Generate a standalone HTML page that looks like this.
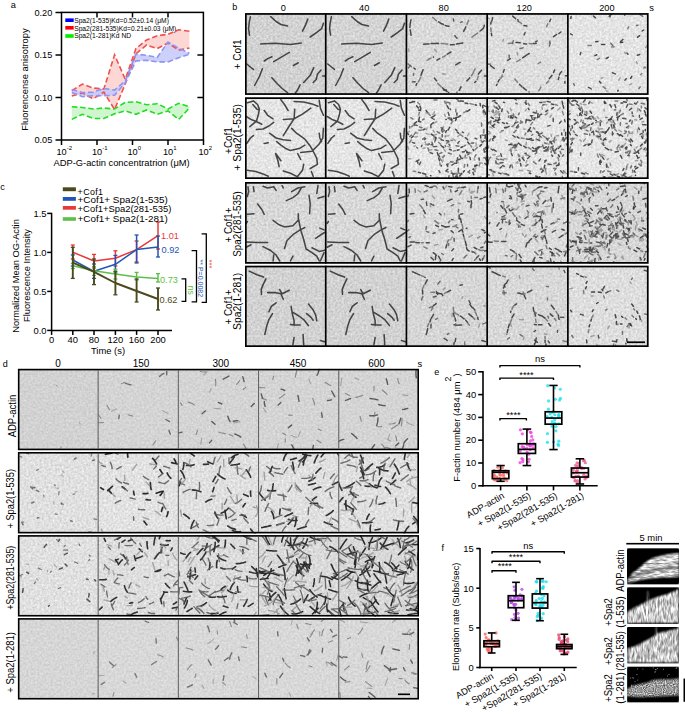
<!DOCTYPE html>
<html><head><meta charset="utf-8"><style>
html,body{margin:0;padding:0;background:#fff;width:685px;height:714px;overflow:hidden}
svg{display:block;font-family:"Liberation Sans", sans-serif}
</style></head><body>
<svg width="685" height="714" viewBox="0 0 685 714">
<defs>
<filter id="nz" x="0" y="0" width="100%" height="100%" color-interpolation-filters="sRGB"><feTurbulence type="fractalNoise" baseFrequency="0.45" numOctaves="2" seed="4" result="t"/><feColorMatrix in="t" type="matrix" values="1 0 0 0 0  1 0 0 0 0  1 0 0 0 0  0 0 0 0 1" result="g0"/><feGaussianBlur in="g0" stdDeviation="0.5" result="g"/><feComposite in="SourceGraphic" in2="g" operator="arithmetic" k1="0" k2="1" k3="0.24" k4="-0.12"/></filter>
<filter id="kn0" x="0" y="0" width="100%" height="100%" color-interpolation-filters="sRGB"><feGaussianBlur in="SourceGraphic" stdDeviation="1.2" result="b"/><feTurbulence type="fractalNoise" baseFrequency="0.15 0.6" numOctaves="2" seed="7" result="t"/><feColorMatrix in="t" type="matrix" values="1 0 0 0 0  1 0 0 0 0  1 0 0 0 0  0 0 0 0 1" result="g"/><feComposite in="b" in2="g" operator="arithmetic" k1="1.2" k2="0.38" k3="0" k4="-0.04"/></filter>
<filter id="kn1" x="0" y="0" width="100%" height="100%" color-interpolation-filters="sRGB"><feGaussianBlur in="SourceGraphic" stdDeviation="1.2" result="b"/><feTurbulence type="fractalNoise" baseFrequency="0.6 0.15" numOctaves="2" seed="9" result="t"/><feColorMatrix in="t" type="matrix" values="1 0 0 0 0  1 0 0 0 0  1 0 0 0 0  0 0 0 0 1" result="g"/><feComposite in="b" in2="g" operator="arithmetic" k1="1.2" k2="0.38" k3="0" k4="-0.04"/></filter>
<filter id="kn2" x="0" y="0" width="100%" height="100%" color-interpolation-filters="sRGB"><feGaussianBlur in="SourceGraphic" stdDeviation="1.2" result="b"/><feTurbulence type="fractalNoise" baseFrequency="0.6 0.15" numOctaves="2" seed="11" result="t"/><feColorMatrix in="t" type="matrix" values="1 0 0 0 0  1 0 0 0 0  1 0 0 0 0  0 0 0 0 1" result="g"/><feComposite in="b" in2="g" operator="arithmetic" k1="1.2" k2="0.38" k3="0" k4="-0.04"/></filter>
<filter id="kn3" x="0" y="0" width="100%" height="100%" color-interpolation-filters="sRGB"><feGaussianBlur in="SourceGraphic" stdDeviation="1.2" result="b"/><feTurbulence type="fractalNoise" baseFrequency="0.9" numOctaves="1" seed="13" result="t"/><feColorMatrix in="t" type="matrix" values="1 0 0 0 0  1 0 0 0 0  1 0 0 0 0  0 0 0 0 1" result="g"/><feComposite in="b" in2="g" operator="arithmetic" k1="1.3" k2="0.05" k3="0" k4="-0.02"/></filter>
<filter id="nzl" x="0" y="0" width="100%" height="100%" color-interpolation-filters="sRGB"><feTurbulence type="fractalNoise" baseFrequency="0.45" numOctaves="2" seed="5" result="t"/><feColorMatrix in="t" type="matrix" values="1 0 0 0 0  1 0 0 0 0  1 0 0 0 0  0 0 0 0 1" result="g0"/><feGaussianBlur in="g0" stdDeviation="0.6" result="g"/><feComposite in="SourceGraphic" in2="g" operator="arithmetic" k1="0" k2="1" k3="0.16" k4="-0.08"/></filter>
<filter id="bl" x="-5%" y="-5%" width="110%" height="110%"><feGaussianBlur stdDeviation="0.55"/></filter>
</defs>
<polygon points="71.82,106.70 82.51,107.50 93.19,109.00 103.88,108.00 114.57,109.00 125.25,102.30 135.94,101.80 146.63,104.80 157.31,103.70 168.00,109.00 178.69,103.30 189.37,106.70 189.37,108.00 178.69,119.40 168.00,110.90 157.31,114.30 146.63,109.90 135.94,114.30 125.25,110.90 114.57,113.70 103.88,118.50 93.19,118.50 82.51,114.30 71.82,119.40" fill="#c8f5c8" stroke="none" fill-opacity="0.85"/>
<polygon points="71.82,90.60 82.51,84.10 93.19,88.00 103.88,89.00 114.57,54.80 125.25,79.30 135.94,48.60 146.63,39.90 157.31,35.80 168.00,34.30 178.69,29.70 189.37,31.20 189.37,48.10 178.69,50.10 168.00,43.00 157.31,48.60 146.63,45.00 135.94,53.70 125.25,84.00 114.57,109.50 103.88,92.10 93.19,98.80 82.51,93.10 71.82,96.00" fill="#fcd0cc" stroke="none" fill-opacity="0.85"/>
<polygon points="71.82,89.60 82.51,92.60 93.19,92.10 103.88,88.50 114.57,90.10 125.25,80.90 135.94,54.20 146.63,55.30 157.31,57.30 168.00,42.00 178.69,48.10 189.37,53.20 189.37,54.20 178.69,57.80 168.00,61.90 157.31,61.90 146.63,60.40 135.94,60.90 125.25,82.90 114.57,95.20 103.88,95.70 93.19,95.70 82.51,96.70 71.82,92.60" fill="#c4c8f8" stroke="none" fill-opacity="0.85"/>
<polyline points="71.82,106.70 82.51,107.50 93.19,109.00 103.88,108.00 114.57,109.00 125.25,102.30 135.94,101.80 146.63,104.80 157.31,103.70 168.00,109.00 178.69,103.30 189.37,106.70" fill="none" stroke="#22dd22" stroke-width="1.6" stroke-dasharray="5.5 2.8"/>
<polyline points="71.82,119.40 82.51,114.30 93.19,118.50 103.88,118.50 114.57,113.70 125.25,110.90 135.94,114.30 146.63,109.90 157.31,114.30 168.00,110.90 178.69,119.40 189.37,108.00" fill="none" stroke="#22dd22" stroke-width="1.6" stroke-dasharray="5.5 2.8"/>
<polyline points="71.82,90.60 82.51,84.10 93.19,88.00 103.88,89.00 114.57,54.80 125.25,79.30 135.94,48.60 146.63,39.90 157.31,35.80 168.00,34.30 178.69,29.70 189.37,31.20" fill="none" stroke="#f05050" stroke-width="1.6" stroke-dasharray="5.5 2.8"/>
<polyline points="71.82,96.00 82.51,93.10 93.19,98.80 103.88,92.10 114.57,109.50 125.25,84.00 135.94,53.70 146.63,45.00 157.31,48.60 168.00,43.00 178.69,50.10 189.37,48.10" fill="none" stroke="#f05050" stroke-width="1.6" stroke-dasharray="5.5 2.8"/>
<polyline points="71.82,89.60 82.51,92.60 93.19,92.10 103.88,88.50 114.57,90.10 125.25,80.90 135.94,54.20 146.63,55.30 157.31,57.30 168.00,42.00 178.69,48.10 189.37,53.20" fill="none" stroke="#8c94f4" stroke-width="1.6" stroke-dasharray="5.5 2.8"/>
<polyline points="71.82,92.60 82.51,96.70 93.19,95.70 103.88,95.70 114.57,95.20 125.25,82.90 135.94,60.90 146.63,60.40 157.31,61.90 168.00,61.90 178.69,57.80 189.37,54.20" fill="none" stroke="#8c94f4" stroke-width="1.6" stroke-dasharray="5.5 2.8"/>
<rect x="61.5" y="12.4" width="141.9" height="127.6" fill="none" stroke="#000" stroke-width="1.5"/>
<line x1="55.50" y1="12.50" x2="61.50" y2="12.50" stroke="#000" stroke-width="1.5"/>
<text x="52.3" y="15.9" font-size="9.2" text-anchor="end" fill="#000">0.20</text>
<line x1="55.50" y1="55.00" x2="61.50" y2="55.00" stroke="#000" stroke-width="1.5"/>
<line x1="197.40" y1="55.00" x2="203.40" y2="55.00" stroke="#000" stroke-width="1.5"/>
<text x="52.3" y="58.4" font-size="9.2" text-anchor="end" fill="#000">0.15</text>
<line x1="55.50" y1="97.50" x2="61.50" y2="97.50" stroke="#000" stroke-width="1.5"/>
<line x1="197.40" y1="97.50" x2="203.40" y2="97.50" stroke="#000" stroke-width="1.5"/>
<text x="52.3" y="100.9" font-size="9.2" text-anchor="end" fill="#000">0.10</text>
<line x1="55.50" y1="140.00" x2="61.50" y2="140.00" stroke="#000" stroke-width="1.5"/>
<text x="52.3" y="143.4" font-size="9.2" text-anchor="end" fill="#000">0.05</text>
<line x1="61.50" y1="140.00" x2="61.50" y2="145.00" stroke="#000" stroke-width="1.5"/>
<text x="61.6" y="154.6" font-size="9.2" text-anchor="middle">10</text>
<text x="66.8" y="149.6" font-size="6" text-anchor="start">-2</text>
<line x1="97.00" y1="140.00" x2="97.00" y2="145.00" stroke="#000" stroke-width="1.5"/>
<line x1="97.00" y1="12.40" x2="97.00" y2="17.40" stroke="#000" stroke-width="1.5"/>
<text x="97.1" y="154.6" font-size="9.2" text-anchor="middle">10</text>
<text x="102.3" y="149.6" font-size="6" text-anchor="start">-1</text>
<line x1="132.50" y1="140.00" x2="132.50" y2="145.00" stroke="#000" stroke-width="1.5"/>
<line x1="132.50" y1="12.40" x2="132.50" y2="17.40" stroke="#000" stroke-width="1.5"/>
<text x="132.6" y="154.6" font-size="9.2" text-anchor="middle">10</text>
<text x="137.8" y="149.6" font-size="6" text-anchor="start">0</text>
<line x1="168.00" y1="140.00" x2="168.00" y2="145.00" stroke="#000" stroke-width="1.5"/>
<line x1="168.00" y1="12.40" x2="168.00" y2="17.40" stroke="#000" stroke-width="1.5"/>
<text x="168.1" y="154.6" font-size="9.2" text-anchor="middle">10</text>
<text x="173.3" y="149.6" font-size="6" text-anchor="start">1</text>
<line x1="203.50" y1="140.00" x2="203.50" y2="145.00" stroke="#000" stroke-width="1.5"/>
<text x="203.6" y="154.6" font-size="9.2" text-anchor="middle">10</text>
<text x="208.8" y="149.6" font-size="6" text-anchor="start">2</text>
<text x="121.6" y="165.6" font-size="9.35" text-anchor="middle" fill="#000">ADP-G-actin concentratrion (μM)</text>
<text x="28.3" y="79.5" font-size="9.35" text-anchor="middle" fill="#000" transform="rotate(-90 28.3 79.5)">Fluorencense anisotropy</text>
<text x="10.8" y="7.9" font-size="9.2" text-anchor="start" fill="#000">a</text>
<rect x="65.3" y="18.4" width="8.4" height="3.6" fill="#0000ff"/>
<rect x="65.3" y="26.0" width="8.4" height="3.6" fill="#ff0000"/>
<rect x="65.3" y="34.2" width="8.4" height="3.6" fill="#00ee00"/>
<text x="74.2" y="23.0" font-size="6.7" text-anchor="start" fill="#000">Spa2(1-535)Kd=0.52±0.14 (μM)</text>
<text x="74.2" y="30.6" font-size="6.7" text-anchor="start" fill="#000">Spa2(281-535)Kd=0.21±0.03 (μM)</text>
<text x="74.2" y="38.4" font-size="6.7" text-anchor="start" fill="#000">Spa2(1-281)Kd ND</text>
<line x1="72.80" y1="245.00" x2="72.80" y2="259.00" stroke="#e83838" stroke-width="1.5"/>
<line x1="70.80" y1="245.00" x2="74.80" y2="245.00" stroke="#e83838" stroke-width="1.3"/>
<line x1="70.80" y1="259.00" x2="74.80" y2="259.00" stroke="#e83838" stroke-width="1.3"/>
<line x1="94.00" y1="254.40" x2="94.00" y2="268.00" stroke="#e83838" stroke-width="1.5"/>
<line x1="92.00" y1="254.40" x2="96.00" y2="254.40" stroke="#e83838" stroke-width="1.3"/>
<line x1="92.00" y1="268.00" x2="96.00" y2="268.00" stroke="#e83838" stroke-width="1.3"/>
<line x1="115.40" y1="250.80" x2="115.40" y2="266.00" stroke="#e83838" stroke-width="1.5"/>
<line x1="113.40" y1="250.80" x2="117.40" y2="250.80" stroke="#e83838" stroke-width="1.3"/>
<line x1="113.40" y1="266.00" x2="117.40" y2="266.00" stroke="#e83838" stroke-width="1.3"/>
<line x1="136.60" y1="241.00" x2="136.60" y2="262.00" stroke="#e83838" stroke-width="1.5"/>
<line x1="134.60" y1="241.00" x2="138.60" y2="241.00" stroke="#e83838" stroke-width="1.3"/>
<line x1="134.60" y1="262.00" x2="138.60" y2="262.00" stroke="#e83838" stroke-width="1.3"/>
<line x1="158.00" y1="222.00" x2="158.00" y2="249.00" stroke="#e83838" stroke-width="1.5"/>
<line x1="156.00" y1="222.00" x2="160.00" y2="222.00" stroke="#e83838" stroke-width="1.3"/>
<line x1="156.00" y1="249.00" x2="160.00" y2="249.00" stroke="#e83838" stroke-width="1.3"/>
<polyline points="72.80,252.20 94.00,261.00 115.40,258.20 136.60,249.60 158.00,235.60" fill="none" stroke="#e83838" stroke-width="1.5" stroke-linejoin="round"/>
<line x1="72.80" y1="255.00" x2="72.80" y2="266.00" stroke="#2255b5" stroke-width="1.5"/>
<line x1="70.80" y1="255.00" x2="74.80" y2="255.00" stroke="#2255b5" stroke-width="1.3"/>
<line x1="70.80" y1="266.00" x2="74.80" y2="266.00" stroke="#2255b5" stroke-width="1.3"/>
<line x1="94.00" y1="264.00" x2="94.00" y2="278.40" stroke="#2255b5" stroke-width="1.5"/>
<line x1="92.00" y1="264.00" x2="96.00" y2="264.00" stroke="#2255b5" stroke-width="1.3"/>
<line x1="92.00" y1="278.40" x2="96.00" y2="278.40" stroke="#2255b5" stroke-width="1.3"/>
<line x1="115.40" y1="255.40" x2="115.40" y2="273.00" stroke="#2255b5" stroke-width="1.5"/>
<line x1="113.40" y1="255.40" x2="117.40" y2="255.40" stroke="#2255b5" stroke-width="1.3"/>
<line x1="113.40" y1="273.00" x2="117.40" y2="273.00" stroke="#2255b5" stroke-width="1.3"/>
<line x1="136.60" y1="235.00" x2="136.60" y2="263.00" stroke="#2255b5" stroke-width="1.5"/>
<line x1="134.60" y1="235.00" x2="138.60" y2="235.00" stroke="#2255b5" stroke-width="1.3"/>
<line x1="134.60" y1="263.00" x2="138.60" y2="263.00" stroke="#2255b5" stroke-width="1.3"/>
<line x1="158.00" y1="236.00" x2="158.00" y2="257.00" stroke="#2255b5" stroke-width="1.5"/>
<line x1="156.00" y1="236.00" x2="160.00" y2="236.00" stroke="#2255b5" stroke-width="1.3"/>
<line x1="156.00" y1="257.00" x2="160.00" y2="257.00" stroke="#2255b5" stroke-width="1.3"/>
<polyline points="72.80,260.00 94.00,271.30 115.40,264.30 136.60,249.60 158.00,247.00" fill="none" stroke="#2255b5" stroke-width="1.5" stroke-linejoin="round"/>
<line x1="72.80" y1="263.40" x2="72.80" y2="268.50" stroke="#5cbf48" stroke-width="1.5"/>
<line x1="70.80" y1="263.40" x2="74.80" y2="263.40" stroke="#5cbf48" stroke-width="1.3"/>
<line x1="70.80" y1="268.50" x2="74.80" y2="268.50" stroke="#5cbf48" stroke-width="1.3"/>
<line x1="94.00" y1="266.50" x2="94.00" y2="275.40" stroke="#5cbf48" stroke-width="1.5"/>
<line x1="92.00" y1="266.50" x2="96.00" y2="266.50" stroke="#5cbf48" stroke-width="1.3"/>
<line x1="92.00" y1="275.40" x2="96.00" y2="275.40" stroke="#5cbf48" stroke-width="1.3"/>
<line x1="115.40" y1="269.20" x2="115.40" y2="279.00" stroke="#5cbf48" stroke-width="1.5"/>
<line x1="113.40" y1="269.20" x2="117.40" y2="269.20" stroke="#5cbf48" stroke-width="1.3"/>
<line x1="113.40" y1="279.00" x2="117.40" y2="279.00" stroke="#5cbf48" stroke-width="1.3"/>
<line x1="136.60" y1="272.40" x2="136.60" y2="280.00" stroke="#5cbf48" stroke-width="1.5"/>
<line x1="134.60" y1="272.40" x2="138.60" y2="272.40" stroke="#5cbf48" stroke-width="1.3"/>
<line x1="134.60" y1="280.00" x2="138.60" y2="280.00" stroke="#5cbf48" stroke-width="1.3"/>
<line x1="158.00" y1="273.60" x2="158.00" y2="282.00" stroke="#5cbf48" stroke-width="1.5"/>
<line x1="156.00" y1="273.60" x2="160.00" y2="273.60" stroke="#5cbf48" stroke-width="1.3"/>
<line x1="156.00" y1="282.00" x2="160.00" y2="282.00" stroke="#5cbf48" stroke-width="1.3"/>
<polyline points="72.80,265.70 94.00,270.80 115.40,274.00 136.60,277.00 158.00,278.40" fill="none" stroke="#5cbf48" stroke-width="1.5" stroke-linejoin="round"/>
<line x1="72.80" y1="247.30" x2="72.80" y2="278.40" stroke="#4a4a1e" stroke-width="1.9"/>
<line x1="70.80" y1="247.30" x2="74.80" y2="247.30" stroke="#4a4a1e" stroke-width="1.3"/>
<line x1="70.80" y1="278.40" x2="74.80" y2="278.40" stroke="#4a4a1e" stroke-width="1.3"/>
<line x1="94.00" y1="259.00" x2="94.00" y2="284.60" stroke="#4a4a1e" stroke-width="1.9"/>
<line x1="92.00" y1="259.00" x2="96.00" y2="259.00" stroke="#4a4a1e" stroke-width="1.3"/>
<line x1="92.00" y1="284.60" x2="96.00" y2="284.60" stroke="#4a4a1e" stroke-width="1.3"/>
<line x1="115.40" y1="271.30" x2="115.40" y2="294.80" stroke="#4a4a1e" stroke-width="1.9"/>
<line x1="113.40" y1="271.30" x2="117.40" y2="271.30" stroke="#4a4a1e" stroke-width="1.3"/>
<line x1="113.40" y1="294.80" x2="117.40" y2="294.80" stroke="#4a4a1e" stroke-width="1.3"/>
<line x1="136.60" y1="279.00" x2="136.60" y2="302.00" stroke="#4a4a1e" stroke-width="1.9"/>
<line x1="134.60" y1="279.00" x2="138.60" y2="279.00" stroke="#4a4a1e" stroke-width="1.3"/>
<line x1="134.60" y1="302.00" x2="138.60" y2="302.00" stroke="#4a4a1e" stroke-width="1.3"/>
<line x1="158.00" y1="288.00" x2="158.00" y2="310.00" stroke="#4a4a1e" stroke-width="1.9"/>
<line x1="156.00" y1="288.00" x2="160.00" y2="288.00" stroke="#4a4a1e" stroke-width="1.3"/>
<line x1="156.00" y1="310.00" x2="160.00" y2="310.00" stroke="#4a4a1e" stroke-width="1.3"/>
<polyline points="72.80,262.60 94.00,271.80 115.40,283.00 136.60,291.00 158.00,299.00" fill="none" stroke="#4a4a1e" stroke-width="1.9" stroke-linejoin="round"/>
<line x1="51.60" y1="212.80" x2="51.60" y2="331.10" stroke="#000" stroke-width="1.5"/>
<line x1="50.90" y1="330.40" x2="172.00" y2="330.40" stroke="#000" stroke-width="1.5"/>
<line x1="47.20" y1="213.40" x2="51.60" y2="213.40" stroke="#000" stroke-width="1.5"/>
<text x="46.5" y="216.8" font-size="9.4" text-anchor="end" fill="#000">1.5</text>
<line x1="47.20" y1="252.40" x2="51.60" y2="252.40" stroke="#000" stroke-width="1.5"/>
<text x="46.5" y="255.8" font-size="9.4" text-anchor="end" fill="#000">1.0</text>
<line x1="47.20" y1="291.40" x2="51.60" y2="291.40" stroke="#000" stroke-width="1.5"/>
<text x="46.5" y="294.8" font-size="9.4" text-anchor="end" fill="#000">0.5</text>
<line x1="47.20" y1="330.40" x2="51.60" y2="330.40" stroke="#000" stroke-width="1.5"/>
<text x="46.5" y="333.8" font-size="9.4" text-anchor="end" fill="#000">0.0</text>
<line x1="51.60" y1="330.40" x2="51.60" y2="334.90" stroke="#000" stroke-width="1.5"/>
<text x="51.6" y="343.3" font-size="9.4" text-anchor="middle" fill="#000">0</text>
<line x1="72.80" y1="330.40" x2="72.80" y2="334.90" stroke="#000" stroke-width="1.5"/>
<text x="72.8" y="343.3" font-size="9.4" text-anchor="middle" fill="#000">40</text>
<line x1="94.00" y1="330.40" x2="94.00" y2="334.90" stroke="#000" stroke-width="1.5"/>
<text x="94.0" y="343.3" font-size="9.4" text-anchor="middle" fill="#000">80</text>
<line x1="115.40" y1="330.40" x2="115.40" y2="334.90" stroke="#000" stroke-width="1.5"/>
<text x="115.4" y="343.3" font-size="9.4" text-anchor="middle" fill="#000">120</text>
<line x1="136.60" y1="330.40" x2="136.60" y2="334.90" stroke="#000" stroke-width="1.5"/>
<text x="136.6" y="343.3" font-size="9.4" text-anchor="middle" fill="#000">160</text>
<line x1="158.00" y1="330.40" x2="158.00" y2="334.90" stroke="#000" stroke-width="1.5"/>
<text x="158.0" y="343.3" font-size="9.4" text-anchor="middle" fill="#000">200</text>
<text x="108.0" y="354.0" font-size="9.4" text-anchor="middle" fill="#000">Time (s)</text>
<text x="19.0" y="276.0" font-size="9.3" text-anchor="middle" fill="#000" transform="rotate(-90 19.0 276)">Normalized Mean OG-Actin</text>
<text x="29.5" y="275.5" font-size="9.3" text-anchor="middle" fill="#000" transform="rotate(-90 29.5 275.5)">Fluorescence Intensity</text>
<text x="0.3" y="190.3" font-size="9.2" text-anchor="start" fill="#000">c</text>
<rect x="62.8" y="187.3" width="13.1" height="3.9" fill="#4a4a1e"/>
<rect x="62.8" y="197" width="13.1" height="3.8" fill="#2255b5"/>
<rect x="62.8" y="206" width="13.1" height="3.7" fill="#e83838"/>
<rect x="62.8" y="217.2" width="13.1" height="3.6" fill="#5cbf48"/>
<text x="77.6" y="194.7" font-size="8.9" text-anchor="start" fill="#000" textLength="25.4" lengthAdjust="spacing">+Cof1</text>
<text x="77.6" y="202.7" font-size="8.9" text-anchor="start" fill="#000" textLength="90.2" lengthAdjust="spacingAndGlyphs">+Cof1+ Spa2(1-535)</text>
<text x="77.6" y="211.9" font-size="8.9" text-anchor="start" fill="#000" textLength="93.7" lengthAdjust="spacingAndGlyphs">+Cof1+Spa2(281-535)</text>
<text x="77.6" y="222.0" font-size="8.9" text-anchor="start" fill="#000" textLength="90.2" lengthAdjust="spacingAndGlyphs">+Cof1+ Spa2(1-281)</text>
<text x="161.0" y="239.0" font-size="9.2" text-anchor="start" fill="#e83838">1.01</text>
<text x="161.6" y="252.8" font-size="9.2" text-anchor="start" fill="#2255b5">0.92</text>
<text x="160.0" y="283.0" font-size="9.2" text-anchor="start" fill="#5cbf48">0.73</text>
<text x="159.6" y="302.8" font-size="9.2" text-anchor="start" fill="#4a4a1e">0.62</text>
<polyline points="181.50,278.90 185.70,278.90 185.70,301.40 181.50,301.40" fill="none" stroke="#000" stroke-width="1.3"/>
<polyline points="191.60,250.60 196.50,250.60 196.50,301.90 191.60,301.90" fill="none" stroke="#000" stroke-width="1.3"/>
<polyline points="201.60,233.90 206.30,233.90 206.30,302.30 201.60,302.30" fill="none" stroke="#000" stroke-width="1.3"/>
<text x="188.3" y="290.2" font-size="8.6" text-anchor="middle" fill="#5cbf48" transform="rotate(90 188.3 290.2)">ns</text>
<text x="197.9" y="278.3" font-size="7.0" text-anchor="middle" fill="#2255b5" transform="rotate(90 197.9 278.3)">** P=0.0082</text>
<text x="206.6" y="264.0" font-size="7.5" text-anchor="middle" fill="#e83838" transform="rotate(90 206.6 264.0)">***</text>
<circle cx="504.26" cy="471.93" r="1.6" fill="#ff6a6a" fill-opacity="0.8"/>
<circle cx="499.90" cy="474.70" r="1.6" fill="#ff6a6a" fill-opacity="0.8"/>
<circle cx="494.97" cy="479.17" r="1.6" fill="#ff6a6a" fill-opacity="0.8"/>
<circle cx="499.67" cy="472.02" r="1.6" fill="#ff6a6a" fill-opacity="0.8"/>
<circle cx="499.84" cy="470.71" r="1.6" fill="#ff6a6a" fill-opacity="0.8"/>
<circle cx="506.77" cy="480.68" r="1.6" fill="#ff6a6a" fill-opacity="0.8"/>
<circle cx="494.02" cy="470.57" r="1.6" fill="#ff6a6a" fill-opacity="0.8"/>
<circle cx="498.95" cy="478.76" r="1.6" fill="#ff6a6a" fill-opacity="0.8"/>
<circle cx="494.07" cy="475.28" r="1.6" fill="#ff6a6a" fill-opacity="0.8"/>
<circle cx="500.54" cy="475.15" r="1.6" fill="#ff6a6a" fill-opacity="0.8"/>
<circle cx="496.70" cy="476.78" r="1.6" fill="#ff6a6a" fill-opacity="0.8"/>
<circle cx="493.97" cy="476.32" r="1.6" fill="#ff6a6a" fill-opacity="0.8"/>
<circle cx="502.57" cy="467.85" r="1.6" fill="#ff6a6a" fill-opacity="0.8"/>
<circle cx="505.59" cy="470.78" r="1.6" fill="#ff6a6a" fill-opacity="0.8"/>
<circle cx="503.67" cy="475.98" r="1.6" fill="#ff6a6a" fill-opacity="0.8"/>
<circle cx="499.52" cy="478.77" r="1.6" fill="#ff6a6a" fill-opacity="0.8"/>
<circle cx="497.87" cy="467.26" r="1.6" fill="#ff6a6a" fill-opacity="0.8"/>
<circle cx="505.40" cy="478.92" r="1.6" fill="#ff6a6a" fill-opacity="0.8"/>
<circle cx="494.15" cy="479.71" r="1.6" fill="#ff6a6a" fill-opacity="0.8"/>
<circle cx="499.41" cy="472.32" r="1.6" fill="#ff6a6a" fill-opacity="0.8"/>
<circle cx="503.41" cy="474.28" r="1.6" fill="#ff6a6a" fill-opacity="0.8"/>
<circle cx="499.75" cy="480.29" r="1.6" fill="#ff6a6a" fill-opacity="0.8"/>
<circle cx="500.89" cy="479.20" r="1.6" fill="#ff6a6a" fill-opacity="0.8"/>
<circle cx="494.08" cy="474.74" r="1.6" fill="#ff6a6a" fill-opacity="0.8"/>
<circle cx="507.30" cy="473.06" r="1.6" fill="#ff6a6a" fill-opacity="0.8"/>
<circle cx="496.03" cy="480.24" r="1.6" fill="#ff6a6a" fill-opacity="0.8"/>
<circle cx="504.35" cy="478.65" r="1.6" fill="#ff6a6a" fill-opacity="0.8"/>
<circle cx="496.89" cy="478.98" r="1.6" fill="#ff6a6a" fill-opacity="0.8"/>
<line x1="500.60" y1="465.55" x2="500.60" y2="470.73" stroke="#000" stroke-width="1.6"/>
<line x1="500.60" y1="478.60" x2="500.60" y2="481.30" stroke="#000" stroke-width="1.6"/>
<line x1="496.48" y1="465.55" x2="504.73" y2="465.55" stroke="#000" stroke-width="1.6"/>
<line x1="496.48" y1="481.30" x2="504.73" y2="481.30" stroke="#000" stroke-width="1.6"/>
<rect x="492.35" y="470.73" width="16.50" height="7.88" fill="none" stroke="#000" stroke-width="1.7"/>
<line x1="492.35" y1="472.30" x2="508.85" y2="472.30" stroke="#000" stroke-width="1.7"/>
<circle cx="520.49" cy="429.86" r="1.6" fill="#ee44dd" fill-opacity="0.8"/>
<circle cx="530.31" cy="445.32" r="1.6" fill="#ee44dd" fill-opacity="0.8"/>
<circle cx="528.43" cy="461.81" r="1.6" fill="#ee44dd" fill-opacity="0.8"/>
<circle cx="521.96" cy="458.49" r="1.6" fill="#ee44dd" fill-opacity="0.8"/>
<circle cx="530.12" cy="449.59" r="1.6" fill="#ee44dd" fill-opacity="0.8"/>
<circle cx="527.54" cy="429.84" r="1.6" fill="#ee44dd" fill-opacity="0.8"/>
<circle cx="520.20" cy="450.80" r="1.6" fill="#ee44dd" fill-opacity="0.8"/>
<circle cx="524.28" cy="448.90" r="1.6" fill="#ee44dd" fill-opacity="0.8"/>
<circle cx="527.27" cy="444.77" r="1.6" fill="#ee44dd" fill-opacity="0.8"/>
<circle cx="520.02" cy="462.68" r="1.6" fill="#ee44dd" fill-opacity="0.8"/>
<circle cx="527.05" cy="452.08" r="1.6" fill="#ee44dd" fill-opacity="0.8"/>
<circle cx="522.30" cy="433.86" r="1.6" fill="#ee44dd" fill-opacity="0.8"/>
<circle cx="530.29" cy="432.07" r="1.6" fill="#ee44dd" fill-opacity="0.8"/>
<circle cx="531.09" cy="432.57" r="1.6" fill="#ee44dd" fill-opacity="0.8"/>
<circle cx="533.57" cy="443.91" r="1.6" fill="#ee44dd" fill-opacity="0.8"/>
<circle cx="530.01" cy="446.11" r="1.6" fill="#ee44dd" fill-opacity="0.8"/>
<circle cx="526.76" cy="448.27" r="1.6" fill="#ee44dd" fill-opacity="0.8"/>
<circle cx="531.69" cy="436.40" r="1.6" fill="#ee44dd" fill-opacity="0.8"/>
<circle cx="532.67" cy="444.86" r="1.6" fill="#ee44dd" fill-opacity="0.8"/>
<circle cx="532.97" cy="447.91" r="1.6" fill="#ee44dd" fill-opacity="0.8"/>
<circle cx="522.88" cy="459.64" r="1.6" fill="#ee44dd" fill-opacity="0.8"/>
<circle cx="522.08" cy="446.63" r="1.6" fill="#ee44dd" fill-opacity="0.8"/>
<circle cx="532.84" cy="439.80" r="1.6" fill="#ee44dd" fill-opacity="0.8"/>
<circle cx="529.88" cy="444.14" r="1.6" fill="#ee44dd" fill-opacity="0.8"/>
<circle cx="529.09" cy="459.26" r="1.6" fill="#ee44dd" fill-opacity="0.8"/>
<circle cx="522.68" cy="461.76" r="1.6" fill="#ee44dd" fill-opacity="0.8"/>
<circle cx="528.68" cy="454.20" r="1.6" fill="#ee44dd" fill-opacity="0.8"/>
<circle cx="530.16" cy="445.46" r="1.6" fill="#ee44dd" fill-opacity="0.8"/>
<circle cx="530.44" cy="440.93" r="1.6" fill="#ee44dd" fill-opacity="0.8"/>
<circle cx="523.62" cy="447.08" r="1.6" fill="#ee44dd" fill-opacity="0.8"/>
<line x1="526.90" y1="429.10" x2="526.90" y2="443.73" stroke="#000" stroke-width="1.6"/>
<line x1="526.90" y1="453.40" x2="526.90" y2="465.55" stroke="#000" stroke-width="1.6"/>
<line x1="522.60" y1="429.10" x2="531.20" y2="429.10" stroke="#000" stroke-width="1.6"/>
<line x1="522.60" y1="465.55" x2="531.20" y2="465.55" stroke="#000" stroke-width="1.6"/>
<rect x="518.30" y="443.73" width="17.20" height="9.68" fill="none" stroke="#000" stroke-width="1.7"/>
<line x1="518.30" y1="449.35" x2="535.50" y2="449.35" stroke="#000" stroke-width="1.7"/>
<circle cx="551.69" cy="417.42" r="1.6" fill="#18e4ee" fill-opacity="0.8"/>
<circle cx="547.44" cy="433.67" r="1.6" fill="#18e4ee" fill-opacity="0.8"/>
<circle cx="550.14" cy="413.79" r="1.6" fill="#18e4ee" fill-opacity="0.8"/>
<circle cx="553.09" cy="411.83" r="1.6" fill="#18e4ee" fill-opacity="0.8"/>
<circle cx="555.44" cy="399.24" r="1.6" fill="#18e4ee" fill-opacity="0.8"/>
<circle cx="558.63" cy="416.29" r="1.6" fill="#18e4ee" fill-opacity="0.8"/>
<circle cx="555.89" cy="430.73" r="1.6" fill="#18e4ee" fill-opacity="0.8"/>
<circle cx="554.77" cy="414.77" r="1.6" fill="#18e4ee" fill-opacity="0.8"/>
<circle cx="558.60" cy="423.77" r="1.6" fill="#18e4ee" fill-opacity="0.8"/>
<circle cx="558.78" cy="415.25" r="1.6" fill="#18e4ee" fill-opacity="0.8"/>
<circle cx="552.04" cy="426.16" r="1.6" fill="#18e4ee" fill-opacity="0.8"/>
<circle cx="559.57" cy="400.07" r="1.6" fill="#18e4ee" fill-opacity="0.8"/>
<circle cx="548.42" cy="409.21" r="1.6" fill="#18e4ee" fill-opacity="0.8"/>
<circle cx="552.61" cy="412.20" r="1.6" fill="#18e4ee" fill-opacity="0.8"/>
<circle cx="553.60" cy="441.92" r="1.6" fill="#18e4ee" fill-opacity="0.8"/>
<circle cx="554.69" cy="419.81" r="1.6" fill="#18e4ee" fill-opacity="0.8"/>
<circle cx="556.04" cy="426.59" r="1.6" fill="#18e4ee" fill-opacity="0.8"/>
<circle cx="560.35" cy="389.23" r="1.6" fill="#18e4ee" fill-opacity="0.8"/>
<circle cx="558.53" cy="445.43" r="1.6" fill="#18e4ee" fill-opacity="0.8"/>
<circle cx="554.46" cy="387.96" r="1.6" fill="#18e4ee" fill-opacity="0.8"/>
<circle cx="558.12" cy="444.21" r="1.6" fill="#18e4ee" fill-opacity="0.8"/>
<circle cx="547.41" cy="442.33" r="1.6" fill="#18e4ee" fill-opacity="0.8"/>
<circle cx="547.76" cy="385.72" r="1.6" fill="#18e4ee" fill-opacity="0.8"/>
<circle cx="548.63" cy="400.97" r="1.6" fill="#18e4ee" fill-opacity="0.8"/>
<circle cx="558.70" cy="414.64" r="1.6" fill="#18e4ee" fill-opacity="0.8"/>
<circle cx="547.15" cy="416.55" r="1.6" fill="#18e4ee" fill-opacity="0.8"/>
<circle cx="558.81" cy="441.16" r="1.6" fill="#18e4ee" fill-opacity="0.8"/>
<circle cx="560.45" cy="398.47" r="1.6" fill="#18e4ee" fill-opacity="0.8"/>
<circle cx="554.89" cy="423.20" r="1.6" fill="#18e4ee" fill-opacity="0.8"/>
<circle cx="552.22" cy="421.71" r="1.6" fill="#18e4ee" fill-opacity="0.8"/>
<line x1="553.50" y1="385.45" x2="553.50" y2="411.78" stroke="#000" stroke-width="1.6"/>
<line x1="553.50" y1="424.15" x2="553.50" y2="449.57" stroke="#000" stroke-width="1.6"/>
<line x1="549.35" y1="385.45" x2="557.65" y2="385.45" stroke="#000" stroke-width="1.6"/>
<line x1="549.35" y1="449.57" x2="557.65" y2="449.57" stroke="#000" stroke-width="1.6"/>
<rect x="545.20" y="411.78" width="16.60" height="12.38" fill="none" stroke="#000" stroke-width="1.7"/>
<line x1="545.20" y1="418.07" x2="561.80" y2="418.07" stroke="#000" stroke-width="1.7"/>
<circle cx="578.42" cy="476.10" r="1.6" fill="#f0608e" fill-opacity="0.8"/>
<circle cx="578.49" cy="476.43" r="1.6" fill="#f0608e" fill-opacity="0.8"/>
<circle cx="583.69" cy="460.64" r="1.6" fill="#f0608e" fill-opacity="0.8"/>
<circle cx="576.71" cy="472.19" r="1.6" fill="#f0608e" fill-opacity="0.8"/>
<circle cx="575.82" cy="476.07" r="1.6" fill="#f0608e" fill-opacity="0.8"/>
<circle cx="584.28" cy="460.38" r="1.6" fill="#f0608e" fill-opacity="0.8"/>
<circle cx="577.18" cy="466.24" r="1.6" fill="#f0608e" fill-opacity="0.8"/>
<circle cx="584.96" cy="478.90" r="1.6" fill="#f0608e" fill-opacity="0.8"/>
<circle cx="581.41" cy="467.23" r="1.6" fill="#f0608e" fill-opacity="0.8"/>
<circle cx="575.30" cy="480.47" r="1.6" fill="#f0608e" fill-opacity="0.8"/>
<circle cx="586.11" cy="476.22" r="1.6" fill="#f0608e" fill-opacity="0.8"/>
<circle cx="577.05" cy="462.97" r="1.6" fill="#f0608e" fill-opacity="0.8"/>
<circle cx="585.36" cy="462.74" r="1.6" fill="#f0608e" fill-opacity="0.8"/>
<circle cx="578.67" cy="463.34" r="1.6" fill="#f0608e" fill-opacity="0.8"/>
<circle cx="575.06" cy="480.99" r="1.6" fill="#f0608e" fill-opacity="0.8"/>
<circle cx="573.38" cy="469.71" r="1.6" fill="#f0608e" fill-opacity="0.8"/>
<circle cx="576.76" cy="471.39" r="1.6" fill="#f0608e" fill-opacity="0.8"/>
<circle cx="577.66" cy="480.71" r="1.6" fill="#f0608e" fill-opacity="0.8"/>
<circle cx="578.65" cy="466.22" r="1.6" fill="#f0608e" fill-opacity="0.8"/>
<circle cx="576.71" cy="471.33" r="1.6" fill="#f0608e" fill-opacity="0.8"/>
<circle cx="577.34" cy="470.30" r="1.6" fill="#f0608e" fill-opacity="0.8"/>
<circle cx="574.20" cy="477.69" r="1.6" fill="#f0608e" fill-opacity="0.8"/>
<circle cx="583.69" cy="474.97" r="1.6" fill="#f0608e" fill-opacity="0.8"/>
<circle cx="577.49" cy="482.34" r="1.6" fill="#f0608e" fill-opacity="0.8"/>
<circle cx="573.37" cy="472.89" r="1.6" fill="#f0608e" fill-opacity="0.8"/>
<circle cx="586.39" cy="477.75" r="1.6" fill="#f0608e" fill-opacity="0.8"/>
<circle cx="573.02" cy="477.30" r="1.6" fill="#f0608e" fill-opacity="0.8"/>
<circle cx="583.83" cy="468.33" r="1.6" fill="#f0608e" fill-opacity="0.8"/>
<circle cx="581.62" cy="468.54" r="1.6" fill="#f0608e" fill-opacity="0.8"/>
<circle cx="575.49" cy="465.32" r="1.6" fill="#f0608e" fill-opacity="0.8"/>
<line x1="579.90" y1="458.80" x2="579.90" y2="468.03" stroke="#000" stroke-width="1.6"/>
<line x1="579.90" y1="477.03" x2="579.90" y2="484.00" stroke="#000" stroke-width="1.6"/>
<line x1="575.65" y1="458.80" x2="584.15" y2="458.80" stroke="#000" stroke-width="1.6"/>
<line x1="575.65" y1="484.00" x2="584.15" y2="484.00" stroke="#000" stroke-width="1.6"/>
<rect x="571.40" y="468.03" width="17.00" height="9.00" fill="none" stroke="#000" stroke-width="1.7"/>
<line x1="571.40" y1="472.75" x2="588.40" y2="472.75" stroke="#000" stroke-width="1.7"/>
<line x1="483.00" y1="371.00" x2="483.00" y2="486.60" stroke="#000" stroke-width="1.6"/>
<line x1="482.20" y1="485.80" x2="597.70" y2="485.80" stroke="#000" stroke-width="1.6"/>
<line x1="478.20" y1="485.80" x2="483.00" y2="485.80" stroke="#000" stroke-width="1.6"/>
<text x="476.3" y="488.8" font-size="9.4" text-anchor="end" fill="#000">0</text>
<line x1="478.20" y1="463.00" x2="483.00" y2="463.00" stroke="#000" stroke-width="1.6"/>
<text x="476.3" y="466.0" font-size="9.4" text-anchor="end" fill="#000">10</text>
<line x1="478.20" y1="440.20" x2="483.00" y2="440.20" stroke="#000" stroke-width="1.6"/>
<text x="476.3" y="443.2" font-size="9.4" text-anchor="end" fill="#000">20</text>
<line x1="478.20" y1="417.40" x2="483.00" y2="417.40" stroke="#000" stroke-width="1.6"/>
<text x="476.3" y="420.4" font-size="9.4" text-anchor="end" fill="#000">30</text>
<line x1="478.20" y1="394.60" x2="483.00" y2="394.60" stroke="#000" stroke-width="1.6"/>
<text x="476.3" y="397.6" font-size="9.4" text-anchor="end" fill="#000">40</text>
<line x1="478.20" y1="371.80" x2="483.00" y2="371.80" stroke="#000" stroke-width="1.6"/>
<text x="476.3" y="374.8" font-size="9.4" text-anchor="end" fill="#000">50</text>
<line x1="500.60" y1="485.80" x2="500.60" y2="490.40" stroke="#000" stroke-width="1.6"/>
<line x1="526.90" y1="485.80" x2="526.90" y2="490.40" stroke="#000" stroke-width="1.6"/>
<line x1="553.50" y1="485.80" x2="553.50" y2="490.40" stroke="#000" stroke-width="1.6"/>
<line x1="579.90" y1="485.80" x2="579.90" y2="490.40" stroke="#000" stroke-width="1.6"/>
<text x="505.1" y="497.5" font-size="9.3" text-anchor="end" fill="#000" transform="rotate(-30 505.1 497.5)">ADP-actin</text>
<text x="531.4" y="497.5" font-size="9.3" text-anchor="end" fill="#000" transform="rotate(-30 531.4 497.5)">+ Spa2(1-535)</text>
<text x="558.0" y="497.5" font-size="9.3" text-anchor="end" fill="#000" transform="rotate(-30 558.0 497.5)">+Spa2(281-535)</text>
<text x="584.4" y="497.5" font-size="9.3" text-anchor="end" fill="#000" transform="rotate(-30 584.4 497.5)">+ Spa2(1-281)</text>
<path d="M499.90,420.60 L499.90,418.60 L526.40,418.60 L526.40,420.60" fill="none" stroke="#000" stroke-width="1.4" stroke-linejoin="round"/>
<path d="M499.90,380.10 L499.90,378.10 L553.50,378.10 L553.50,380.10" fill="none" stroke="#000" stroke-width="1.4" stroke-linejoin="round"/>
<path d="M499.90,367.60 L499.90,365.60 L579.90,365.60 L579.90,367.60" fill="none" stroke="#000" stroke-width="1.4" stroke-linejoin="round"/>
<text x="513.4" y="418.0" font-size="9.2" text-anchor="middle" fill="#000">****</text>
<text x="526.5" y="377.6" font-size="9.2" text-anchor="middle" fill="#000">****</text>
<text x="540.0" y="362.2" font-size="9.4" text-anchor="middle" fill="#000">ns</text>
<text x="460.3" y="427.6" font-size="9.4" text-anchor="middle" transform="rotate(-90 460.3 427.6)">F-actin number (484 μm<tspan dy="-9.3" font-size="8.8">2</tspan><tspan dy="9.3">)</tspan></text>
<text x="434.2" y="374.8" font-size="9.0" text-anchor="start" fill="#000">e</text>
<circle cx="497.22" cy="643.39" r="1.6" fill="#ff6060" fill-opacity="0.8"/>
<circle cx="492.84" cy="643.70" r="1.6" fill="#ff6060" fill-opacity="0.8"/>
<circle cx="493.39" cy="643.68" r="1.6" fill="#ff6060" fill-opacity="0.8"/>
<circle cx="489.14" cy="640.04" r="1.6" fill="#ff6060" fill-opacity="0.8"/>
<circle cx="494.22" cy="641.91" r="1.6" fill="#ff6060" fill-opacity="0.8"/>
<circle cx="497.75" cy="640.88" r="1.6" fill="#ff6060" fill-opacity="0.8"/>
<circle cx="487.24" cy="649.13" r="1.6" fill="#ff6060" fill-opacity="0.8"/>
<circle cx="485.97" cy="643.58" r="1.6" fill="#ff6060" fill-opacity="0.8"/>
<circle cx="485.58" cy="645.28" r="1.6" fill="#ff6060" fill-opacity="0.8"/>
<circle cx="496.16" cy="644.10" r="1.6" fill="#ff6060" fill-opacity="0.8"/>
<circle cx="491.70" cy="648.98" r="1.6" fill="#ff6060" fill-opacity="0.8"/>
<circle cx="488.81" cy="650.12" r="1.6" fill="#ff6060" fill-opacity="0.8"/>
<circle cx="496.13" cy="632.96" r="1.6" fill="#ff6060" fill-opacity="0.8"/>
<circle cx="488.18" cy="651.01" r="1.6" fill="#ff6060" fill-opacity="0.8"/>
<circle cx="495.17" cy="646.31" r="1.6" fill="#ff6060" fill-opacity="0.8"/>
<circle cx="490.22" cy="641.69" r="1.6" fill="#ff6060" fill-opacity="0.8"/>
<circle cx="485.20" cy="634.12" r="1.6" fill="#ff6060" fill-opacity="0.8"/>
<circle cx="491.31" cy="641.31" r="1.6" fill="#ff6060" fill-opacity="0.8"/>
<circle cx="486.14" cy="637.66" r="1.6" fill="#ff6060" fill-opacity="0.8"/>
<circle cx="488.70" cy="648.11" r="1.6" fill="#ff6060" fill-opacity="0.8"/>
<circle cx="497.74" cy="644.75" r="1.6" fill="#ff6060" fill-opacity="0.8"/>
<circle cx="488.40" cy="639.85" r="1.6" fill="#ff6060" fill-opacity="0.8"/>
<circle cx="495.57" cy="646.37" r="1.6" fill="#ff6060" fill-opacity="0.8"/>
<circle cx="491.02" cy="643.40" r="1.6" fill="#ff6060" fill-opacity="0.8"/>
<circle cx="486.90" cy="642.37" r="1.6" fill="#ff6060" fill-opacity="0.8"/>
<circle cx="490.67" cy="652.26" r="1.6" fill="#ff6060" fill-opacity="0.8"/>
<line x1="491.70" y1="632.93" x2="491.70" y2="640.78" stroke="#000" stroke-width="1.6"/>
<line x1="491.70" y1="646.72" x2="491.70" y2="652.99" stroke="#000" stroke-width="1.6"/>
<line x1="487.82" y1="632.93" x2="495.57" y2="632.93" stroke="#000" stroke-width="1.6"/>
<line x1="487.82" y1="652.99" x2="495.57" y2="652.99" stroke="#000" stroke-width="1.6"/>
<rect x="483.95" y="640.78" width="15.50" height="5.95" fill="none" stroke="#000" stroke-width="1.7"/>
<line x1="483.95" y1="643.63" x2="499.45" y2="643.63" stroke="#000" stroke-width="1.7"/>
<circle cx="518.17" cy="599.84" r="1.6" fill="#b84ae8" fill-opacity="0.8"/>
<circle cx="514.37" cy="607.58" r="1.6" fill="#b84ae8" fill-opacity="0.8"/>
<circle cx="518.48" cy="598.00" r="1.6" fill="#b84ae8" fill-opacity="0.8"/>
<circle cx="518.10" cy="613.28" r="1.6" fill="#b84ae8" fill-opacity="0.8"/>
<circle cx="511.60" cy="602.44" r="1.6" fill="#b84ae8" fill-opacity="0.8"/>
<circle cx="520.15" cy="594.95" r="1.6" fill="#b84ae8" fill-opacity="0.8"/>
<circle cx="513.88" cy="599.48" r="1.6" fill="#b84ae8" fill-opacity="0.8"/>
<circle cx="509.73" cy="597.62" r="1.6" fill="#b84ae8" fill-opacity="0.8"/>
<circle cx="516.12" cy="596.75" r="1.6" fill="#b84ae8" fill-opacity="0.8"/>
<circle cx="521.82" cy="595.89" r="1.6" fill="#b84ae8" fill-opacity="0.8"/>
<circle cx="511.25" cy="602.64" r="1.6" fill="#b84ae8" fill-opacity="0.8"/>
<circle cx="511.62" cy="600.27" r="1.6" fill="#b84ae8" fill-opacity="0.8"/>
<circle cx="511.72" cy="619.67" r="1.6" fill="#b84ae8" fill-opacity="0.8"/>
<circle cx="514.94" cy="590.37" r="1.6" fill="#b84ae8" fill-opacity="0.8"/>
<circle cx="514.50" cy="614.31" r="1.6" fill="#b84ae8" fill-opacity="0.8"/>
<circle cx="522.09" cy="599.01" r="1.6" fill="#b84ae8" fill-opacity="0.8"/>
<circle cx="514.13" cy="586.84" r="1.6" fill="#b84ae8" fill-opacity="0.8"/>
<circle cx="518.26" cy="599.44" r="1.6" fill="#b84ae8" fill-opacity="0.8"/>
<circle cx="514.22" cy="604.89" r="1.6" fill="#b84ae8" fill-opacity="0.8"/>
<circle cx="516.00" cy="610.10" r="1.6" fill="#b84ae8" fill-opacity="0.8"/>
<circle cx="515.09" cy="597.86" r="1.6" fill="#b84ae8" fill-opacity="0.8"/>
<circle cx="515.05" cy="617.52" r="1.6" fill="#b84ae8" fill-opacity="0.8"/>
<circle cx="510.83" cy="598.46" r="1.6" fill="#b84ae8" fill-opacity="0.8"/>
<circle cx="518.55" cy="618.07" r="1.6" fill="#b84ae8" fill-opacity="0.8"/>
<circle cx="513.97" cy="604.40" r="1.6" fill="#b84ae8" fill-opacity="0.8"/>
<circle cx="515.47" cy="619.66" r="1.6" fill="#b84ae8" fill-opacity="0.8"/>
<circle cx="515.69" cy="604.33" r="1.6" fill="#b84ae8" fill-opacity="0.8"/>
<circle cx="521.94" cy="589.29" r="1.6" fill="#b84ae8" fill-opacity="0.8"/>
<circle cx="514.23" cy="596.64" r="1.6" fill="#b84ae8" fill-opacity="0.8"/>
<circle cx="521.36" cy="598.74" r="1.6" fill="#b84ae8" fill-opacity="0.8"/>
<line x1="516.00" y1="582.33" x2="516.00" y2="595.73" stroke="#000" stroke-width="1.6"/>
<line x1="516.00" y1="607.71" x2="516.00" y2="620.32" stroke="#000" stroke-width="1.6"/>
<line x1="512.12" y1="582.33" x2="519.88" y2="582.33" stroke="#000" stroke-width="1.6"/>
<line x1="512.12" y1="620.32" x2="519.88" y2="620.32" stroke="#000" stroke-width="1.6"/>
<rect x="508.25" y="595.73" width="15.50" height="11.97" fill="none" stroke="#000" stroke-width="1.7"/>
<line x1="508.25" y1="600.73" x2="523.75" y2="600.73" stroke="#000" stroke-width="1.7"/>
<circle cx="542.38" cy="598.38" r="1.6" fill="#14e0ee" fill-opacity="0.8"/>
<circle cx="536.51" cy="591.08" r="1.6" fill="#14e0ee" fill-opacity="0.8"/>
<circle cx="543.03" cy="604.91" r="1.6" fill="#14e0ee" fill-opacity="0.8"/>
<circle cx="536.30" cy="600.56" r="1.6" fill="#14e0ee" fill-opacity="0.8"/>
<circle cx="544.37" cy="601.98" r="1.6" fill="#14e0ee" fill-opacity="0.8"/>
<circle cx="537.10" cy="620.53" r="1.6" fill="#14e0ee" fill-opacity="0.8"/>
<circle cx="544.01" cy="595.74" r="1.6" fill="#14e0ee" fill-opacity="0.8"/>
<circle cx="543.17" cy="581.33" r="1.6" fill="#14e0ee" fill-opacity="0.8"/>
<circle cx="536.85" cy="581.82" r="1.6" fill="#14e0ee" fill-opacity="0.8"/>
<circle cx="543.30" cy="586.50" r="1.6" fill="#14e0ee" fill-opacity="0.8"/>
<circle cx="538.24" cy="615.30" r="1.6" fill="#14e0ee" fill-opacity="0.8"/>
<circle cx="535.05" cy="603.65" r="1.6" fill="#14e0ee" fill-opacity="0.8"/>
<circle cx="546.28" cy="581.76" r="1.6" fill="#14e0ee" fill-opacity="0.8"/>
<circle cx="543.21" cy="613.72" r="1.6" fill="#14e0ee" fill-opacity="0.8"/>
<circle cx="539.27" cy="598.50" r="1.6" fill="#14e0ee" fill-opacity="0.8"/>
<circle cx="540.29" cy="605.23" r="1.6" fill="#14e0ee" fill-opacity="0.8"/>
<circle cx="541.36" cy="601.58" r="1.6" fill="#14e0ee" fill-opacity="0.8"/>
<circle cx="539.88" cy="606.25" r="1.6" fill="#14e0ee" fill-opacity="0.8"/>
<circle cx="536.05" cy="604.76" r="1.6" fill="#14e0ee" fill-opacity="0.8"/>
<circle cx="541.96" cy="607.06" r="1.6" fill="#14e0ee" fill-opacity="0.8"/>
<circle cx="542.83" cy="587.98" r="1.6" fill="#14e0ee" fill-opacity="0.8"/>
<circle cx="535.37" cy="593.25" r="1.6" fill="#14e0ee" fill-opacity="0.8"/>
<circle cx="541.80" cy="581.15" r="1.6" fill="#14e0ee" fill-opacity="0.8"/>
<circle cx="544.76" cy="602.23" r="1.6" fill="#14e0ee" fill-opacity="0.8"/>
<circle cx="536.16" cy="581.68" r="1.6" fill="#14e0ee" fill-opacity="0.8"/>
<circle cx="542.80" cy="588.20" r="1.6" fill="#14e0ee" fill-opacity="0.8"/>
<circle cx="541.34" cy="594.32" r="1.6" fill="#14e0ee" fill-opacity="0.8"/>
<circle cx="541.52" cy="618.04" r="1.6" fill="#14e0ee" fill-opacity="0.8"/>
<circle cx="538.18" cy="613.26" r="1.6" fill="#14e0ee" fill-opacity="0.8"/>
<circle cx="537.35" cy="616.41" r="1.6" fill="#14e0ee" fill-opacity="0.8"/>
<line x1="540.00" y1="578.68" x2="540.00" y2="593.91" stroke="#000" stroke-width="1.6"/>
<line x1="540.00" y1="608.10" x2="540.00" y2="620.71" stroke="#000" stroke-width="1.6"/>
<line x1="536.15" y1="578.68" x2="543.85" y2="578.68" stroke="#000" stroke-width="1.6"/>
<line x1="536.15" y1="620.71" x2="543.85" y2="620.71" stroke="#000" stroke-width="1.6"/>
<rect x="532.30" y="593.91" width="15.40" height="14.19" fill="none" stroke="#000" stroke-width="1.7"/>
<line x1="532.30" y1="602.71" x2="547.70" y2="602.71" stroke="#000" stroke-width="1.7"/>
<circle cx="566.27" cy="645.75" r="1.6" fill="#e8446e" fill-opacity="0.8"/>
<circle cx="561.14" cy="641.73" r="1.6" fill="#e8446e" fill-opacity="0.8"/>
<circle cx="561.75" cy="650.66" r="1.6" fill="#e8446e" fill-opacity="0.8"/>
<circle cx="567.89" cy="652.15" r="1.6" fill="#e8446e" fill-opacity="0.8"/>
<circle cx="569.49" cy="647.77" r="1.6" fill="#e8446e" fill-opacity="0.8"/>
<circle cx="568.24" cy="647.61" r="1.6" fill="#e8446e" fill-opacity="0.8"/>
<circle cx="564.96" cy="653.56" r="1.6" fill="#e8446e" fill-opacity="0.8"/>
<circle cx="566.26" cy="653.47" r="1.6" fill="#e8446e" fill-opacity="0.8"/>
<circle cx="558.91" cy="647.29" r="1.6" fill="#e8446e" fill-opacity="0.8"/>
<circle cx="563.05" cy="644.60" r="1.6" fill="#e8446e" fill-opacity="0.8"/>
<circle cx="565.69" cy="640.02" r="1.6" fill="#e8446e" fill-opacity="0.8"/>
<circle cx="559.27" cy="637.48" r="1.6" fill="#e8446e" fill-opacity="0.8"/>
<circle cx="560.18" cy="650.80" r="1.6" fill="#e8446e" fill-opacity="0.8"/>
<circle cx="564.48" cy="645.03" r="1.6" fill="#e8446e" fill-opacity="0.8"/>
<circle cx="560.65" cy="646.80" r="1.6" fill="#e8446e" fill-opacity="0.8"/>
<circle cx="559.16" cy="639.38" r="1.6" fill="#e8446e" fill-opacity="0.8"/>
<circle cx="561.46" cy="643.59" r="1.6" fill="#e8446e" fill-opacity="0.8"/>
<circle cx="559.31" cy="645.59" r="1.6" fill="#e8446e" fill-opacity="0.8"/>
<circle cx="564.05" cy="653.88" r="1.6" fill="#e8446e" fill-opacity="0.8"/>
<circle cx="563.72" cy="651.36" r="1.6" fill="#e8446e" fill-opacity="0.8"/>
<circle cx="565.53" cy="646.87" r="1.6" fill="#e8446e" fill-opacity="0.8"/>
<circle cx="560.89" cy="646.71" r="1.6" fill="#e8446e" fill-opacity="0.8"/>
<circle cx="558.69" cy="634.90" r="1.6" fill="#e8446e" fill-opacity="0.8"/>
<circle cx="565.22" cy="645.75" r="1.6" fill="#e8446e" fill-opacity="0.8"/>
<circle cx="570.04" cy="645.74" r="1.6" fill="#e8446e" fill-opacity="0.8"/>
<circle cx="565.20" cy="647.25" r="1.6" fill="#e8446e" fill-opacity="0.8"/>
<circle cx="561.74" cy="641.81" r="1.6" fill="#e8446e" fill-opacity="0.8"/>
<circle cx="563.90" cy="646.06" r="1.6" fill="#e8446e" fill-opacity="0.8"/>
<circle cx="558.28" cy="647.08" r="1.6" fill="#e8446e" fill-opacity="0.8"/>
<circle cx="565.41" cy="644.57" r="1.6" fill="#e8446e" fill-opacity="0.8"/>
<circle cx="562.47" cy="644.77" r="1.6" fill="#e8446e" fill-opacity="0.8"/>
<circle cx="559.72" cy="648.56" r="1.6" fill="#e8446e" fill-opacity="0.8"/>
<circle cx="569.12" cy="647.74" r="1.6" fill="#e8446e" fill-opacity="0.8"/>
<circle cx="565.64" cy="647.66" r="1.6" fill="#e8446e" fill-opacity="0.8"/>
<circle cx="567.68" cy="641.52" r="1.6" fill="#e8446e" fill-opacity="0.8"/>
<circle cx="565.54" cy="646.35" r="1.6" fill="#e8446e" fill-opacity="0.8"/>
<circle cx="564.41" cy="636.76" r="1.6" fill="#e8446e" fill-opacity="0.8"/>
<circle cx="562.80" cy="640.75" r="1.6" fill="#e8446e" fill-opacity="0.8"/>
<circle cx="567.84" cy="638.92" r="1.6" fill="#e8446e" fill-opacity="0.8"/>
<circle cx="565.76" cy="644.86" r="1.6" fill="#e8446e" fill-opacity="0.8"/>
<line x1="564.30" y1="634.27" x2="564.30" y2="644.50" stroke="#000" stroke-width="1.6"/>
<line x1="564.30" y1="648.71" x2="564.30" y2="654.42" stroke="#000" stroke-width="1.6"/>
<line x1="560.45" y1="634.27" x2="568.15" y2="634.27" stroke="#000" stroke-width="1.6"/>
<line x1="560.45" y1="654.42" x2="568.15" y2="654.42" stroke="#000" stroke-width="1.6"/>
<rect x="556.60" y="644.50" width="15.40" height="4.20" fill="none" stroke="#000" stroke-width="1.7"/>
<line x1="556.60" y1="646.49" x2="572.00" y2="646.49" stroke="#000" stroke-width="1.7"/>
<line x1="480.00" y1="548.00" x2="480.00" y2="668.30" stroke="#000" stroke-width="1.6"/>
<line x1="479.20" y1="667.50" x2="576.70" y2="667.50" stroke="#000" stroke-width="1.6"/>
<line x1="476.30" y1="667.50" x2="480.00" y2="667.50" stroke="#000" stroke-width="1.6"/>
<text x="473.8" y="670.9" font-size="9.4" text-anchor="end" fill="#000">0</text>
<line x1="476.30" y1="627.85" x2="480.00" y2="627.85" stroke="#000" stroke-width="1.6"/>
<text x="473.8" y="631.2" font-size="9.4" text-anchor="end" fill="#000">5</text>
<line x1="476.30" y1="588.20" x2="480.00" y2="588.20" stroke="#000" stroke-width="1.6"/>
<text x="473.8" y="591.6" font-size="9.4" text-anchor="end" fill="#000">10</text>
<line x1="476.30" y1="548.55" x2="480.00" y2="548.55" stroke="#000" stroke-width="1.6"/>
<text x="473.8" y="551.9" font-size="9.4" text-anchor="end" fill="#000">15</text>
<line x1="491.70" y1="667.50" x2="491.70" y2="671.00" stroke="#000" stroke-width="1.6"/>
<line x1="516.00" y1="667.50" x2="516.00" y2="671.00" stroke="#000" stroke-width="1.6"/>
<line x1="540.00" y1="667.50" x2="540.00" y2="671.00" stroke="#000" stroke-width="1.6"/>
<line x1="564.30" y1="667.50" x2="564.30" y2="671.00" stroke="#000" stroke-width="1.6"/>
<text x="494.2" y="678.0" font-size="9.3" text-anchor="end" fill="#000" transform="rotate(-30 494.2 678.0)">ADP-actin</text>
<text x="518.5" y="678.0" font-size="9.3" text-anchor="end" fill="#000" transform="rotate(-30 518.5 678.0)">+ Spa2(1-535)</text>
<text x="542.5" y="678.0" font-size="9.3" text-anchor="end" fill="#000" transform="rotate(-30 542.5 678.0)">+Spa2(281-535)</text>
<text x="566.8" y="678.0" font-size="9.3" text-anchor="end" fill="#000" transform="rotate(-30 566.8 678.0)">+ Spa2(1-281)</text>
<path d="M492.00,572.80 L492.00,570.80 L516.00,570.80 L516.00,572.80" fill="none" stroke="#000" stroke-width="1.4" stroke-linejoin="round"/>
<path d="M492.00,563.30 L492.00,561.30 L540.00,561.30 L540.00,563.30" fill="none" stroke="#000" stroke-width="1.4" stroke-linejoin="round"/>
<path d="M492.00,553.70 L492.00,551.70 L564.30,551.70 L564.30,553.70" fill="none" stroke="#000" stroke-width="1.4" stroke-linejoin="round"/>
<text x="504.8" y="569.2" font-size="9.2" text-anchor="middle" fill="#000">****</text>
<text x="516.0" y="560.2" font-size="9.2" text-anchor="middle" fill="#000">****</text>
<text x="528.2" y="548.6" font-size="9.4" text-anchor="middle" fill="#000">ns</text>
<text x="459.0" y="616.8" font-size="9.2" text-anchor="middle" fill="#000" transform="rotate(-90 459.0 616.8)">Elongation rate (Subs/sec)</text>
<text x="441.6" y="551.3" font-size="9.0" text-anchor="start" fill="#000">f</text>
<clipPath id="c1"><rect x="245.00" y="13.10" width="80.72" height="81.80"/></clipPath>
<g clip-path="url(#c1)">
<rect x="245.00" y="13.10" width="80.72" height="81.80" fill="#d2d2d2" filter="url(#nz)"/>
<g transform="translate(245.00,13.10)" fill="none" stroke-linecap="round" stroke-linejoin="round" filter="url(#bl)">
<path d="M5.4,3.6 L4.2,9.6 L3.6,15.6 L4.5,22.1M25.7,3.6 L31.1,8.4 L35.9,11.4 L42.5,12.9M62.8,6.0 L60.5,12.0 L57.5,18.0M78.4,10.2 L76.6,15.6 L71.8,19.2 L65.2,23.9M15.6,30.9 L29.9,30.2 L45.5,31.4 L56.3,29.9M19.2,47.9 L22.7,45.5 L26.9,43.7M28.7,48.5 L35.9,44.3 L44.3,39.3M48.5,52.4 L53.3,49.7M1.8,50.9 L5.4,53.9 L8.4,56.3M17.4,55.7 L14.4,63.4 L9.6,72.4M26.9,64.6 L32.3,70.6 L37.1,75.4 L42.5,79.6M68.8,54.5 L65.2,62.2 L58.7,69.4M76.0,56.9 L72.4,61.1 L71.2,66.4 L68.2,69.4M55.1,71.8 L52.7,76.6 L50.3,80.2M77.6,62.8 L80.0,62.8" stroke="#383838" stroke-width="1.55" stroke-opacity="0.92"/>
</g></g>
<clipPath id="c2"><rect x="325.72" y="13.10" width="80.72" height="81.80"/></clipPath>
<g clip-path="url(#c2)">
<rect x="325.72" y="13.10" width="80.72" height="81.80" fill="#d4d4d4" filter="url(#nz)"/>
<g transform="translate(325.72,13.10)" fill="none" stroke-linecap="round" stroke-linejoin="round" filter="url(#bl)">
<path d="M5.7,3.6 L4.5,9.6 L3.9,15.6 L4.8,22.1M26.0,3.6 L31.4,8.4 L36.2,11.4 L42.8,12.9M63.1,6.0 L60.8,12.0 L57.8,18.0M78.7,10.2 L76.9,15.6 L72.1,19.2 L65.5,23.9M15.9,30.9 L30.2,30.2 L45.8,31.4 L56.6,29.9M19.5,47.9 L23.0,45.5 L27.2,43.7M29.0,48.5 L36.2,44.3 L44.6,39.3M48.8,52.4 L53.6,49.7M2.1,50.9 L5.7,53.9 L8.7,56.3M17.7,55.7 L14.7,63.4 L9.9,72.4M27.2,64.6 L32.6,70.6 L37.4,75.4 L42.8,79.6M69.1,54.5 L65.5,62.2 L59.0,69.4M76.3,56.9 L72.7,61.1 L71.5,66.4 L68.5,69.4M55.4,71.8 L53.0,76.6 L50.6,80.2M77.9,62.8 L80.3,62.8" stroke="#383838" stroke-width="1.55" stroke-opacity="0.92"/>
</g></g>
<clipPath id="c3"><rect x="406.44" y="13.10" width="80.72" height="81.80"/></clipPath>
<g clip-path="url(#c3)">
<rect x="406.44" y="13.10" width="80.72" height="81.80" fill="#dadada" filter="url(#nz)"/>
<g transform="translate(406.44,13.10)" fill="none" stroke-linecap="round" stroke-linejoin="round" filter="url(#bl)">
<path d="M4.5,6.7 L4.2,8.2 L3.9,9.7 L3.7,11.2 L3.6,12.8 L3.4,14.3M32.1,8.7 L33.7,9.7 L35.3,10.7 L37.1,11.3M59.4,13.8 L58.7,15.3 L57.9,16.8 L57.2,18.3M17.2,31.1 L19.0,31.0 L20.8,30.9 L22.6,30.8M44.0,31.6 L45.9,31.6 L47.8,31.4M27.0,44.1 L27.1,44.0M40.8,41.1 L42.6,40.0 L44.5,38.9M7.5,55.0 L8.8,56.0M10.4,70.6 L9.6,72.2M36.0,74.7 L37.1,75.8 L38.3,76.7 L39.5,77.6 L40.7,78.5M63.2,64.8 L61.8,66.3 L60.4,67.9M69.5,68.1 L68.3,69.4M78.0,62.9 L79.9,62.9M3.8,16.8 L4.1,18.6 L4.4,20.4 L4.6,22.2M38.8,12.4 L40.6,12.8 L42.4,13.2M77.9,12.1 L77.5,13.6 L77.0,15.0 L76.0,16.1 L74.8,17.0 L73.6,17.9M24.7,30.5 L26.5,30.4 L28.4,30.3 L30.2,30.2 L32.1,30.4M50.0,30.8 L51.5,30.6 L53.1,30.4 L54.7,30.2 L56.3,29.9M30.5,47.1 L31.9,46.3 L33.3,45.5M49.3,51.8 L50.7,51.0 L52.2,50.1 L53.6,49.3M16.7,56.5 L16.1,57.9 L15.6,59.3 L15.0,60.8 L14.5,62.2M27.9,65.0 L29.0,66.4 L30.2,67.7M42.2,79.3 L42.2,79.3M75.1,57.1 L74.0,58.4 L72.9,59.7 L71.9,61.0M54.6,73.7 L53.7,75.5 L52.7,77.3" stroke="#383838" stroke-width="1.5" stroke-opacity="0.9"/>
<path d="M26.3,4.3 L27.6,5.4 L28.8,6.6 L30.1,7.7M62.1,7.3 L61.3,9.2 L60.5,11.1M71.2,19.9 L69.7,21.0 L68.3,22.0 L66.9,23.1 L65.4,24.1M34.7,30.4 L36.4,30.5 L38.0,30.7 L39.7,30.8 L41.3,30.9M20.6,47.3 L21.9,46.4 L23.2,45.6 L24.6,45.0M36.2,44.1 L37.7,43.2 L39.3,42.3M1.6,50.7 L3.2,52.0 L4.9,53.4M14.4,64.1 L13.5,65.7 L12.7,67.2 L11.9,68.8M31.3,70.1 L32.4,71.3 L33.5,72.5 L34.7,73.7M68.6,55.6 L67.9,57.1 L67.3,58.5 L66.6,60.0 L65.9,61.4 L65.0,62.7M71.7,63.2 L71.3,64.9 L70.6,66.5M50.7,78.9 L49.9,80.1" stroke="#666" stroke-width="1.5" stroke-opacity="0.8"/>
<path d="M48.4,22.5 L49.4,23.9 L50.6,25.2M46.9,5.9 L47.4,8.0M8.7,68.7 L5.9,68.8M40.1,76.9 L38.6,77.0 L37.0,76.9" stroke="#383838" stroke-width="1.45" stroke-opacity="0.85"/>
<path d="M55.9,8.6 L54.0,9.4M7.2,60.3 L6.9,62.2M3.9,52.4 L2.9,53.6 L2.0,54.8" stroke="#555" stroke-width="1.5" stroke-opacity="0.8"/>
<path d="M2.2,35.9 L2.6,38.2M36.4,60.7 L38.6,61.2M28.1,36.3 L29.1,37.5 L30.1,38.7" stroke="#888" stroke-width="1.5" stroke-opacity="0.75"/>
</g></g>
<clipPath id="c4"><rect x="487.16" y="13.10" width="80.72" height="81.80"/></clipPath>
<g clip-path="url(#c4)">
<rect x="487.16" y="13.10" width="80.72" height="81.80" fill="#dedede" filter="url(#nz)"/>
<g transform="translate(487.16,13.10)" fill="none" stroke-linecap="round" stroke-linejoin="round" filter="url(#bl)">
<path d="M5.4,4.6 L5.1,6.3 L4.7,7.9M4.2,20.1 L4.6,22.5M36.8,12.3 L39.7,13.0M73.7,18.9 L71.8,20.4M28.8,29.5 L30.9,29.5 L33.0,29.7M46.1,30.5 L47.6,30.3 L49.1,30.1M35.4,44.7 L36.8,43.8 L38.3,42.9M3.5,52.5 L5.2,53.9 L7.0,55.3M12.1,66.5 L10.9,68.8M32.3,71.3 L33.5,72.4 L34.6,73.5M67.5,56.9 L66.4,59.3M74.3,58.5 L73.0,60.1 L72.2,61.9M78.2,62.7 L80.0,62.7M3.9,8.9 L3.6,10.9M25.6,3.0 L27.0,4.3 L28.5,5.6M63.5,6.2 L62.6,8.4M69.4,21.4 L67.9,22.5 L66.4,23.6M36.5,30.6 L39.3,30.8M20.5,47.3 L21.8,46.4 L23.1,45.6M39.0,42.2 L40.5,41.3 L42.1,40.4M17.1,56.5 L16.1,59.1M9.9,71.1 L9.3,72.2M36.0,74.4 L37.5,75.8 L39.1,77.0M64.8,62.2 L63.5,64.0 L62.1,65.5M71.8,64.0 L71.1,66.4" stroke="#383838" stroke-width="1.5" stroke-opacity="0.9"/>
<path d="M3.6,15.0 L3.7,16.6 L3.9,18.2M31.9,8.8 L33.2,9.6 L34.5,10.5M60.6,10.8 L59.5,13.3M21.0,30.3 L23.0,30.2 L25.0,30.1M42.2,30.3 L45.0,30.6M29.7,48.5 L31.4,47.5 L33.0,46.6M50.9,50.5 L53.4,49.0M15.2,61.9 L14.5,63.8 L13.6,65.5M27.7,66.0 L29.1,67.6 L30.5,69.1M41.8,78.7 L42.2,79.0M61.4,67.9 L59.4,70.1M53.7,73.9 L52.8,75.8 L51.6,77.6" stroke="#666" stroke-width="1.5" stroke-opacity="0.8"/>
<path d="M50.1,27.8 L48.3,28.7M-0.0,50.9 L1.6,51.0 L3.2,51.0M77.7,68.3 L77.8,70.0M30.6,6.5 L31.2,8.3M38.0,19.5 L36.9,21.8" stroke="#383838" stroke-width="1.45" stroke-opacity="0.85"/>
<path d="M62.7,28.1 L62.2,30.0M22.0,41.9 L22.0,44.3M26.1,27.7 L25.5,30.4M63.2,29.9 L62.6,31.4 L62.1,32.8M36.0,34.7 L34.5,35.1 L32.9,35.5" stroke="#555" stroke-width="1.5" stroke-opacity="0.8"/>
<path d="M15.9,63.2 L14.4,64.0 L12.8,64.6M0.3,5.0 L2.0,5.4M16.2,26.4 L15.7,28.1M30.0,39.2 L30.5,42.0" stroke="#888" stroke-width="1.5" stroke-opacity="0.75"/>
</g></g>
<clipPath id="c5"><rect x="567.88" y="13.10" width="80.72" height="81.80"/></clipPath>
<g clip-path="url(#c5)">
<rect x="567.88" y="13.10" width="80.72" height="81.80" fill="#e4e4e4" filter="url(#nz)"/>
<g transform="translate(567.88,13.10)" fill="none" stroke-linecap="round" stroke-linejoin="round" filter="url(#bl)">
<path d="M3.2,3.5 L2.9,5.2M75.7,16.9 L74.3,17.9M27.8,28.6 L30.1,28.5M52.6,29.4 L54.9,29.1M38.3,45.4 L40.4,44.2M63.9,63.3 L62.7,65.2M50.3,77.2 L49.8,77.9M25.6,2.9 L27.5,4.7M71.7,22.6 L69.7,24.1M33.7,31.3 L35.2,31.4 L36.8,31.5M27.0,42.5 L28.9,41.7M31.6,68.3 L33.0,69.8M58.4,65.6 L57.1,67.0" stroke="#333" stroke-width="1.5" stroke-opacity="0.9"/>
<path d="M60.7,13.8 L59.9,15.5M20.2,32.5 L21.8,32.4 L23.5,32.3M43.7,33.8 L46.2,33.6M29.2,46.6 L30.5,45.8 L31.8,45.1M35.1,73.5 L36.4,74.5 L37.8,75.6M73.9,60.4 L72.9,61.6" stroke="#666" stroke-width="1.5" stroke-opacity="0.8"/>
<path d="M2.7,20.7 L4.4,21.7M59.0,39.9 L60.1,41.1M20.5,74.2 L22.0,74.9 L23.4,75.9M44.5,59.5 L46.0,60.3 L47.6,60.8M55.1,26.3 L53.9,27.4 L52.7,28.5M43.5,1.0 L42.3,2.1 L41.3,3.3M71.8,41.4 L69.5,42.2M12.9,39.4 L12.3,41.4" stroke="#333" stroke-width="1.45" stroke-opacity="0.85"/>
<path d="M70.2,12.1 L68.7,12.4M72.3,73.8 L71.1,75.6M77.5,54.1 L76.0,54.8M72.1,1.5 L73.5,2.2 L74.9,3.2M42.7,2.4 L42.2,3.9M42.9,30.1 L43.9,31.3 L45.0,32.4M5.7,70.6 L6.6,72.2M57.1,0.4 L56.8,2.5" stroke="#555" stroke-width="1.5" stroke-opacity="0.8"/>
<path d="M79.7,31.7 L78.8,33.1 L77.7,34.3M52.2,64.9 L50.8,67.1M76.5,53.8 L77.9,54.7M63.8,70.6 L61.6,71.8M68.7,48.7 L69.3,50.4M38.5,77.8 L40.1,78.5M35.1,64.4 L33.5,65.3M56.7,39.1 L57.8,40.4" stroke="#888" stroke-width="1.5" stroke-opacity="0.75"/>
</g></g>
<rect x="245.85" y="13.95" width="401.90" height="80.10" fill="none" stroke="#000" stroke-width="1.7"/>
<line x1="325.72" y1="13.10" x2="325.72" y2="94.90" stroke="#000" stroke-width="1.7"/>
<line x1="406.44" y1="13.10" x2="406.44" y2="94.90" stroke="#000" stroke-width="1.7"/>
<line x1="487.16" y1="13.10" x2="487.16" y2="94.90" stroke="#000" stroke-width="1.7"/>
<line x1="567.88" y1="13.10" x2="567.88" y2="94.90" stroke="#000" stroke-width="1.7"/>
<clipPath id="c6"><rect x="245.00" y="97.30" width="80.72" height="81.70"/></clipPath>
<g clip-path="url(#c6)">
<rect x="245.00" y="97.30" width="80.72" height="81.70" fill="#e5e5e5" filter="url(#nz)"/>
<g transform="translate(245.00,97.30)" fill="none" stroke-linecap="round" stroke-linejoin="round" filter="url(#bl)">
<path d="M2.4,5.4 L8.4,3.6 L12.6,7.2 L14.4,12.0 L13.2,18.0 L11.4,23.9 L4.8,29.3M7.8,7.2 L12.0,12.0 L14.4,12.6M1.2,19.2 L6.0,22.1 L10.8,23.9 L16.8,26.9M19.2,13.2 L22.7,18.0 L28.1,21.5M11.4,32.3 L18.0,31.7 L23.9,28.7 L28.7,25.1M35.9,2.4 L39.5,7.2 L43.1,13.2M49.1,4.2 L58.7,4.8 L67.0,6.6 L73.0,9.0M65.8,10.8 L57.5,16.8 L49.1,21.5 L38.3,22.1M49.7,12.0 L49.1,21.5 L44.3,28.7 L38.3,38.3M24.5,35.9 L31.1,40.7 L38.3,42.5 L45.5,43.1M46.7,31.1 L51.5,35.9 L59.9,41.9 L64.6,47.9 L67.6,52.7 L71.8,61.1 L72.4,67.0 L65.2,71.2M31.7,44.3 L35.9,47.9 L41.3,51.5 L45.5,53.3 L55.1,50.9 L59.9,47.9M55.7,55.1 L67.0,53.9 L74.2,46.7 L77.8,40.7 L78.4,31.1M74.2,3.0 L75.4,10.8 L78.4,18.0M74.2,35.9 L74.8,40.7 L76.6,44.3M30.5,56.3 L32.9,63.4 L34.1,69.4M30.9,56.5 L35.9,63.4M52.7,56.3 L55.7,62.2M58.7,67.0 L57.5,73.0 L52.7,79.0M38.3,73.6 L45.5,76.0 L52.7,79.6M2.4,73.0 L10.8,74.2 L18.0,76.6 L23.3,79.0M19.2,46.1 L23.3,45.5M1.8,46.1 L5.4,40.7 L8.4,38.3M66.4,74.2 L68.2,79.0" stroke="#383838" stroke-width="1.55" stroke-opacity="0.92"/>
</g></g>
<clipPath id="c7"><rect x="325.72" y="97.30" width="80.72" height="81.70"/></clipPath>
<g clip-path="url(#c7)">
<rect x="325.72" y="97.30" width="80.72" height="81.70" fill="#e5e5e5" filter="url(#nz)"/>
<g transform="translate(325.72,97.30)" fill="none" stroke-linecap="round" stroke-linejoin="round" filter="url(#bl)">
<path d="M2.7,5.4 L8.7,3.6 L12.9,7.2 L14.7,12.0 L13.5,18.0 L11.7,23.9 L5.1,29.3M8.1,7.2 L12.3,12.0 L14.7,12.6M1.5,19.2 L6.3,22.1 L11.1,23.9 L17.1,26.9M19.5,13.2 L23.0,18.0 L28.4,21.5M11.7,32.3 L18.3,31.7 L24.2,28.7 L29.0,25.1M36.2,2.4 L39.8,7.2 L43.4,13.2M49.4,4.2 L59.0,4.8 L67.3,6.6 L73.3,9.0M66.1,10.8 L57.8,16.8 L49.4,21.5 L38.6,22.1M50.0,12.0 L49.4,21.5 L44.6,28.7 L38.6,38.3M24.8,35.9 L31.4,40.7 L38.6,42.5 L45.8,43.1M47.0,31.1 L51.8,35.9 L60.2,41.9 L64.9,47.9 L67.9,52.7 L72.1,61.1 L72.7,67.0 L65.5,71.2M32.0,44.3 L36.2,47.9 L41.6,51.5 L45.8,53.3 L55.4,50.9 L60.2,47.9M56.0,55.1 L67.3,53.9 L74.5,46.7 L78.1,40.7 L78.7,31.1M74.5,3.0 L75.7,10.8 L78.7,18.0M74.5,35.9 L75.1,40.7 L76.9,44.3M30.8,56.3 L33.2,63.4 L34.4,69.4M31.2,56.5 L36.2,63.4M53.0,56.3 L56.0,62.2M59.0,67.0 L57.8,73.0 L53.0,79.0M38.6,73.6 L45.8,76.0 L53.0,79.6M2.7,73.0 L11.1,74.2 L18.3,76.6 L23.6,79.0M19.5,46.1 L23.6,45.5M2.1,46.1 L5.7,40.7 L8.7,38.3M66.7,74.2 L68.5,79.0" stroke="#383838" stroke-width="1.55" stroke-opacity="0.92"/>
</g></g>
<clipPath id="c8"><rect x="406.44" y="97.30" width="80.72" height="81.70"/></clipPath>
<g clip-path="url(#c8)">
<rect x="406.44" y="97.30" width="80.72" height="81.70" fill="#e8e8e8" filter="url(#nz)"/>
<g transform="translate(406.44,97.30)" fill="none" stroke-linecap="round" stroke-linejoin="round" filter="url(#bl)">
<path d="M3.3,5.5 L5.9,4.8M13.5,8.8 L14.2,10.5M13.1,20.0 L12.3,22.8M10.2,8.6 L12.0,10.7M12.1,23.9 L13.6,24.6M24.7,20.1 L26.2,21.1M16.8,32.5 L18.6,31.7M40.6,8.4 L41.4,9.8 L42.2,11.2M53.6,3.6 L55.3,3.7 L57.0,3.9M68.6,7.4 L70.1,8.0M54.2,18.3 L52.8,19.2 L51.3,20.0M43.2,20.8 L41.6,20.9M50.5,15.6 L50.4,17.8M43.3,29.9 L42.5,31.3 L41.6,32.7M24.8,36.8 L26.2,37.7 L27.5,38.7M34.7,42.5 L36.9,43.1M49.1,32.0 L50.4,33.3M58.8,40.4 L60.1,41.3 L61.2,42.5M66.4,52.0 L67.3,53.4M70.7,67.9 L68.4,69.3M34.6,48.2 L35.9,49.2 L37.3,50.1M51.0,52.9 L52.6,52.5M55.9,54.6 L58.0,54.4M73.5,48.8 L75.0,47.3M73.7,6.1 L74.0,8.5M78.4,14.5 L79.3,16.8M30.9,55.5 L31.9,58.3M34.8,68.1 L34.9,68.8M53.4,58.0 L54.7,60.7M57.9,73.4 L56.9,74.6M45.0,75.7 L47.6,76.9M11.9,74.9 L14.2,75.6M24.1,78.3 L24.5,78.5M5.0,40.5 L6.8,38.8M5.8,4.1 L8.2,4.4M14.4,10.9 L14.0,13.3M10.2,24.5 L8.9,25.6 L7.7,26.6M12.1,12.7 L14.1,13.2M19.6,13.2 L21.3,15.5M27.4,22.0 L27.6,22.1M25.0,26.8 L27.0,25.4M43.8,11.7 L44.2,12.3M58.7,5.8 L61.3,6.3M63.4,12.3 L62.0,13.3 L60.6,14.2M50.4,20.1 L48.8,20.9 L47.1,20.9M39.9,22.2 L39.5,22.2M49.9,20.4 L49.8,21.9 L49.0,23.2M40.1,33.4 L39.1,35.1M28.0,39.4 L29.8,40.7M39.9,43.5 L42.3,43.7M50.9,34.8 L52.3,36.0M61.3,44.7 L62.9,46.7M72.6,60.7 L72.8,62.8M67.3,71.5 L66.4,72.0M43.0,52.0 L44.8,52.7M54.6,50.2 L56.1,49.5M60.3,55.4 L63.2,55.1M78.7,41.0 L78.8,39.3 L79.0,37.6M76.2,8.8 L76.4,10.5M74.0,38.1 L74.4,40.8M32.2,60.6 L33.1,63.4M31.1,56.6 L32.0,57.9 L33.0,59.2M55.9,60.9 L56.0,61.1M55.3,76.1 L54.2,77.4 L53.2,78.7M49.2,78.9 L51.5,80.0M16.2,75.9 L17.7,76.4 L19.2,76.9M20.8,47.1 L22.9,46.8M66.5,75.1 L67.4,77.4" stroke="#383838" stroke-width="1.5" stroke-opacity="0.9"/>
<path d="M11.3,5.3 L13.2,7.0M12.9,15.1 L12.3,17.8M6.7,28.0 L4.9,29.5M4.3,20.4 L6.6,21.9M22.3,16.9 L23.8,18.0M12.4,33.0 L14.0,32.9 L15.5,32.8M38.1,4.1 L39.1,5.5 L40.1,6.8M51.7,3.9 L54.1,4.1M63.5,6.3 L65.2,6.7 L66.8,7.0M60.0,13.6 L58.8,14.5 L57.5,15.4M46.0,22.2 L43.1,22.3M49.4,12.0 L49.3,14.4M46.4,23.8 L45.5,25.1 L44.6,26.4M39.3,38.6 L38.8,39.5M32.6,40.7 L34.6,41.2M44.4,43.0 L46.3,43.1M53.8,37.3 L55.1,38.2 L56.3,39.1M64.0,47.9 L65.1,49.6M73.5,66.5 L72.6,68.6M32.2,45.2 L34.3,47.0M47.0,53.8 L49.1,53.3M57.3,49.1 L59.1,47.9M68.7,52.3 L70.8,50.2M77.3,35.7 L77.4,34.0 L77.5,32.2M76.8,13.4 L77.5,14.9M74.6,42.8 L75.8,45.4M33.4,65.8 L33.8,67.7M33.2,60.6 L34.1,61.9 L35.1,63.3M58.3,67.1 L57.7,69.9M39.7,74.0 L41.8,74.7M6.6,73.9 L9.3,74.3M19.0,78.6 L20.8,79.4M3.2,45.2 L4.8,42.7" stroke="#666" stroke-width="1.5" stroke-opacity="0.8"/>
<path d="M12.6,62.6 L11.1,63.3 L9.6,64.1M68.3,68.1 L70.4,68.0M40.2,67.2 L41.3,69.1M35.1,32.5 L36.0,34.7M28.6,17.8 L27.4,18.8 L26.0,19.5M15.5,47.9 L15.0,49.3M79.6,49.8 L79.8,51.0M50.1,63.5 L50.4,64.7M68.0,80.5 L66.3,80.7 L64.6,80.9M64.7,45.8 L67.1,45.7M55.8,34.7 L57.1,35.3M61.1,67.1 L61.1,68.6M63.4,60.0 L64.1,62.3M19.2,41.2 L18.0,42.3M47.3,66.7 L45.4,67.9M54.3,61.6 L51.8,62.5M42.5,47.0 L43.4,47.9M7.8,27.7 L10.7,28.1M29.0,40.5 L29.2,42.8M41.5,71.9 L39.5,73.6M26.0,46.8 L24.5,47.5M24.4,27.4 L24.5,30.4M50.2,66.0 L48.2,65.9M68.6,41.0 L70.3,41.6M35.8,37.1 L35.7,39.6M14.3,64.7 L13.6,66.1 L12.9,67.5M76.5,7.9 L78.1,8.6 L79.6,9.4M58.9,52.9 L60.0,54.0 L61.2,55.1M78.3,65.9 L80.1,67.5M10.7,63.4 L11.5,66.0M35.8,30.5 L36.0,31.7M79.3,61.5 L80.1,63.8M52.8,44.1 L51.4,46.0M51.1,60.5 L50.8,63.0M44.6,20.6 L45.0,23.2M77.6,12.6 L77.3,14.9M62.7,56.4 L61.4,57.5M-0.2,35.3 L2.2,37.1M77.8,43.4 L76.3,44.6M41.7,15.3 L42.2,16.7 L42.7,18.2M5.9,45.1 L8.2,46.0M77.4,51.7 L77.8,53.2 L77.9,54.8M32.5,73.4 L33.6,75.4M30.2,49.1 L28.5,49.3 L26.8,49.3M51.9,71.0 L51.9,72.7 L51.9,74.5M23.7,55.3 L26.1,56.2M41.6,66.4 L41.4,67.7" stroke="#383838" stroke-width="1.45" stroke-opacity="0.85"/>
<path d="M42.5,44.5 L40.2,45.8M63.3,73.1 L62.3,74.7M59.1,57.8 L58.6,59.2M50.0,1.6 L52.0,3.2M29.0,42.2 L28.3,44.6M30.6,34.4 L32.0,35.2 L33.4,36.0M38.7,48.2 L39.3,49.4M9.5,34.9 L7.7,37.1M40.3,4.9 L41.9,5.3 L43.6,5.7M43.1,5.4 L43.6,6.8M17.7,21.7 L16.1,22.6M67.6,72.7 L68.6,74.3M50.8,77.6 L50.1,79.1M80.9,53.6 L78.5,54.7M34.5,30.4 L36.7,31.9M72.1,80.3 L69.4,81.1M12.0,22.8 L13.2,23.7 L14.5,24.6M42.6,78.4 L42.1,81.0M30.6,2.6 L27.6,2.6M80.9,50.0 L78.6,50.7M44.2,64.3 L46.5,64.7M52.1,75.5 L53.6,76.3 L55.2,76.8M25.5,45.0 L26.0,46.4 L26.4,47.9M49.3,80.1 L51.7,81.3M3.1,29.3 L3.3,30.8M78.7,60.6 L77.4,60.5M35.4,55.2 L33.2,56.4M13.0,29.8 L15.7,30.4M69.6,57.4 L68.3,59.7M5.1,37.8 L3.3,39.2M49.6,48.5 L52.4,49.0M75.5,37.7 L77.0,38.0 L78.5,38.0M21.5,50.7 L22.3,53.6M10.2,50.1 L11.2,50.8M80.1,79.3 L79.4,80.7M51.1,76.7 L49.6,76.5 L48.1,76.1M28.5,52.4 L31.3,53.2M41.7,55.6 L43.3,56.2 L44.8,56.7M46.3,77.1 L46.7,78.7 L47.2,80.2M79.1,60.0 L80.4,60.6M18.1,40.5 L16.3,41.9M38.1,58.6 L36.0,59.8M38.0,33.0 L37.0,33.8M75.0,25.7 L75.2,27.3 L75.1,28.9M80.4,49.5 L79.0,51.8M62.3,80.1 L63.8,81.3M61.6,74.6 L63.2,75.9" stroke="#555" stroke-width="1.5" stroke-opacity="0.8"/>
<path d="M1.3,49.2 L2.2,51.8M76.3,14.7 L77.1,16.0 L77.8,17.4M18.8,47.3 L20.3,47.5 L21.9,47.8M37.9,16.9 L39.0,19.0M37.6,58.0 L36.7,60.6M42.3,38.4 L40.4,38.6M19.4,15.6 L21.0,15.8 L22.6,15.9M30.0,37.2 L27.1,37.4M30.3,79.9 L32.6,81.0M41.5,48.9 L44.2,50.1M36.9,29.0 L37.0,30.5M67.6,61.3 L68.5,62.9M11.3,35.6 L9.1,35.9M64.8,55.6 L62.4,55.6M73.1,65.3 L75.8,65.9M19.6,36.1 L21.1,36.6 L22.6,37.1M74.4,79.3 L72.5,81.0M38.8,4.2 L38.5,5.8M50.8,64.2 L51.8,65.5M18.7,50.8 L16.5,51.2M3.1,34.0 L1.6,34.9 L0.0,35.5M69.7,45.8 L69.6,47.5 L69.7,49.2M47.9,80.3 L49.1,81.1M27.9,39.1 L27.5,40.6 L27.4,42.1M26.7,33.1 L27.8,34.9M8.8,48.5 L7.4,49.1M36.6,62.6 L36.1,64.9M46.7,41.6 L48.9,43.4M18.7,44.6 L19.4,46.3M44.8,73.4 L45.4,75.7M46.8,80.0 L48.2,80.6 L49.5,81.5M62.6,35.9 L61.1,38.4M28.2,14.4 L27.5,15.8 L26.5,17.1M53.9,37.0 L52.6,38.2 L51.2,39.2M69.5,70.6 L68.8,72.2 L68.2,73.8M8.4,39.6 L11.2,39.3M46.4,64.2 L44.8,65.0 L43.2,65.4M80.1,41.5 L79.4,44.2M20.7,30.8 L19.7,32.5M37.2,51.5 L38.1,52.9 L39.1,54.2M2.0,61.4 L4.2,61.5M51.3,75.6 L49.6,75.9M54.3,79.9 L54.2,81.5M30.3,24.2 L28.3,25.5M57.5,60.3 L60.3,60.8M25.5,52.5 L22.8,52.6" stroke="#888" stroke-width="1.5" stroke-opacity="0.75"/>
</g></g>
<clipPath id="c9"><rect x="487.16" y="97.30" width="80.72" height="81.70"/></clipPath>
<g clip-path="url(#c9)">
<rect x="487.16" y="97.30" width="80.72" height="81.70" fill="#e6e6e6" filter="url(#nz)"/>
<g transform="translate(487.16,97.30)" fill="none" stroke-linecap="round" stroke-linejoin="round" filter="url(#bl)">
<path d="M5.4,3.8 L7.8,3.1M12.2,9.1 L12.8,10.9M12.2,20.1 L11.7,21.7 L11.2,23.3M9.1,10.0 L10.1,11.2 L11.3,12.1M10.3,24.8 L11.7,25.5M23.4,19.1 L25.7,20.6M17.4,30.5 L19.4,29.9M27.6,26.0 L28.4,25.4M41.1,11.1 L41.9,12.4M60.0,4.1 L61.5,4.5 L63.0,4.8M66.2,10.3 L64.5,11.5M54.4,16.8 L52.5,17.9M43.9,23.2 L42.2,23.3M50.8,16.3 L50.7,17.8 L50.6,19.4M43.3,30.3 L42.2,32.1M25.8,38.2 L28.0,39.7M39.2,41.7 L40.9,41.9 L42.6,42.0M49.8,34.6 L51.3,36.1M59.2,41.0 L60.6,42.7M66.5,53.4 L67.8,56.0M71.8,65.7 L71.5,68.0M31.3,45.8 L32.6,46.9 L34.0,48.1M45.3,53.5 L46.7,53.9 L48.2,53.5M56.8,51.0 L59.1,49.5M67.9,53.1 L69.5,51.5M78.8,41.6 L78.9,40.0M75.0,4.0 L75.3,5.5 L75.5,7.0M74.5,35.7 L74.7,37.7M32.3,61.8 L32.8,63.5M35.1,60.4 L36.0,61.8 L37.0,63.1M56.1,73.1 L54.6,75.0M42.1,75.7 L43.5,76.2M6.2,74.5 L7.8,74.8M18.6,76.4 L20.1,77.1 L21.5,77.8M6.5,40.9 L8.1,39.4M7.8,4.8 L9.9,6.3M15.0,11.8 L14.6,14.1M7.5,27.0 L5.4,28.7M3.9,19.8 L6.1,21.2M15.5,25.3 L17.1,26.1M27.9,19.6 L29.4,20.6M19.0,30.5 L20.4,29.8 L21.9,29.0M37.9,5.2 L39.3,7.0M52.7,5.2 L54.7,5.3M64.3,6.6 L66.6,7.1M60.6,12.9 L58.7,14.3M52.3,19.4 L50.5,20.4M42.1,22.6 L39.3,22.7M47.9,20.6 L46.7,22.6M42.3,31.9 L41.4,33.2 L40.6,34.5M30.0,39.6 L31.7,40.7M43.8,42.8 L46.2,43.0M51.4,37.9 L53.9,39.7M62.9,44.1 L63.9,45.4 L64.9,46.7M71.3,57.5 L72.2,59.3M72.0,67.0 L70.6,67.8 L69.3,68.6M36.7,48.8 L39.1,50.5M48.7,51.1 L51.3,50.5M56.8,53.7 L59.1,53.5M71.2,51.1 L72.4,49.8 L73.7,48.6M78.4,38.2 L78.5,36.7 L78.5,35.1M76.0,8.3 L76.5,10.8M76.0,40.3 L77.3,42.8M33.3,66.1 L33.8,68.6M57.6,68.0 L57.0,70.8M52.6,79.4 L51.8,80.4M48.6,78.8 L50.5,79.7M11.4,75.6 L13.8,76.4M21.7,47.4 L24.5,47.0M6.4,39.4 L7.1,38.8" stroke="#383838" stroke-width="1.5" stroke-opacity="0.9"/>
<path d="M11.1,7.7 L12.1,9.1M12.7,16.1 L12.1,18.7M6.8,8.7 L8.4,10.5M8.1,22.4 L10.7,23.4M20.0,13.8 L21.6,16.1M14.5,33.5 L16.1,33.3M24.8,29.3 L26.1,28.3 L27.4,27.4M41.0,6.0 L42.3,8.2M56.4,4.7 L58.1,4.8M68.0,7.2 L70.3,8.1M60.5,15.9 L59.3,16.8 L58.0,17.6M48.8,20.4 L46.6,20.5M49.4,13.5 L49.3,15.3M45.2,25.1 L43.6,27.5M38.7,35.8 L37.7,37.5M34.1,40.6 L36.8,41.3M46.3,30.5 L47.4,31.6M55.5,38.2 L56.8,39.1 L58.2,40.0M65.3,50.3 L66.5,52.2M70.7,60.1 L71.3,61.7 L71.5,63.4M67.2,70.8 L66.5,71.2M41.0,50.2 L42.3,51.1 L43.8,51.8M52.2,49.9 L54.4,49.3M58.9,53.6 L61.1,53.3M74.9,43.1 L75.8,41.5M76.9,33.7 L77.0,32.2M75.2,14.3 L75.8,15.9 L76.5,17.4M31.0,57.1 L31.8,59.4M31.1,56.9 L32.6,58.9M58.7,70.9 L58.2,73.0M40.6,73.1 L43.1,74.0M4.2,73.7 L6.4,74.0M17.2,76.3 L19.7,77.2M1.9,44.0 L3.4,41.9M68.1,75.6 L68.9,77.6" stroke="#666" stroke-width="1.5" stroke-opacity="0.8"/>
<path d="M59.2,62.9 L57.6,63.6M59.0,63.1 L57.7,64.9M61.0,66.6 L62.8,67.2M16.2,5.0 L17.6,5.3M66.1,43.4 L67.3,44.8M15.7,65.3 L12.8,65.7M52.1,49.5 L50.6,49.9M53.4,61.6 L51.9,63.6M63.9,67.1 L62.3,67.0 L60.9,66.7M30.1,46.8 L29.4,48.3 L28.6,49.8M2.6,24.8 L1.0,25.1 L-0.6,25.2M28.0,47.2 L28.8,49.7M49.4,42.1 L51.0,42.5 L52.5,43.2M15.4,68.2 L17.2,69.0M12.9,22.3 L10.5,23.1M13.6,56.4 L14.3,59.0M48.6,51.4 L49.1,52.8 L49.5,54.2M57.0,7.3 L55.6,7.9M39.1,56.0 L37.7,56.1M62.8,28.2 L60.6,28.8M31.2,27.6 L30.1,28.9 L29.2,30.4M19.2,25.7 L20.5,26.2M4.8,28.0 L6.9,29.9M14.4,69.5 L12.9,70.8M23.3,68.0 L22.6,70.3M39.2,22.1 L38.9,23.7 L38.6,25.4M74.0,23.9 L72.4,26.0M42.8,59.0 L41.5,60.1 L40.5,61.3M45.9,14.9 L47.4,15.4 L48.8,15.9M27.3,1.4 L29.2,2.7M61.4,49.6 L60.5,50.9 L59.8,52.3M6.3,52.1 L7.7,53.0 L9.0,53.9M28.2,47.4 L26.6,48.4M43.2,18.3 L45.7,18.3M77.4,22.3 L77.8,24.3M9.0,23.3 L6.7,24.4M5.9,12.7 L6.0,15.1M1.1,63.2 L1.0,64.9 L0.9,66.6M1.4,63.0 L0.6,64.3M55.0,35.6 L53.7,36.3 L52.3,36.9M3.9,51.7 L5.7,52.9M2.7,72.4 L4.3,72.7M44.4,41.2 L42.8,41.3M22.9,20.4 L25.3,20.7M23.3,46.9 L24.9,47.6M66.0,21.0 L66.0,22.6 L66.1,24.2M64.6,57.7 L65.5,58.9M5.4,41.4 L5.8,43.3M45.4,50.2 L46.9,51.5M24.2,56.1 L25.1,58.3M8.7,63.6 L8.9,65.3M41.2,32.7 L42.7,33.5 L44.2,34.4M73.5,73.5 L74.7,74.7 L75.9,75.8M44.0,18.7 L44.7,20.3 L45.1,22.0" stroke="#383838" stroke-width="1.45" stroke-opacity="0.85"/>
<path d="M75.2,79.3 L75.7,82.1M61.9,40.8 L60.5,41.7M64.0,53.8 L64.0,55.3M1.7,25.6 L0.3,27.2M32.1,15.8 L31.4,17.4M9.3,61.5 L11.6,62.3M3.5,60.0 L2.4,61.1 L1.5,62.3M21.8,18.6 L21.2,19.8M38.8,57.4 L41.2,58.1M8.9,66.0 L11.8,66.8M49.8,79.0 L49.7,80.7 L49.2,82.3M76.3,73.6 L77.5,74.5M64.8,44.0 L62.7,45.6M31.0,24.6 L28.9,25.4M31.7,62.4 L32.5,63.5M46.4,64.6 L47.7,65.5 L48.9,66.6M27.4,48.2 L27.7,50.9M73.0,54.2 L73.9,56.4M67.7,39.9 L67.0,42.5M54.4,71.1 L53.2,72.1M68.9,71.0 L67.6,72.8M28.6,5.9 L30.2,6.6M3.8,23.4 L3.6,25.0 L3.3,26.6M76.5,57.5 L75.4,58.8M79.2,46.6 L80.3,48.7M49.3,34.8 L51.1,35.2M23.7,51.7 L23.7,53.2 L24.0,54.7M26.3,16.8 L26.6,19.5M27.7,49.2 L25.1,50.4M33.5,23.6 L34.8,25.4M54.3,71.5 L56.0,73.5M61.2,52.0 L58.5,52.4M64.7,50.2 L65.4,51.3M51.1,50.5 L49.8,52.7M49.6,55.4 L48.0,56.6M35.2,24.8 L33.1,25.8M69.2,65.4 L66.8,66.5M74.4,51.9 L76.1,52.2M57.3,45.5 L59.2,46.4M55.4,47.8 L56.3,50.2M75.8,41.1 L76.3,42.5 L76.8,44.0M45.5,37.2 L44.6,38.0M65.1,52.5 L66.0,53.5M0.0,77.0 L2.0,77.7M29.0,33.0 L27.9,34.2 L26.7,35.3M24.7,67.6 L25.3,70.4M40.7,67.2 L38.7,68.8M0.7,49.4 L1.3,50.6M26.7,18.0 L23.8,18.1M13.3,61.9 L14.9,62.3 L16.5,62.6M38.9,3.1 L38.7,4.8 L38.9,6.5M66.3,48.7 L64.9,49.4 L63.6,50.3M31.5,29.3 L30.2,30.6" stroke="#555" stroke-width="1.5" stroke-opacity="0.8"/>
<path d="M17.1,61.5 L19.5,61.8M12.1,14.4 L10.7,14.8 L9.2,14.8M60.1,0.8 L61.7,1.4M2.7,29.7 L5.1,30.8M60.1,45.9 L61.5,47.3M49.2,41.3 L49.0,42.7M58.4,73.6 L58.9,75.2 L59.2,76.9M8.2,57.2 L5.9,57.6M8.3,20.0 L10.5,20.5M23.1,11.0 L24.2,13.3M51.2,80.7 L49.9,80.7M9.2,13.3 L7.8,15.5M1.6,48.7 L0.4,49.1M1.4,9.2 L0.9,10.8 L0.7,12.4M-0.4,13.4 L2.4,14.0M18.4,42.7 L20.1,43.3M54.8,9.6 L55.2,12.2M52.7,39.7 L51.8,41.8M63.4,50.3 L63.0,51.9M30.3,64.4 L30.6,65.9M29.1,22.7 L28.7,24.0M39.6,63.4 L38.9,65.5M57.7,7.4 L59.7,7.5M79.6,65.3 L79.9,66.9M71.7,49.7 L70.1,50.3M3.4,35.7 L1.2,36.7M24.4,45.8 L25.7,47.5M11.1,14.2 L11.2,15.8 L11.2,17.4M64.1,17.8 L63.0,19.8M9.5,16.5 L7.2,17.9M67.3,53.8 L68.8,56.1M35.9,58.7 L36.5,60.6M76.9,74.5 L79.2,76.2M72.9,10.6 L71.8,11.7 L70.6,12.7M71.3,38.2 L69.2,38.5M78.5,80.1 L80.9,79.9M15.0,33.9 L12.9,35.4M4.5,14.1 L6.7,15.7M39.2,12.1 L38.2,13.4M-0.4,33.7 L2.4,34.4M69.2,42.3 L67.4,43.7M37.9,31.8 L36.6,32.0M5.5,75.9 L6.3,78.4M12.4,58.6 L10.9,59.1 L9.4,59.7M39.2,44.9 L38.7,47.7M30.5,64.6 L28.9,65.7M0.7,59.3 L1.3,60.3M15.1,75.5 L16.5,76.4 L18.0,77.1M29.4,52.9 L27.9,53.0M33.5,1.1 L31.0,1.8M24.2,52.7 L22.1,53.0M63.8,37.3 L64.3,39.0M35.1,73.3 L32.2,73.2" stroke="#888" stroke-width="1.5" stroke-opacity="0.75"/>
</g></g>
<clipPath id="c10"><rect x="567.88" y="97.30" width="80.72" height="81.70"/></clipPath>
<g clip-path="url(#c10)">
<rect x="567.88" y="97.30" width="80.72" height="81.70" fill="#e6e6e6" filter="url(#nz)"/>
<g transform="translate(567.88,97.30)" fill="none" stroke-linecap="round" stroke-linejoin="round" filter="url(#bl)">
<path d="M4.1,3.9 L5.6,3.4 L7.2,2.9M14.7,13.5 L14.2,15.7M9.2,25.0 L7.9,26.1 L6.5,27.2M0.8,21.4 L2.2,22.3M14.8,25.3 L16.2,26.1 L17.7,26.8M27.9,23.1 L28.4,23.4M19.0,28.8 L20.3,28.1 L21.7,27.5M36.5,4.2 L38.0,6.2M53.2,5.7 L54.7,5.8M66.6,5.9 L68.1,6.6M51.8,18.7 L50.5,19.5 L49.1,20.1M49.2,15.4 L49.0,18.0M41.3,30.4 L40.5,31.8 L39.6,33.2M29.6,38.8 L32.2,39.5M49.5,36.2 L50.7,37.3 L52.0,38.3M62.7,41.7 L63.7,42.9 L64.7,44.2M70.1,54.3 L70.9,56.1M69.9,70.2 L67.6,71.6M37.3,50.3 L38.6,51.2M47.3,54.8 L48.9,54.4 L50.4,54.0M57.3,50.8 L59.0,49.7M66.1,55.9 L67.8,55.7M72.6,48.7 L74.5,46.8M79.3,38.0 L79.5,35.2M76.5,13.4 L77.4,15.5M73.8,39.1 L74.8,41.1M32.7,62.9 L33.4,65.1M34.3,59.6 L36.0,61.8M56.0,71.3 L55.0,73.1M46.0,76.9 L47.8,77.7M6.5,74.7 L8.6,75.0M20.2,47.0 L23.0,46.6M66.5,73.4 L67.1,74.9M8.8,6.7 L10.0,7.7 L11.2,8.7M12.4,15.7 L11.8,18.0M11.0,11.0 L12.7,12.9M6.3,22.3 L7.8,23.0M22.1,13.7 L23.7,15.9M12.7,30.7 L14.3,30.6M23.6,27.0 L25.2,25.8M42.1,7.3 L43.5,9.7M55.7,4.5 L58.5,4.9M63.8,11.1 L61.5,12.7M43.6,22.2 L40.7,22.4M49.9,20.3 L49.7,22.7M38.7,34.0 L37.2,36.4M36.4,41.9 L38.0,42.3M52.3,37.2 L53.5,38.1 L54.7,39.0M62.5,47.2 L63.5,48.4M68.9,58.1 L70.0,60.4M67.9,69.0 L66.8,69.6M39.4,51.6 L40.8,52.5M53.3,49.8 L55.0,49.4M57.7,55.2 L59.5,55.0M68.9,55.0 L70.9,53.1M77.4,44.7 L78.3,43.3M77.4,33.5 L77.5,32.3M77.5,16.8 L78.3,18.7M77.9,44.3 L78.0,44.6M31.7,64.0 L32.0,65.5 L32.3,67.0M52.5,58.0 L53.3,59.4 L54.0,60.9M56.9,75.7 L55.8,77.1 L54.8,78.4M49.3,78.8 L51.6,79.9M13.7,75.7 L15.1,76.2 L16.6,76.7M3.1,47.2 L4.4,45.2M67.6,78.0 L67.6,78.1" stroke="#383838" stroke-width="1.5" stroke-opacity="0.9"/>
<path d="M13.5,9.7 L14.5,12.3M13.4,22.7 L12.9,24.3M11.5,10.6 L13.9,11.1M8.2,24.6 L10.5,25.6M23.8,18.8 L25.8,20.1M15.9,30.7 L17.7,30.2M28.0,25.4 L29.0,24.7M47.2,3.6 L49.8,3.8M61.2,6.7 L62.7,7.0 L64.2,7.3M55.5,16.2 L54.1,17.0 L52.7,17.8M39.3,20.1 L37.7,20.2M47.2,26.8 L45.8,28.9M28.3,38.7 L29.6,39.6 L30.8,40.5M47.0,32.0 L48.6,33.7M57.5,41.5 L58.7,42.5M66.3,51.8 L67.8,54.3M73.2,66.1 L73.3,68.4M34.1,46.3 L36.4,48.2M42.1,52.2 L43.9,53.0M53.3,49.3 L55.1,48.2M60.3,53.9 L62.8,53.6M72.1,52.1 L73.5,50.8M77.9,43.4 L78.5,41.8M73.4,9.0 L73.6,10.6M75.0,37.2 L75.3,39.4M29.5,57.0 L30.0,58.5 L30.5,60.0M31.6,56.8 L33.2,58.9M58.9,69.2 L58.6,70.8 L58.3,72.3M39.8,73.7 L41.4,74.2 L43.0,74.8M2.8,73.9 L4.7,74.2M17.6,75.5 L20.2,76.6M3.8,43.4 L4.9,42.2 L6.2,41.1" stroke="#666" stroke-width="1.5" stroke-opacity="0.8"/>
<path d="M12.9,55.7 L12.8,58.0M32.4,25.3 L32.4,26.8 L32.3,28.3M28.0,33.7 L29.4,34.3 L30.8,34.8M4.2,28.5 L4.6,30.7M74.1,36.0 L72.1,37.1M77.3,50.6 L76.0,52.3M42.3,76.5 L43.8,77.3 L45.1,78.4M36.8,79.4 L37.5,81.2M21.9,4.5 L20.8,6.4M17.3,2.5 L15.4,4.8M43.3,27.2 L43.7,29.6M62.6,22.7 L61.7,24.1M75.2,33.5 L75.4,35.1M45.3,27.4 L46.4,29.6M20.5,20.9 L23.3,21.7M36.4,4.6 L36.6,6.0M32.5,41.4 L33.5,42.2M47.0,7.5 L47.9,10.3M7.5,37.2 L9.3,38.4M4.3,52.5 L3.9,54.5M59.9,58.2 L61.3,58.5M18.2,47.3 L16.0,48.5M71.3,60.3 L69.9,60.9M70.7,30.6 L71.5,32.3M3.4,52.6 L2.4,53.9 L1.7,55.4M77.1,10.5 L78.5,11.6M37.8,40.8 L36.6,42.1 L35.4,43.2M56.0,78.4 L58.2,79.3M12.1,16.4 L13.9,18.1M34.7,34.6 L36.4,34.8 L38.1,34.7M16.4,16.9 L18.6,18.1M44.5,34.7 L44.5,36.3 L44.5,37.8M1.1,34.6 L1.9,36.0 L2.5,37.5M7.5,3.4 L9.5,4.9M21.8,47.4 L20.4,48.1M37.0,79.8 L35.6,80.6 L34.4,81.7M71.5,18.0 L71.6,19.9M59.7,7.1 L59.2,8.5 L58.5,9.9M11.9,30.0 L13.5,31.6M22.2,19.3 L20.9,20.4 L19.7,21.4M24.3,42.7 L23.8,45.3M74.5,20.8 L72.2,22.0M64.2,14.7 L64.4,16.4M54.8,20.9 L56.4,21.2 L58.1,21.6M44.3,19.3 L43.4,20.8 L42.4,22.2M76.4,44.9 L77.2,45.9M60.9,28.7 L58.7,30.3M58.9,50.3 L58.1,52.2M38.8,66.9 L38.7,68.5 L38.7,70.0M51.2,79.5 L49.7,81.9M74.7,27.3 L76.4,27.5 L78.1,27.4M42.4,21.7 L41.1,23.2M10.6,70.4 L10.5,72.8M0.3,28.1 L1.7,29.4M51.7,80.0 L50.9,81.4M25.6,33.9 L23.8,35.1M25.5,35.0 L26.1,37.4" stroke="#383838" stroke-width="1.45" stroke-opacity="0.85"/>
<path d="M51.2,47.7 L50.2,49.0 L49.4,50.5M6.1,7.7 L4.0,8.0M45.1,23.1 L45.7,24.6 L46.6,26.0M71.1,11.9 L72.8,13.6M35.6,79.3 L36.5,80.7 L37.3,82.1M79.0,51.5 L78.1,52.8M63.6,68.6 L62.8,70.6M32.9,73.5 L32.5,75.3M5.5,33.8 L6.6,35.2M47.8,12.5 L46.4,12.7M2.4,49.6 L2.0,51.2 L1.7,52.8M58.9,2.3 L59.3,3.5M35.2,45.0 L35.6,47.9M32.9,34.6 L34.5,34.8 L36.1,35.1M32.1,37.3 L32.7,38.4M64.5,18.5 L65.7,18.9M24.5,19.7 L26.0,21.8M47.3,80.6 L44.4,80.8M47.1,30.4 L44.3,30.8M4.7,41.0 L2.6,41.8M61.0,42.6 L62.6,45.1M70.9,66.7 L72.9,68.4M16.9,27.6 L15.5,28.5 L14.1,29.3M60.9,34.1 L61.4,35.8M52.6,25.4 L52.4,28.0M79.6,56.5 L78.2,58.8M64.4,23.7 L64.2,25.2 L63.8,26.7M18.8,14.2 L19.1,16.8M0.6,2.7 L1.7,4.5M2.4,16.4 L1.0,17.4 L-0.5,18.1M58.0,35.6 L56.4,36.3M79.5,39.2 L79.9,40.6M36.4,73.6 L34.7,74.8M58.0,76.1 L57.0,77.1M37.1,79.7 L38.1,81.7M64.7,73.0 L65.0,74.9M3.1,31.1 L2.9,33.2M60.2,80.1 L58.1,81.3M69.6,4.6 L67.9,6.6M52.5,13.0 L51.5,15.1M38.4,67.2 L39.2,68.7 L40.3,70.1M23.1,30.5 L22.7,33.1M72.9,63.1 L73.9,65.0M18.3,32.9 L20.1,33.6M17.3,21.1 L18.8,21.2 L20.4,21.1M62.8,43.7 L61.3,43.8M62.0,79.5 L63.4,81.9M56.8,33.6 L58.5,34.2M58.1,26.1 L59.3,26.3M16.3,36.5 L17.8,36.8 L19.4,36.9M1.9,5.6 L3.7,7.1M62.1,54.8 L60.8,57.3M79.3,-0.5 L79.0,1.1 L78.9,2.7M73.3,5.9 L75.0,6.3 L76.7,6.6M45.4,36.1 L45.0,37.3M32.5,23.2 L33.8,24.5M21.8,36.6 L21.9,38.0" stroke="#555" stroke-width="1.5" stroke-opacity="0.8"/>
<path d="M15.6,26.2 L17.1,26.9M51.0,33.1 L53.6,34.4M57.9,55.4 L60.0,55.8M39.8,24.6 L38.5,26.1M2.1,13.7 L-0.1,15.0M64.7,34.7 L64.8,36.5M53.1,77.0 L53.8,78.4 L54.3,80.0M17.4,41.6 L15.7,44.0M-0.0,0.3 L2.0,1.7M30.5,34.4 L32.1,36.8M78.5,55.7 L81.0,55.8M57.7,46.0 L56.7,47.1 L55.7,48.3M9.1,17.4 L9.9,18.5M25.4,20.8 L27.7,21.5M41.8,23.2 L43.0,24.3 L44.3,25.2M75.8,24.2 L74.1,24.8M16.3,79.0 L14.9,80.2M12.2,42.4 L13.3,43.9M18.1,7.4 L15.4,7.3M52.2,13.7 L51.2,15.7M78.8,80.2 L80.6,81.2M33.1,40.8 L33.9,42.0M15.4,23.1 L15.5,24.9M69.9,11.2 L69.7,13.7M69.8,63.3 L67.4,63.4M29.5,24.4 L31.9,24.7M50.9,76.5 L48.1,77.4M42.2,65.7 L42.7,68.1M1.0,27.8 L1.0,29.0M0.9,1.3 L2.5,1.8M40.5,61.4 L39.3,62.5M21.7,4.3 L23.0,5.1 L24.4,5.8M60.9,29.4 L60.2,31.1M64.5,35.8 L61.9,36.1M29.5,19.5 L30.8,21.3M69.3,49.4 L68.4,50.3M36.3,12.0 L36.3,13.5M34.5,31.5 L31.6,31.6M69.5,31.9 L69.6,33.4 L69.6,35.0M12.2,5.9 L13.5,6.8M30.1,30.5 L31.4,32.7M41.1,79.8 L40.7,81.6M63.8,78.5 L62.6,80.4M43.3,43.4 L41.4,44.6M66.8,22.4 L68.6,22.8M49.2,50.3 L49.4,52.4M17.2,28.8 L15.1,30.7M60.1,36.9 L59.7,38.6M33.6,57.2 L34.9,57.9 L36.4,58.3M17.0,14.2 L17.4,15.5M60.1,66.9 L59.0,68.7M19.8,28.3 L18.7,30.1M81.1,35.8 L78.3,36.9M41.8,79.7 L43.8,79.6M51.5,50.1 L52.0,51.5 L52.4,52.9M5.1,-0.1 L5.3,2.1" stroke="#888" stroke-width="1.5" stroke-opacity="0.75"/>
</g></g>
<rect x="245.85" y="98.15" width="401.90" height="80.00" fill="none" stroke="#000" stroke-width="1.7"/>
<line x1="325.72" y1="97.30" x2="325.72" y2="179.00" stroke="#000" stroke-width="1.7"/>
<line x1="406.44" y1="97.30" x2="406.44" y2="179.00" stroke="#000" stroke-width="1.7"/>
<line x1="487.16" y1="97.30" x2="487.16" y2="179.00" stroke="#000" stroke-width="1.7"/>
<line x1="567.88" y1="97.30" x2="567.88" y2="179.00" stroke="#000" stroke-width="1.7"/>
<clipPath id="c11"><rect x="245.00" y="182.00" width="80.72" height="81.70"/></clipPath>
<g clip-path="url(#c11)">
<rect x="245.00" y="182.00" width="80.72" height="81.70" fill="#d8d8d8" filter="url(#nz)"/>
<g transform="translate(245.00,182.00)" fill="none" stroke-linecap="round" stroke-linejoin="round" filter="url(#bl)">
<path d="M3.0,4.8 L3.6,9.6 L2.4,14.4M8.4,4.8 L9.0,9.6M18.0,4.2 L22.7,6.0 L28.7,4.8 L31.1,8.4M37.1,3.6 L38.3,6.0M46.7,9.6 L52.7,6.0 L59.9,4.8M41.3,18.6 L47.9,15.6 L52.7,12.0 L56.3,6.0M73.0,3.6 L71.8,11.4M73.0,16.2 L79.0,14.4M64.0,13.2 L65.2,21.5 L64.6,31.7M12.6,22.1 L16.8,27.5 L19.2,32.3M2.4,32.3 L9.0,31.7M28.1,38.3 L33.5,42.5 L39.5,44.9 L47.9,43.7 L53.3,38.3 L53.3,31.7M53.3,35.9 L55.7,47.9 L58.7,57.5 L61.1,67.0 L67.0,70.6 L71.8,74.2 L74.2,79.0M39.5,66.4 L41.9,58.7 L47.9,52.7 L55.1,47.9 L59.9,45.5M1.2,41.3 L2.4,39.5M1.8,59.9 L12.0,60.5 L22.7,60.5M1.2,65.2 L6.0,62.8M18.0,64.6 L25.1,68.2 L31.1,73.0 L34.7,79.0M28.7,73.0 L28.1,79.0M47.9,74.2 L45.5,79.0M70.6,56.3 L77.8,51.5 L79.6,50.3M67.0,65.8 L74.2,69.4 L79.6,68.2M74.8,46.1 L79.0,47.9M79.0,70.6 L75.4,79.0" stroke="#383838" stroke-width="1.55" stroke-opacity="0.92"/>
</g></g>
<clipPath id="c12"><rect x="325.72" y="182.00" width="80.72" height="81.70"/></clipPath>
<g clip-path="url(#c12)">
<rect x="325.72" y="182.00" width="80.72" height="81.70" fill="#d8d8d8" filter="url(#nz)"/>
<g transform="translate(325.72,182.00)" fill="none" stroke-linecap="round" stroke-linejoin="round" filter="url(#bl)">
<path d="M3.3,4.8 L3.9,9.6 L2.7,14.4M8.7,4.8 L9.3,9.6M18.3,4.2 L23.0,6.0 L29.0,4.8 L31.4,8.4M37.4,3.6 L38.6,6.0M47.0,9.6 L53.0,6.0 L60.2,4.8M41.6,18.6 L48.2,15.6 L53.0,12.0 L56.6,6.0M73.3,3.6 L72.1,11.4M73.3,16.2 L79.3,14.4M64.3,13.2 L65.5,21.5 L64.9,31.7M12.9,22.1 L17.1,27.5 L19.5,32.3M2.7,32.3 L9.3,31.7M28.4,38.3 L33.8,42.5 L39.8,44.9 L48.2,43.7 L53.6,38.3 L53.6,31.7M53.6,35.9 L56.0,47.9 L59.0,57.5 L61.4,67.0 L67.3,70.6 L72.1,74.2 L74.5,79.0M39.8,66.4 L42.2,58.7 L48.2,52.7 L55.4,47.9 L60.2,45.5M1.5,41.3 L2.7,39.5M2.1,59.9 L12.3,60.5 L23.0,60.5M1.5,65.2 L6.3,62.8M18.3,64.6 L25.4,68.2 L31.4,73.0 L35.0,79.0M29.0,73.0 L28.4,79.0M48.2,74.2 L45.8,79.0M70.9,56.3 L78.1,51.5 L79.9,50.3M67.3,65.8 L74.5,69.4 L79.9,68.2M75.1,46.1 L79.3,47.9M79.3,70.6 L75.7,79.0" stroke="#383838" stroke-width="1.55" stroke-opacity="0.92"/>
</g></g>
<clipPath id="c13"><rect x="406.44" y="182.00" width="80.72" height="81.70"/></clipPath>
<g clip-path="url(#c13)">
<rect x="406.44" y="182.00" width="80.72" height="81.70" fill="#dcdcdc" filter="url(#nz)"/>
<g transform="translate(406.44,182.00)" fill="none" stroke-linecap="round" stroke-linejoin="round" filter="url(#bl)">
<path d="M2.6,7.0 L2.9,9.0 L2.7,10.9M18.7,3.4 L20.3,4.0 L21.9,4.6M36.6,4.8 L37.7,7.0M55.4,5.5 L57.2,5.2 L59.0,4.9M56.9,5.6 L57.1,5.2M73.7,17.0 L75.7,16.4M64.8,18.8 L65.1,21.5M17.1,28.1 L17.9,29.7 L18.8,31.4M35.2,43.5 L36.7,44.1 L38.2,44.7 L39.7,45.3M52.7,36.9 L52.7,34.9 L52.7,33.0M55.5,47.4 L56.4,50.1M58.9,59.6 L59.4,61.7 L59.9,63.7M73.1,76.8 L73.9,78.4M52.4,49.5 L54.5,48.1M3.7,59.9 L5.8,60.0 L7.9,60.1M19.9,60.7 L22.8,60.7M26.8,70.7 L28.4,71.9 L29.9,73.2M29.4,73.3 L29.2,75.4 L29.0,77.5M78.0,50.9 L78.9,50.3M78.1,69.1 L79.9,68.7M76.5,76.5 L75.8,78.1M1.8,13.0 L1.5,14.4M23.4,5.5 L26.2,5.0M48.8,9.7 L51.0,8.4M41.1,19.1 L42.6,18.4 L44.1,17.8 L45.6,17.1M71.8,4.7 L71.5,7.0M77.4,15.5 L79.3,15.0M64.7,22.5 L64.6,24.1 L64.5,25.8M3.8,32.0 L5.6,31.8 L7.4,31.6M39.5,44.9 L41.1,44.7 L42.7,44.5M54.1,36.6 L54.5,38.6 L54.9,40.6M56.7,52.3 L57.3,54.3M60.1,65.5 L60.4,67.0 L61.4,68.2 L62.7,69.0M39.4,65.9 L39.9,64.3 L40.4,62.7M59.9,46.4 L60.5,46.1M9.4,60.6 L11.1,60.7 L12.9,60.7M1.5,64.6 L3.1,63.9 L4.6,63.1M32.0,74.2 L32.8,75.5 L33.6,76.9 L34.4,78.2M46.7,76.5 L45.7,78.5M67.7,65.5 L70.4,66.9M75.5,47.6 L77.8,48.7" stroke="#383838" stroke-width="1.5" stroke-opacity="0.9"/>
<path d="M8.6,6.8 L8.8,8.5 L9.0,10.3M27.0,4.3 L28.6,4.0 L29.7,4.6 L30.6,5.9M50.8,6.5 L52.2,5.7 L53.7,5.5M52.9,12.7 L53.9,11.5 L54.7,10.2 L55.5,8.8M71.2,8.5 L70.9,10.6M64.7,14.3 L65.0,16.4M13.4,22.9 L14.3,24.1 L15.3,25.3 L16.2,26.5M28.2,38.7 L29.5,39.7 L30.8,40.7 L32.1,41.7M46.4,44.5 L48.5,44.2 L50.2,42.8M55.5,42.1 L55.9,43.7 L56.2,45.3 L56.5,46.9M57.6,55.5 L58.4,58.2M65.6,69.4 L67.0,70.2 L68.2,71.0 L69.5,71.9M40.7,61.0 L41.3,59.2 L42.6,57.9M1.2,39.6 L1.9,38.5M14.7,60.7 L16.8,60.7M17.5,64.9 L19.1,65.7 L20.6,66.5M33.5,79.2 L33.8,79.8M71.3,56.0 L73.5,54.5M72.2,67.5 L73.7,68.2 L75.3,68.6 L76.9,68.2M78.0,73.5 L77.4,74.9 L76.8,76.4" stroke="#666" stroke-width="1.5" stroke-opacity="0.8"/>
<path d="M24.5,75.4 L25.9,76.6 L27.2,77.9M43.0,80.4 L41.5,81.0M47.6,56.2 L47.8,59.1M56.3,31.7 L54.1,32.3M47.1,66.8 L45.4,68.8M17.2,17.1 L14.8,17.5M32.8,31.2 L34.6,32.7M72.3,73.8 L70.2,75.6M29.3,43.3 L30.7,44.0 L32.0,44.7M20.0,19.9 L20.0,21.7 L20.4,23.4M28.6,50.8 L26.6,51.5M61.3,19.3 L63.0,19.8M45.1,37.5 L46.6,37.7M24.1,21.7 L25.6,22.6 L27.2,23.2M76.6,65.0 L74.4,65.7M44.6,48.7 L45.8,49.6 L46.9,50.7M42.3,4.5 L43.8,4.8 L45.4,5.0" stroke="#383838" stroke-width="1.45" stroke-opacity="0.85"/>
<path d="M65.8,69.9 L68.3,70.2M52.2,27.5 L51.9,30.0M43.3,39.0 L42.2,40.7M4.1,54.7 L2.6,55.5M71.0,15.6 L68.4,15.5M42.1,61.6 L42.3,63.5M2.4,47.8 L1.0,48.9 L-0.5,49.8M20.0,49.4 L22.2,50.2M20.8,8.5 L19.4,9.3 L17.8,9.9M20.0,44.4 L19.7,45.8 L19.6,47.4M60.2,73.2 L58.8,74.5 L57.5,75.9M70.1,76.3 L68.1,78.3M79.2,59.3 L78.0,61.3M44.1,7.7 L44.5,9.9M35.3,71.5 L36.8,72.5M47.1,22.6 L44.8,23.8M49.7,44.8 L51.3,45.8" stroke="#555" stroke-width="1.5" stroke-opacity="0.8"/>
<path d="M63.1,7.0 L63.0,8.8M17.2,33.8 L18.3,35.4M66.0,53.2 L64.2,54.1 L62.4,55.0M38.1,31.2 L38.2,33.0M45.9,55.0 L45.0,56.4 L44.3,57.7M31.3,62.4 L29.7,62.8 L28.1,63.4M78.2,34.7 L79.9,37.2M68.0,9.2 L66.5,10.1 L65.1,11.2M11.7,8.3 L13.0,9.2 L14.3,10.0M31.2,-0.1 L31.4,2.1M65.9,9.5 L64.2,10.5M23.9,21.9 L24.3,24.8M40.2,3.9 L39.0,5.2 L37.7,6.4M51.4,20.9 L53.9,21.8M25.8,13.8 L26.9,15.1 L28.1,16.2M35.9,47.6 L32.9,47.9" stroke="#888" stroke-width="1.5" stroke-opacity="0.75"/>
</g></g>
<clipPath id="c14"><rect x="487.16" y="182.00" width="80.72" height="81.70"/></clipPath>
<g clip-path="url(#c14)">
<rect x="487.16" y="182.00" width="80.72" height="81.70" fill="#dcdcdc" filter="url(#nz)"/>
<g transform="translate(487.16,182.00)" fill="none" stroke-linecap="round" stroke-linejoin="round" filter="url(#bl)">
<path d="M2.3,5.7 L2.5,7.2 L2.7,8.7 L2.9,10.2M19.2,3.9 L20.6,4.5 L22.1,5.0M30.4,7.9 L30.6,8.2M50.7,5.7 L52.7,5.0 L54.9,4.7M71.8,4.4 L71.6,5.9 L71.4,7.4 L71.1,8.9M63.7,15.6 L64.0,17.4 L64.2,19.1M13.7,23.7 L14.7,25.0 L15.7,26.3M29.5,38.3 L31.0,39.5 L32.6,40.7M47.7,42.5 L49.8,40.4M54.7,37.4 L55.0,39.0 L55.3,40.5M57.4,53.5 L57.9,55.0 L58.4,56.5M62.2,66.1 L64.2,67.5M38.7,64.9 L39.1,63.4 L39.6,61.9 L40.1,60.4M54.0,50.0 L55.9,48.8M2.0,41.7 L2.7,40.6M14.6,59.4 L16.6,59.4 L18.7,59.4M31.8,72.4 L32.9,74.0 L34.0,75.7M47.8,75.5 L47.1,76.8 L46.4,78.2 L45.7,79.6M68.0,66.4 L69.8,67.3 L71.6,68.2M74.7,47.2 L77.0,48.2M3.7,12.0 L3.3,13.5 L2.9,15.0M21.8,4.8 L23.6,4.5 L25.5,4.1M38.0,3.2 L38.9,4.9M57.5,5.9 L59.8,5.5M71.2,9.6 L71.0,10.7M66.2,21.6 L66.1,23.7 L66.0,25.7M17.4,26.7 L18.1,28.1 L18.8,29.5 L19.5,30.9M34.1,42.2 L35.6,42.9 L37.1,43.5M51.9,39.0 L53.0,37.9 L53.4,36.4 L53.4,34.8M54.4,42.2 L54.8,44.1 L55.2,46.0M59.0,58.0 L59.4,59.6 L59.8,61.3M63.0,69.7 L64.9,70.8 L66.7,72.0M41.5,60.6 L42.0,59.0 L43.2,57.8 L44.4,56.7M56.9,48.5 L58.7,47.6M1.2,60.1 L3.1,60.2 L5.0,60.3M23.3,67.7 L25.1,68.6 L26.8,69.7M33.1,78.0 L34.1,79.8M72.0,55.6 L73.3,54.8 L74.6,53.9 L75.9,53.1M71.7,68.7 L74.4,69.9M78.8,70.4 L78.1,72.2 L77.4,73.9" stroke="#383838" stroke-width="1.5" stroke-opacity="0.9"/>
<path d="M8.5,6.2 L8.7,7.7 L8.9,9.2 L9.1,10.8M28.4,5.7 L29.4,6.8 L30.3,8.1M46.2,8.9 L48.0,7.8 L49.9,6.7M50.2,13.7 L51.8,12.5 L53.3,11.1M73.8,16.8 L75.5,16.3 L77.3,15.8M65.0,25.9 L64.9,28.0 L64.8,30.2M9.7,30.8 L10.1,30.8M45.1,43.6 L46.7,43.3 L48.3,43.1M54.3,33.2 L54.3,30.9M56.8,47.7 L57.4,49.7 L58.1,51.6M58.9,63.6 L59.3,65.1 L59.7,66.6M69.3,71.1 L70.9,72.3 L72.4,73.6M46.2,54.5 L47.2,53.4 L48.3,52.3M58.8,45.2 L59.7,44.7M7.0,59.0 L9.2,59.2 L11.3,59.3M26.9,70.2 L28.1,71.1 L29.2,72.0M29.4,73.1 L29.2,74.7 L29.1,76.3 L28.9,77.8M77.9,52.1 L79.7,50.9M76.5,69.7 L79.3,69.1" stroke="#666" stroke-width="1.5" stroke-opacity="0.8"/>
<path d="M32.1,5.1 L33.5,7.2M25.8,27.4 L23.4,28.8M52.5,75.4 L55.0,76.0M53.3,34.4 L51.2,34.6 L49.0,34.5M49.2,34.2 L51.0,34.2M30.2,1.6 L30.9,3.0 L31.5,4.5M15.4,38.6 L15.2,40.9M34.1,12.3 L35.1,13.9 L35.9,15.6M40.1,34.8 L37.8,36.5M26.9,0.2 L27.3,1.8M35.8,15.0 L35.5,16.5M29.4,35.7 L29.6,37.2M66.8,40.8 L65.2,41.4 L63.7,42.1M18.0,37.2 L16.1,37.3 L14.2,37.3M33.9,12.6 L34.0,14.2 L34.4,15.7M22.9,13.7 L24.1,15.4M58.6,18.6 L57.1,19.9 L55.7,21.5M12.0,40.8 L10.8,42.4 L9.8,44.2M-0.6,51.5 L1.0,52.6 L2.5,53.9M22.3,38.3 L22.1,40.4 L22.1,42.4M50.1,33.8 L48.4,34.3 L46.7,34.8M54.7,69.8 L54.6,71.4 L54.3,72.8M17.8,33.6 L16.3,34.3 L14.8,35.0M65.0,70.3 L65.1,72.0 L65.0,73.7M68.5,48.3 L66.8,49.2 L65.3,50.2M63.3,76.7 L63.6,78.2 L63.9,79.8M22.0,26.9 L22.6,28.6M14.3,46.6 L12.7,47.4M41.8,23.3 L39.0,24.1M22.4,16.3 L24.4,16.8M30.6,13.9 L33.4,14.8M34.1,9.0 L32.0,10.4M66.7,79.4 L67.5,82.0M47.7,54.5 L48.9,55.4M20.5,-0.8 L19.9,1.0 L19.6,2.9M23.2,41.1 L21.9,42.6M35.7,15.6 L34.8,17.9" stroke="#383838" stroke-width="1.45" stroke-opacity="0.85"/>
<path d="M64.6,72.9 L66.2,73.3 L67.7,73.9M31.2,0.5 L32.8,1.5M31.3,43.6 L31.5,45.2M32.1,4.0 L31.2,6.1 L30.1,8.1M40.1,28.9 L41.4,30.7M21.8,23.6 L19.6,25.6M51.1,19.1 L49.6,19.4M18.2,73.6 L19.9,73.8M16.4,19.7 L14.4,19.6M38.7,12.6 L36.7,13.5 L34.6,14.2M23.3,0.7 L20.7,1.3M56.6,9.5 L55.1,9.4 L53.6,9.1M54.9,29.9 L52.8,30.1 L50.6,30.4M47.6,69.9 L49.2,71.3 L50.8,72.9M2.0,20.5 L0.0,20.8M25.5,30.9 L26.6,32.6 L27.9,34.3M80.3,61.9 L79.7,63.4 L79.1,64.9M30.5,2.5 L32.6,2.9M54.9,67.6 L53.3,68.2 L51.7,68.7M49.6,20.5 L50.3,22.2 L51.0,24.0M31.5,43.5 L33.2,44.8M70.4,37.0 L72.5,37.2M30.3,10.3 L29.8,12.0M25.5,73.5 L23.9,74.6M47.1,78.7 L47.0,80.7 L46.6,82.6M59.7,79.0 L61.7,79.2M18.4,6.3 L18.1,9.3M50.5,13.7 L51.3,15.3 L52.0,17.0M56.7,54.2 L55.8,55.9 L55.1,57.6M18.3,39.9 L19.7,40.4M53.9,55.3 L55.1,56.3M50.6,53.8 L48.9,55.1M79.8,39.7 L78.1,40.5 L76.4,41.2M47.2,21.5 L48.6,23.7M55.4,29.0 L55.9,30.5 L56.4,31.9M15.5,7.3 L16.0,8.8 L16.2,10.4M-0.5,58.3 L1.0,59.3 L2.5,60.3" stroke="#555" stroke-width="1.5" stroke-opacity="0.8"/>
<path d="M40.8,31.8 L41.1,33.5 L41.2,35.2M45.7,9.5 L45.2,12.4M16.6,24.2 L16.5,26.0 L16.7,27.7M39.1,52.8 L37.7,54.9M9.9,-0.6 L10.9,1.0 L11.7,2.7M47.1,30.8 L46.4,32.2 L45.4,33.4M26.1,0.2 L24.5,1.0 L22.8,1.8M15.8,35.2 L17.4,35.6 L18.9,36.1M62.6,23.9 L60.4,24.4 L58.1,24.5M51.5,21.9 L49.4,22.6M62.5,17.5 L60.3,19.1M29.8,16.1 L29.9,18.6M42.3,46.2 L43.2,48.8M22.6,39.0 L21.3,39.9M56.7,29.1 L57.5,30.9 L58.1,32.8M24.8,25.9 L26.5,26.6 L28.2,27.4M37.0,19.1 L34.2,19.8M73.5,79.1 L74.2,80.7 L74.7,82.4M47.2,80.1 L48.1,81.3M16.3,21.3 L17.2,23.8M31.6,24.4 L30.6,26.0 L29.4,27.5M49.0,31.6 L47.8,33.9M31.8,34.2 L33.0,35.4M31.3,0.1 L32.6,1.9M36.3,21.7 L34.5,22.9M56.4,71.5 L54.7,72.2 L53.2,73.1M35.3,51.5 L36.2,53.3M37.1,12.6 L36.1,15.3M48.0,56.7 L49.2,58.2 L50.3,59.7M35.4,12.6 L33.0,13.2M70.2,39.2 L68.5,40.4 L66.7,41.6M19.7,51.5 L19.1,53.1 L18.7,54.8M29.7,41.9 L31.2,42.9 L32.6,43.9M48.3,37.6 L48.7,40.0M74.5,13.4 L75.7,15.2 L76.8,17.1M55.8,53.7 L54.3,53.9" stroke="#888" stroke-width="1.5" stroke-opacity="0.75"/>
</g></g>
<clipPath id="c15"><rect x="567.88" y="182.00" width="80.72" height="81.70"/></clipPath>
<g clip-path="url(#c15)">
<rect x="567.88" y="182.00" width="80.72" height="81.70" fill="#d8d8d8" filter="url(#nz)"/>
<g transform="translate(567.88,182.00)" fill="none" stroke-linecap="round" stroke-linejoin="round" filter="url(#bl)">
<path d="M2.0,5.9 L2.3,7.6M19.7,5.5 L22.0,6.4M30.2,8.4 L31.0,9.7M52.6,4.5 L54.4,4.2 L56.3,3.9M53.5,13.2 L55.0,11.3M71.0,9.3 L70.7,11.3M66.4,20.9 L66.6,23.3M16.4,28.3 L17.1,29.8 L17.9,31.3M31.9,42.0 L33.6,42.9M48.7,41.6 L50.5,39.8M55.1,42.9 L55.7,45.8M59.6,57.0 L60.3,59.3M66.2,68.1 L67.5,68.9 L68.8,69.7M38.8,65.1 L39.4,63.4 L39.9,61.6M46.0,54.0 L47.3,52.7 L48.9,51.7M4.7,59.0 L6.5,59.2 L8.4,59.3M22.6,61.0 L23.9,61.0M22.4,68.2 L24.1,69.2M32.1,75.6 L33.1,77.4M46.0,79.8 L45.8,80.1M80.2,50.9 L81.0,50.4M77.4,69.9 L78.9,69.6 L80.5,69.2M77.1,76.4 L76.4,78.1M5.0,8.0 L4.7,9.6 L4.3,11.2M20.9,7.1 L23.6,6.9M38.7,5.7 L38.8,6.0M44.1,18.6 L46.8,17.3M55.3,9.9 L56.8,7.5M75.1,17.2 L76.8,16.7 L78.5,16.2M65.8,24.8 L65.7,26.9M3.4,31.9 L6.2,31.6M34.7,42.2 L37.3,43.3M52.3,38.9 L52.3,37.1 L52.3,35.3M55.6,49.0 L56.1,50.6 L56.7,52.3M58.6,60.6 L59.0,62.4M72.2,75.5 L73.2,77.4M42.7,60.6 L43.6,58.2M60.1,47.2 L61.3,46.7M12.3,60.5 L13.9,60.5M2.4,65.2 L3.8,64.5 L5.1,63.9M28.3,68.9 L30.5,70.6M27.2,76.4 L27.0,78.0 L26.9,79.7M72.5,55.9 L74.1,54.8 L75.8,53.7M69.0,65.6 L70.4,66.3 L71.8,67.0M74.8,46.0 L76.2,46.6 L77.6,47.2" stroke="#383838" stroke-width="1.5" stroke-opacity="0.9"/>
<path d="M8.1,6.5 L8.3,8.3M28.3,5.2 L30.5,5.7M48.8,7.8 L50.9,6.5M48.2,15.9 L50.3,14.4M73.6,4.9 L73.3,6.6 L73.1,8.2M65.0,14.3 L65.3,16.2 L65.6,18.1M14.6,24.8 L15.9,26.5M28.5,37.9 L29.8,38.9 L31.1,39.9M40.5,43.9 L42.4,43.6 L44.2,43.4M52.9,39.2 L53.3,41.1 L53.6,43.1M57.1,52.9 L57.6,54.8M60.4,64.6 L60.9,66.1 L62.3,67.0M72.3,77.0 L72.9,78.3M42.8,57.8 L44.0,56.6 L45.2,55.4M1.9,40.7 L2.0,40.6M16.3,60.8 L17.8,60.8 L19.4,60.8M17.2,65.7 L18.8,66.5 L20.4,67.3M29.9,72.4 L31.1,73.6 L32.0,75.1M47.7,75.3 L47.0,76.7M77.0,53.5 L78.8,52.3M73.0,68.8 L74.9,69.5M77.2,71.9 L76.5,73.6 L75.8,75.3" stroke="#666" stroke-width="1.5" stroke-opacity="0.8"/>
<path d="M77.7,21.5 L77.9,23.2 L78.1,25.0M3.3,16.7 L5.1,17.2M22.7,26.3 L24.5,28.2M48.5,30.3 L50.0,30.1M33.5,61.6 L34.4,63.6M33.5,53.3 L35.0,55.7M58.3,31.6 L56.9,32.2M24.1,51.1 L23.3,52.9 L22.3,54.7M41.7,58.1 L42.1,60.6M36.7,35.7 L38.4,36.9 L40.1,38.1M48.0,52.2 L48.0,54.4M40.2,-0.9 L40.7,1.2 L41.0,3.5M31.9,28.9 L30.9,30.3 L29.7,31.7M27.9,49.5 L29.5,49.8 L31.1,50.1M16.5,67.7 L18.1,67.7 L19.8,67.7M71.1,47.2 L72.7,47.9 L74.3,48.9M48.4,53.4 L49.1,56.2M27.5,23.7 L30.2,23.8M51.7,41.1 L53.1,42.2M40.2,11.1 L39.4,12.8M16.2,11.2 L14.5,11.6 L12.7,11.9M41.8,46.5 L40.6,47.8M42.3,46.2 L41.3,47.3M25.6,39.1 L23.7,40.0 L21.8,40.8M37.6,26.7 L36.1,26.8 L34.5,26.8M54.3,25.1 L53.8,27.1 L53.1,29.0M41.2,66.9 L41.1,69.0M50.7,54.8 L48.6,54.5M9.9,54.7 L11.7,55.5 L13.5,56.2M25.5,65.2 L24.6,67.2 L23.5,69.0M21.0,69.8 L18.9,69.8 L16.8,69.5M21.7,42.5 L22.1,44.3M21.4,65.3 L21.5,67.0 L21.8,68.6M38.3,25.4 L38.7,27.2 L39.4,28.9M80.2,35.7 L79.3,37.0M49.8,43.2 L49.4,44.8 L48.7,46.4M57.4,7.1 L57.7,8.8 L58.1,10.5M41.7,33.3 L43.5,34.2 L45.4,34.9M35.6,51.5 L35.2,53.7 L34.7,55.8M19.2,39.3 L21.1,41.5M29.6,50.8 L28.2,52.2 L27.0,53.7M28.4,59.9 L30.5,60.4 L32.6,61.0M1.8,30.1 L4.6,30.5M13.6,17.2 L13.2,18.8M77.1,51.8 L78.0,53.5 L78.9,55.2M57.8,56.0 L59.9,55.9 L61.9,55.4M17.8,10.1 L16.2,10.5M22.3,15.6 L21.2,16.9M44.8,50.0 L42.8,52.2M41.5,53.3 L42.5,54.6 L43.8,55.8M20.8,32.4 L21.9,34.7M25.7,54.1 L27.4,54.6 L29.1,55.0M72.6,29.2 L70.0,30.5M39.9,31.7 L42.3,32.7M38.1,33.9 L36.4,36.1M65.2,51.0 L66.8,52.6M61.8,47.9 L60.5,49.0M49.7,24.5 L50.6,27.2M3.8,7.1 L5.3,8.0 L6.8,8.7M32.5,28.0 L33.0,29.5 L33.6,31.1M57.2,51.8 L58.8,52.3 L60.4,53.1M52.7,20.5 L53.4,22.1 L54.0,23.7M41.9,60.2 L41.5,61.7M59.4,13.7 L57.7,14.6M39.0,33.4 L40.3,35.3 L41.6,37.0M24.6,11.4 L25.7,13.8M73.6,38.6 L75.9,38.9M22.7,65.1 L22.9,67.3 L23.3,69.6M53.8,31.3 L55.1,33.1 L56.5,34.8M4.1,59.3 L6.2,59.7 L8.2,60.4M56.9,37.6 L58.1,38.6M60.9,38.5 L61.8,39.9 L62.9,41.1M18.8,9.5 L19.4,12.2M58.5,46.1 L60.1,46.4 L61.6,46.9M67.6,24.3 L66.5,25.5 L65.4,26.7M47.7,40.8 L48.0,42.3 L48.4,43.9M45.4,43.4 L45.0,45.3M12.4,58.2 L11.6,60.2M11.9,67.8 L11.7,69.7 L11.7,71.6M63.0,38.4 L63.4,40.1 L63.5,41.9" stroke="#383838" stroke-width="1.45" stroke-opacity="0.85"/>
<path d="M17.0,10.1 L15.7,11.5 L14.3,12.8M19.8,29.4 L21.5,30.5 L23.2,31.4M41.2,74.9 L39.5,75.3M23.0,49.4 L23.9,50.7 L25.0,51.8M15.3,12.0 L17.1,14.4M54.9,51.5 L56.0,53.3 L56.7,55.3M16.6,53.5 L17.3,55.3 L17.9,57.2M6.1,2.1 L4.8,3.8M33.1,43.2 L31.6,44.9 L29.9,46.3M12.8,67.3 L10.8,68.1 L8.9,68.9M6.6,14.8 L6.1,16.8 L5.8,18.7M51.4,41.4 L53.0,41.4 L54.5,41.3M28.4,51.1 L30.1,51.6 L31.7,52.1M29.2,39.3 L27.4,41.4M19.2,31.3 L17.8,32.8 L16.4,34.2M79.0,30.7 L79.8,32.1 L80.3,33.6M9.4,29.8 L8.0,31.2 L6.4,32.3M7.5,15.4 L5.2,17.0M73.2,-0.3 L75.0,0.9 L76.9,1.8M48.5,53.8 L47.6,56.5M24.0,79.6 L23.8,81.8M17.2,27.0 L16.1,28.0 L14.9,29.0M25.9,6.1 L28.0,7.5M46.1,53.6 L45.5,55.7M51.6,32.1 L49.8,33.0M7.9,27.8 L7.2,29.3 L6.4,30.7M11.1,56.7 L12.8,58.0 L14.5,59.1M36.2,59.9 L37.2,61.8M9.0,54.7 L10.9,55.4 L12.7,55.9M44.5,41.8 L42.9,42.7M9.5,65.2 L10.4,67.0 L11.0,68.9M38.4,53.3 L38.4,55.2 L38.1,57.0M33.4,25.8 L32.5,28.4M28.5,64.3 L30.5,64.2 L32.5,63.9M61.2,30.0 L62.7,30.8M32.4,63.7 L30.5,64.7M21.4,16.4 L21.3,18.2 L21.5,20.1M44.8,22.8 L44.0,24.1 L43.0,25.4M24.8,48.8 L23.8,51.1M4.9,75.8 L4.7,77.8 L4.8,79.9M40.9,46.0 L41.8,47.7 L42.6,49.4M47.4,34.1 L49.3,34.2M22.7,8.3 L24.9,9.3M78.7,64.4 L79.7,65.9 L80.8,67.3M25.2,66.4 L26.4,67.3M27.3,45.1 L28.8,46.7 L30.0,48.5M13.3,50.9 L12.1,52.1M64.4,53.2 L62.4,54.0 L60.4,55.1M79.2,58.8 L80.2,60.3M16.9,33.6 L19.2,33.8M18.3,41.4 L16.4,42.4 L14.5,43.5M1.8,67.5 L0.2,67.7M18.0,36.2 L19.2,37.2 L20.5,38.0M13.2,10.5 L14.8,11.1 L16.5,11.5M49.7,51.4 L50.0,53.5 L50.0,55.6M57.4,54.8 L55.8,55.6 L54.1,56.0M52.6,27.6 L52.2,30.0M53.2,41.5 L55.9,41.5M31.1,36.1 L32.7,37.2 L34.4,38.1M15.8,48.4 L17.4,48.5M11.1,29.7 L13.5,30.1M19.2,4.9 L18.8,6.6 L18.1,8.1M41.5,31.8 L44.0,32.8M2.0,58.0 L3.4,60.1M78.5,54.3 L80.9,54.8M8.1,60.4 L8.2,63.0M31.7,37.2 L33.4,38.5M27.5,70.1 L25.7,70.3 L23.8,70.3M22.0,66.6 L23.6,68.5M21.4,70.9 L23.1,72.0 L25.0,72.9M25.7,51.9 L25.0,53.6 L24.1,55.1M47.9,51.7 L49.3,52.6 L50.6,53.6M32.7,59.8 L34.1,60.5 L35.6,61.1M56.5,38.6 L58.0,39.4 L59.5,40.4M31.5,4.2 L32.7,5.9 L33.9,7.7M20.1,79.6 L21.2,80.7 L22.5,81.8M24.3,43.8 L21.5,44.0M42.8,17.0 L41.4,18.4 L40.0,19.8M56.8,3.1 L57.9,4.8M54.5,1.1 L51.8,1.4" stroke="#555" stroke-width="1.5" stroke-opacity="0.8"/>
<path d="M75.0,56.6 L75.7,58.0M33.2,47.4 L30.5,48.2M25.2,78.2 L23.4,78.8 L21.6,79.5M64.8,32.7 L66.0,34.5 L67.1,36.3M39.2,52.5 L39.3,55.1M18.4,8.9 L17.1,9.7 L15.9,10.6M46.1,45.1 L46.4,46.8 L46.6,48.6M44.0,46.3 L45.2,47.7M26.2,65.7 L28.0,66.9 L29.6,68.2M74.7,56.0 L73.2,57.3 L71.9,58.9M66.7,52.9 L68.3,53.7 L70.0,54.7M36.2,50.8 L38.6,50.7M29.3,44.8 L30.6,46.4M17.3,49.4 L18.3,50.6M44.8,58.1 L43.3,59.9M65.6,53.0 L65.3,55.5M53.6,48.2 L51.6,49.8M40.6,34.1 L38.9,35.6 L37.2,37.0M37.9,1.2 L36.5,2.0M21.2,57.4 L21.3,59.5 L21.5,61.6M12.4,4.7 L13.1,6.3M4.5,29.0 L5.9,30.1M32.7,62.7 L35.0,63.2M33.4,36.3 L31.4,36.7M60.4,39.8 L60.4,41.3 L60.5,42.9M33.8,28.9 L34.7,30.4 L35.6,32.0M9.0,19.6 L10.8,20.8 L12.5,22.2M48.4,49.0 L49.8,50.0M53.8,57.3 L51.9,57.3 L49.9,56.9M56.7,8.6 L56.1,10.3 L55.2,11.9M49.8,37.2 L50.7,38.9M24.6,9.8 L26.8,10.1 L29.0,10.0M49.6,44.0 L49.7,46.3M19.3,73.7 L17.8,75.0 L16.5,76.5M22.5,1.5 L24.0,2.2 L25.5,3.0M34.9,48.3 L32.8,48.5 L30.7,48.8M36.7,66.4 L37.3,67.8M22.9,10.2 L21.1,12.3M16.8,12.8 L15.8,15.5M40.2,70.9 L41.7,71.5 L43.1,72.3M32.9,39.9 L31.1,41.5M14.2,32.4 L12.2,32.6 L10.2,33.0M26.3,50.5 L26.1,52.7M21.1,75.5 L20.8,77.5M46.3,71.9 L47.3,73.8 L48.1,75.8M20.9,49.1 L21.2,51.1 L21.7,53.1M33.0,46.2 L33.2,48.0 L33.4,49.8M54.7,74.0 L55.1,75.6 L55.4,77.1M15.0,40.7 L15.1,42.4 L15.0,44.1M53.6,75.1 L55.2,76.5M51.4,35.5 L52.8,36.0 L54.2,36.6M33.4,27.5 L31.9,27.3 L30.4,26.9M71.2,56.7 L72.7,58.0 L74.3,59.0M66.5,5.3 L67.9,6.2 L69.1,7.4M75.9,51.7 L75.6,53.5M4.1,78.4 L5.6,79.6 L7.3,80.5M21.7,53.0 L24.0,54.5M50.6,61.7 L53.0,63.1M67.1,36.7 L66.0,38.4M62.2,49.7 L60.3,51.7M31.1,76.3 L30.8,78.3M60.8,40.1 L60.2,42.1M13.1,79.2 L11.6,80.7 L10.2,82.2M65.4,52.1 L66.1,54.0M38.6,64.3 L36.8,64.7 L35.2,65.5M26.7,64.0 L28.5,64.6M65.6,54.5 L63.6,54.7M7.7,50.2 L9.6,51.9M14.7,69.4 L16.7,69.8M43.5,39.8 L43.3,41.3 L43.4,42.9M33.4,59.9 L32.9,62.6M70.4,46.9 L71.5,49.3M3.6,4.2 L4.4,6.1 L5.6,7.8M73.8,35.3 L73.9,37.4 L73.8,39.5M55.7,28.2 L54.8,29.6 L53.7,30.8M18.4,38.3 L16.7,39.2M68.3,39.7 L68.8,41.4 L69.4,43.0M62.1,45.7 L63.4,46.4M26.5,6.1 L25.7,7.4 L24.8,8.6M67.9,43.9 L67.7,46.0 L67.5,48.0" stroke="#888" stroke-width="1.5" stroke-opacity="0.75"/>
</g></g>
<rect x="245.85" y="182.85" width="401.90" height="80.00" fill="none" stroke="#000" stroke-width="1.7"/>
<line x1="325.72" y1="182.00" x2="325.72" y2="263.70" stroke="#000" stroke-width="1.7"/>
<line x1="406.44" y1="182.00" x2="406.44" y2="263.70" stroke="#000" stroke-width="1.7"/>
<line x1="487.16" y1="182.00" x2="487.16" y2="263.70" stroke="#000" stroke-width="1.7"/>
<line x1="567.88" y1="182.00" x2="567.88" y2="263.70" stroke="#000" stroke-width="1.7"/>
<clipPath id="c16"><rect x="245.00" y="265.70" width="80.72" height="81.30"/></clipPath>
<g clip-path="url(#c16)">
<rect x="245.00" y="265.70" width="80.72" height="81.30" fill="#d2d2d2" filter="url(#nz)"/>
<g transform="translate(245.00,265.70)" fill="none" stroke-linecap="round" stroke-linejoin="round" filter="url(#bl)">
<path d="M4.2,5.4 L12.0,9.0 L18.6,11.4M20.9,13.2 L18.0,19.2 L16.2,23.9 L16.5,28.7M22.7,26.9 L29.9,26.9 L35.9,28.1 L38.3,33.5M34.7,23.9 L37.1,28.1 L44.3,24.5M31.1,37.1 L26.3,40.7 L23.9,46.1M27.5,47.9 L23.9,53.9 L21.5,61.1 L19.8,68.8M46.1,40.7 L47.3,47.9 L49.1,55.1 L49.1,59.9M45.5,58.7 L50.3,59.3 L55.1,59.3M47.9,46.7 L53.9,50.3 L58.7,53.9 L63.4,59.9M63.4,38.3 L68.2,44.3 L70.6,49.1 L71.8,55.1M61.6,47.9 L65.8,51.5 L68.2,54.5M49.1,71.8 L47.9,79.0M58.1,68.8 L58.7,79.0M75.4,74.8 L79.6,76.0" stroke="#383838" stroke-width="1.55" stroke-opacity="0.92"/>
</g></g>
<clipPath id="c17"><rect x="325.72" y="265.70" width="80.72" height="81.30"/></clipPath>
<g clip-path="url(#c17)">
<rect x="325.72" y="265.70" width="80.72" height="81.30" fill="#d2d2d2" filter="url(#nz)"/>
<g transform="translate(325.72,265.70)" fill="none" stroke-linecap="round" stroke-linejoin="round" filter="url(#bl)">
<path d="M4.5,5.4 L12.3,9.0 L18.9,11.4M21.2,13.2 L18.3,19.2 L16.5,23.9 L16.8,28.7M23.0,26.9 L30.2,26.9 L36.2,28.1 L38.6,33.5M35.0,23.9 L37.4,28.1 L44.6,24.5M31.4,37.1 L26.6,40.7 L24.2,46.1M27.8,47.9 L24.2,53.9 L21.8,61.1 L20.1,68.8M46.4,40.7 L47.6,47.9 L49.4,55.1 L49.4,59.9M45.8,58.7 L50.6,59.3 L55.4,59.3M48.2,46.7 L54.2,50.3 L59.0,53.9 L63.7,59.9M63.7,38.3 L68.5,44.3 L70.9,49.1 L72.1,55.1M61.9,47.9 L66.1,51.5 L68.5,54.5M49.4,71.8 L48.2,79.0M58.4,68.8 L59.0,79.0M75.7,74.8 L79.9,76.0" stroke="#383838" stroke-width="1.55" stroke-opacity="0.92"/>
</g></g>
<clipPath id="c18"><rect x="406.44" y="265.70" width="80.72" height="81.30"/></clipPath>
<g clip-path="url(#c18)">
<rect x="406.44" y="265.70" width="80.72" height="81.30" fill="#d6d6d6" filter="url(#nz)"/>
<g transform="translate(406.44,265.70)" fill="none" stroke-linecap="round" stroke-linejoin="round" filter="url(#bl)">
<path d="M6.1,6.0 L7.7,6.7 L9.4,7.5M18.3,11.6 L18.6,11.7M16.0,24.4 L16.2,27.2M29.9,27.2 L31.5,27.4 L33.1,27.8 L34.7,28.1M41.1,26.3 L42.6,25.5 L44.1,24.7M27.1,48.7 L26.3,50.1 L25.5,51.4 L24.7,52.7M21.2,63.1 L20.9,64.6 L20.5,66.2 L20.1,67.8M47.0,47.5 L47.4,49.2 L47.8,50.9M47.6,59.1 L49.7,59.4 L51.8,59.5M54.0,50.4 L55.3,51.3 L56.5,52.3 L57.7,53.2M63.4,38.9 L64.7,40.5 L66.0,42.0M71.3,51.5 L71.7,53.8M49.3,72.8 L48.8,75.8M75.4,74.8 L77.3,75.3 L79.2,75.9M10.5,8.0 L11.9,8.7 L13.4,9.2M20.8,14.2 L20.1,15.6 L19.4,17.0 L18.7,18.3M16.2,27.7 L16.3,28.2M35.1,28.0 L36.4,30.0M29.7,37.9 L28.4,39.0 L27.0,40.0M24.3,53.7 L23.4,56.4M19.9,68.2 L19.7,68.9M48.6,52.3 L49.0,53.8 L49.3,55.3M52.9,59.3 L55.0,59.3M59.2,54.4 L61.0,56.6M66.9,42.4 L68.4,44.4M62.4,48.2 L63.5,49.2 L64.7,50.2 L65.9,51.2M47.7,76.8 L47.4,78.7" stroke="#383838" stroke-width="1.5" stroke-opacity="0.9"/>
<path d="M14.7,9.9 L16.9,10.7M17.5,19.5 L16.8,21.3 L16.1,23.2M24.5,26.5 L26.3,26.5 L28.1,26.5M37.9,27.7 L40.1,26.6M26.3,41.3 L25.6,43.0 L24.8,44.7M22.1,57.9 L21.6,59.5 L21.1,61.0M46.7,41.8 L46.9,43.3 L47.2,44.8 L47.4,46.4M49.2,58.0 L49.2,60.1M48.2,47.1 L49.5,47.9 L50.9,48.7 L52.2,49.5M61.0,57.1 L62.0,58.3 L63.0,59.6M68.6,46.1 L69.6,47.9 L70.3,49.8M66.7,51.9 L68.3,53.8M58.2,76.4 L58.3,78.9" stroke="#666" stroke-width="1.5" stroke-opacity="0.8"/>
<path d="M62.6,35.0 L63.2,36.5 L64.0,37.9M24.7,58.5 L24.5,60.4 L24.5,62.3M37.6,72.6 L39.3,73.6 L40.8,74.9M30.0,25.8 L30.5,27.4 L31.4,28.8M55.9,19.1 L53.6,19.5M29.7,30.6 L28.3,31.1 L26.8,31.3" stroke="#383838" stroke-width="1.45" stroke-opacity="0.85"/>
<path d="M16.4,30.7 L15.7,32.5 L15.1,34.3M30.9,52.6 L29.2,53.6M42.5,67.7 L40.9,68.7M33.6,15.6 L32.5,17.0 L31.4,18.4M26.1,40.9 L24.4,41.4 L22.8,42.1M79.4,57.0 L78.0,57.7 L76.5,58.2" stroke="#555" stroke-width="1.5" stroke-opacity="0.8"/>
<path d="M45.8,47.5 L45.6,49.2 L45.5,50.8M73.1,58.5 L72.1,61.3M56.2,31.0 L55.5,32.7M38.6,22.2 L36.7,24.0M77.1,40.4 L79.1,40.4M26.7,42.5 L25.4,43.6" stroke="#888" stroke-width="1.5" stroke-opacity="0.75"/>
</g></g>
<clipPath id="c19"><rect x="487.16" y="265.70" width="80.72" height="81.30"/></clipPath>
<g clip-path="url(#c19)">
<rect x="487.16" y="265.70" width="80.72" height="81.30" fill="#d8d8d8" filter="url(#nz)"/>
<g transform="translate(487.16,265.70)" fill="none" stroke-linecap="round" stroke-linejoin="round" filter="url(#bl)">
<path d="M4.9,6.0 L6.3,6.6 L7.8,7.3 L9.3,8.0M20.9,14.3 L20.1,15.8 L19.3,17.4M30.7,27.3 L32.4,27.6 L34.0,28.0 L35.6,28.3M40.3,26.7 L41.7,26.0 L43.2,25.3 L44.7,24.5M23.8,45.4 L23.4,46.5M22.2,58.5 L21.6,60.2 L21.1,62.0M46.1,41.9 L46.3,43.6 L46.6,45.4M47.2,58.7 L49.3,59.0M51.4,48.9 L53.1,49.9M61.4,57.9 L62.4,59.1 L63.4,60.3M71.1,49.2 L71.5,51.4 L71.9,53.6M49.1,72.2 L48.8,73.7 L48.6,75.3 L48.3,76.9M57.9,74.6 L58.0,76.8M9.7,8.3 L11.3,9.1 L13.0,9.7M18.2,17.9 L17.5,19.3 L17.0,20.8 L16.4,22.4M36.9,29.3 L37.7,31.1 L38.6,33.0M29.4,38.2 L27.7,39.5M26.9,48.4 L25.8,50.2 L24.8,52.0M20.7,63.9 L20.4,65.4 L20.0,66.9M47.5,46.5 L47.9,48.4 L48.4,50.3M51.3,59.1 L53.1,59.1 L54.8,59.1M53.7,49.6 L55.1,50.5 L56.4,51.5 L57.8,52.5M64.1,39.5 L65.1,40.7 L66.1,42.0 L67.1,43.2M63.0,48.2 L64.3,49.4 L65.7,50.5M47.6,77.7 L47.4,78.9M58.8,78.4 L58.9,79.6" stroke="#383838" stroke-width="1.5" stroke-opacity="0.9"/>
<path d="M15.4,10.3 L18.0,11.2M16.6,24.7 L16.8,26.9 L16.9,29.0M35.9,26.3 L36.8,27.9 L38.0,28.2M26.6,40.0 L25.6,41.7 L24.8,43.6M24.5,53.5 L23.8,55.4 L23.2,57.3M19.5,68.6 L19.5,68.7M48.4,53.5 L48.7,55.0 L48.9,56.5M47.4,46.4 L49.2,47.5M58.7,53.4 L60.3,55.3M68.9,45.6 L70.3,48.3M67.2,52.8 L68.8,54.8M57.9,70.9 L58.0,73.0M75.8,75.0 L77.8,75.5 L79.8,76.1" stroke="#666" stroke-width="1.5" stroke-opacity="0.8"/>
<path d="M48.5,64.8 L47.0,65.9M76.7,51.6 L75.1,51.7 L73.5,51.5M70.4,64.7 L70.3,66.5M47.3,74.4 L48.8,75.5 L50.4,76.6M76.9,4.7 L77.8,6.8M1.6,1.6 L3.1,2.4M17.0,19.5 L17.9,21.3M61.1,75.2 L62.2,77.2" stroke="#383838" stroke-width="1.45" stroke-opacity="0.85"/>
<path d="M60.8,50.6 L61.3,52.4M45.5,3.0 L47.0,4.8M19.0,27.0 L17.3,27.1 L15.5,27.1M60.3,32.2 L60.3,34.2M22.3,72.1 L20.5,73.3M59.4,20.8 L61.1,20.9M32.9,68.8 L34.1,69.7 L35.4,70.5" stroke="#555" stroke-width="1.5" stroke-opacity="0.8"/>
<path d="M15.7,25.6 L15.7,27.8M32.0,9.7 L32.4,11.2 L32.8,12.7M32.5,53.8 L34.4,54.0 L36.2,53.9M23.4,57.7 L24.0,60.5M57.2,68.4 L59.8,68.6M36.7,71.4 L36.1,73.8M71.5,1.2 L72.1,3.6" stroke="#888" stroke-width="1.5" stroke-opacity="0.75"/>
</g></g>
<clipPath id="c20"><rect x="567.88" y="265.70" width="80.72" height="81.30"/></clipPath>
<g clip-path="url(#c20)">
<rect x="567.88" y="265.70" width="80.72" height="81.30" fill="#dedede" filter="url(#nz)"/>
<g transform="translate(567.88,265.70)" fill="none" stroke-linecap="round" stroke-linejoin="round" filter="url(#bl)">
<path d="M8.8,7.9 L10.6,8.7M19.2,15.8 L18.2,17.7M23.6,26.4 L25.2,26.4 L26.7,26.4M34.1,23.6 L34.9,24.9M30.2,36.8 L28.8,37.8M23.6,53.4 L23.0,55.3M47.3,49.0 L47.7,50.5 L48.1,52.1M52.5,58.4 L54.1,58.4M61.2,57.8 L62.6,59.5M68.9,45.4 L70.0,47.7M67.8,52.8 L68.5,53.7M58.9,73.1 L59.1,75.8M12.5,10.2 L13.9,10.7 L15.3,11.2M18.5,21.1 L17.7,23.1M30.3,26.3 L31.8,26.6 L33.3,26.9M38.0,27.2 L40.4,26.0M25.3,44.1 L24.5,45.8M21.9,59.1 L21.2,61.1M48.6,55.7 L48.6,57.3 L48.6,58.9M53.7,50.7 L54.9,51.6M63.8,38.3 L65.5,40.5M71.7,50.4 L72.1,52.1 L72.4,53.8M49.0,74.0 L48.6,76.2M58.0,77.6 L58.0,78.4" stroke="#333" stroke-width="1.5" stroke-opacity="0.9"/>
<path d="M17.1,11.1 L18.3,11.5M15.7,24.8 L15.9,27.5M35.7,30.2 L36.5,32.0M41.4,25.6 L42.9,24.9M25.3,49.6 L23.8,52.1M21.0,64.1 L20.4,66.8M48.5,58.3 L50.1,58.5M57.2,52.2 L58.8,53.6M65.8,43.1 L66.9,44.3M64.2,49.9 L65.9,51.4M47.7,79.2 L47.6,79.5" stroke="#666" stroke-width="1.5" stroke-opacity="0.8"/>
<path d="M30.4,69.9 L31.0,72.3M2.6,44.5 L3.8,46.1M62.5,57.9 L63.8,60.3M76.4,4.5 L78.5,5.2M36.6,20.7 L35.3,23.2M18.7,74.3 L19.0,77.2M12.4,48.5 L14.0,48.9 L15.5,49.5M44.5,75.4 L46.1,75.7 L47.7,75.7" stroke="#333" stroke-width="1.45" stroke-opacity="0.85"/>
<path d="M64.5,12.4 L63.5,13.8M48.9,24.4 L50.9,25.6M39.2,43.5 L37.8,44.4M76.8,48.4 L79.6,48.7M61.4,58.6 L60.2,59.7 L59.2,61.0M45.8,78.3 L45.6,80.0M54.6,65.7 L54.6,68.5M4.0,69.8 L5.3,71.9" stroke="#555" stroke-width="1.5" stroke-opacity="0.8"/>
<path d="M73.8,54.2 L73.7,55.9M41.4,60.1 L40.6,61.6 L40.0,63.1M26.2,70.0 L24.6,70.4 L23.0,70.7M28.6,78.8 L30.4,80.2M2.1,23.0 L4.6,22.5M62.2,16.4 L63.3,17.6M23.2,30.3 L25.3,30.3M60.9,59.1 L61.1,60.8 L61.2,62.5" stroke="#888" stroke-width="1.5" stroke-opacity="0.75"/>
</g></g>
<rect x="245.85" y="266.55" width="401.90" height="79.60" fill="none" stroke="#000" stroke-width="1.7"/>
<line x1="325.72" y1="265.70" x2="325.72" y2="347.00" stroke="#000" stroke-width="1.7"/>
<line x1="406.44" y1="265.70" x2="406.44" y2="347.00" stroke="#000" stroke-width="1.7"/>
<line x1="487.16" y1="265.70" x2="487.16" y2="347.00" stroke="#000" stroke-width="1.7"/>
<line x1="567.88" y1="265.70" x2="567.88" y2="347.00" stroke="#000" stroke-width="1.7"/>
<text x="283.4" y="10.7" font-size="9.2" text-anchor="middle" fill="#000">0</text>
<text x="364.2" y="10.7" font-size="9.2" text-anchor="middle" fill="#000">40</text>
<text x="443.7" y="10.7" font-size="9.2" text-anchor="middle" fill="#000">80</text>
<text x="524.2" y="10.7" font-size="9.2" text-anchor="middle" fill="#000">120</text>
<text x="606.9" y="10.7" font-size="9.2" text-anchor="middle" fill="#000">200</text>
<text x="649.2" y="11.0" font-size="9.4" text-anchor="start" fill="#000">s</text>
<text x="232.3" y="10.0" font-size="9.0" text-anchor="start" fill="#000">b</text>
<rect x="627" y="341.4" width="18" height="1.7" fill="#000"/>
<text x="241.3" y="54.4" font-size="10" text-anchor="middle" fill="#000" textLength="29.7" lengthAdjust="spacingAndGlyphs" transform="rotate(-90 241.3 54.4)">+ Cof1</text>
<text x="231.9" y="140.5" font-size="10" text-anchor="middle" fill="#000" textLength="26.8" lengthAdjust="spacingAndGlyphs" transform="rotate(-90 231.9 140.5)">+Cof1</text>
<text x="241.2" y="137.3" font-size="10" text-anchor="middle" fill="#000" textLength="66.7" lengthAdjust="spacingAndGlyphs" transform="rotate(-90 241.2 137.3)">+ Spa2(1-535)</text>
<text x="231.9" y="225.0" font-size="10" text-anchor="middle" fill="#000" textLength="35.1" lengthAdjust="spacingAndGlyphs" transform="rotate(-90 231.9 225.0)">+ Cof1+</text>
<text x="241.2" y="224.0" font-size="10" text-anchor="middle" fill="#000" textLength="65.5" lengthAdjust="spacingAndGlyphs" transform="rotate(-90 241.2 224.0)">Spa2(281-535)</text>
<text x="231.9" y="307.0" font-size="10" text-anchor="middle" fill="#000" textLength="35.1" lengthAdjust="spacingAndGlyphs" transform="rotate(-90 231.9 307.0)">+ Cof1+</text>
<text x="241.2" y="301.3" font-size="10" text-anchor="middle" fill="#000" textLength="57.2" lengthAdjust="spacingAndGlyphs" transform="rotate(-90 241.2 301.3)">Spa2(1-281)</text>
<clipPath id="c21"><rect x="17.90" y="368.80" width="80.22" height="81.40"/></clipPath>
<g clip-path="url(#c21)">
<rect x="17.90" y="368.80" width="80.22" height="81.40" fill="#d2d2d2" filter="url(#nzl)"/>
<g transform="translate(17.90,368.80)" fill="none" stroke-linecap="round" stroke-linejoin="round" filter="url(#bl)">
<path d="M61.4,53.4 L62.2,54.9M43.3,77.9 L42.4,79.4" stroke="#888" stroke-width="1.25" stroke-opacity="0.6"/>
<path d="M38.3,16.3 L40.2,17.9" stroke="#707070" stroke-width="1.0" stroke-opacity="0.54"/>
</g></g>
<clipPath id="c22"><rect x="98.12" y="368.80" width="80.22" height="81.40"/></clipPath>
<g clip-path="url(#c22)">
<rect x="98.12" y="368.80" width="80.22" height="81.40" fill="#d4d4d4" filter="url(#nzl)"/>
<g transform="translate(98.12,368.80)" fill="none" stroke-linecap="round" stroke-linejoin="round" filter="url(#bl)">
<path d="M65.7,4.6 L64.2,5.4 L62.8,6.5 L61.5,7.6M67.7,50.7 L69.6,51.7 L71.3,52.8M27.2,14.4 L29.1,15.1 L30.9,15.6 L32.8,16.1M70.8,61.5 L71.5,63.4 L72.2,65.4M21.1,46.5 L20.9,48.1 L20.7,49.7M68.6,2.6 L68.6,4.3 L68.6,5.9" stroke="#505050" stroke-width="1.4" stroke-opacity="0.8"/>
<path d="M30.0,46.0 L31.5,46.4 L33.1,46.8 L34.6,47.3M26.4,13.6 L25.0,14.2 L23.5,14.7M-0.0,53.8 L1.8,53.9 L3.6,53.9 L5.5,53.7M57.6,72.0 L56.7,73.4 L55.8,74.8 L54.7,76.2M-0.7,45.4 L0.6,46.6 L1.8,47.9 L2.8,49.4M8.8,36.9 L9.8,38.2 L10.7,39.6 L11.5,41.0" stroke="#707070" stroke-width="1.15" stroke-opacity="0.7200000000000001"/>
<path d="M18.4,40.2 L16.7,40.8 L15.0,41.7 L13.4,42.7M64.6,41.9 L66.2,43.0 L68.0,43.9 L69.9,44.5" stroke="#8a8a8a" stroke-width="1.15" stroke-opacity="0.6400000000000001"/>
</g></g>
<clipPath id="c23"><rect x="178.34" y="368.80" width="80.22" height="81.40"/></clipPath>
<g clip-path="url(#c23)">
<rect x="178.34" y="368.80" width="80.22" height="81.40" fill="#d4d4d4" filter="url(#nzl)"/>
<g transform="translate(178.34,368.80)" fill="none" stroke-linecap="round" stroke-linejoin="round" filter="url(#bl)">
<path d="M40.0,33.7 L41.8,34.4 L43.5,35.2M75.9,34.7 L74.3,36.1 L72.9,37.6M56.5,65.2 L58.1,65.8 L59.6,66.5 L61.1,67.4 L62.5,68.3M64.4,7.8 L64.9,9.4 L65.3,11.1 L65.8,12.7M33.4,71.5 L32.3,72.8 L31.2,74.0M33.4,52.7 L35.1,54.1 L36.7,55.4M49.4,47.5 L50.0,49.3 L50.8,51.1 L51.8,52.8M59.5,51.8 L58.0,52.0 L56.5,52.2 L54.9,52.4M3.7,63.3 L1.8,63.8 L-0.1,64.2M50.5,7.3 L49.1,8.1 L47.7,8.9 L46.3,9.6 L44.8,10.4M27.2,42.1 L26.0,43.0 L24.8,44.0 L23.6,44.9" stroke="#484848" stroke-width="1.4" stroke-opacity="0.85"/>
<path d="M19.1,61.3 L18.7,62.8 L18.3,64.3 L17.8,65.8M9.8,33.2 L11.4,33.8 L13.0,34.5 L14.5,35.3 L15.9,36.2M36.9,10.4 L37.2,12.0 L37.4,13.6 L37.5,15.2 L37.3,16.9M27.3,3.1 L25.5,3.2 L23.8,3.0 L22.0,2.7M50.9,65.9 L52.8,66.5 L54.6,67.4M61.3,11.7 L60.4,13.1 L59.4,14.4 L58.2,15.5M40.7,63.4 L42.3,63.9 L44.0,64.2 L45.6,64.6 L47.2,64.9M2.1,34.0 L3.0,35.3 L3.7,36.7M65.1,75.4 L66.2,77.0 L67.1,78.7 L67.9,80.5M67.5,18.5 L66.1,19.6 L64.8,20.9" stroke="#707070" stroke-width="1.15" stroke-opacity="0.765"/>
<path d="M23.2,69.3 L23.1,70.9 L22.9,72.5 L22.7,74.1 L22.4,75.7M35.6,39.5 L37.2,39.7 L38.8,39.8 L40.4,39.7 L42.0,39.5M28.7,2.9 L27.7,4.0 L26.6,5.1 L25.5,6.1M61.4,52.6 L59.9,53.2 L58.4,53.6 L56.9,53.9 L55.4,54.1M32.7,20.0 L32.0,21.7 L31.2,23.4" stroke="#8a8a8a" stroke-width="1.15" stroke-opacity="0.68"/>
</g></g>
<clipPath id="c24"><rect x="258.56" y="368.80" width="80.22" height="81.40"/></clipPath>
<g clip-path="url(#c24)">
<rect x="258.56" y="368.80" width="80.22" height="81.40" fill="#d4d4d4" filter="url(#nzl)"/>
<g transform="translate(258.56,368.80)" fill="none" stroke-linecap="round" stroke-linejoin="round" filter="url(#bl)">
<path d="M39.4,26.7 L39.8,28.6 L40.1,30.5 L40.5,32.5M73.0,31.1 L71.0,31.5 L69.0,31.7M5.7,32.7 L5.8,34.3 L6.1,36.0 L6.6,37.6M63.0,44.2 L63.4,46.4 L63.7,48.6M54.9,76.7 L54.5,78.2 L54.3,79.8 L54.1,81.3M22.5,20.3 L24.4,20.9 L26.2,21.7M2.7,25.2 L3.1,26.8 L3.6,28.3 L4.3,29.8M22.3,33.6 L20.9,34.9 L19.6,36.2M33.2,76.1 L34.2,77.8 L35.0,79.6 L35.8,81.3M73.1,22.3 L73.9,23.7 L74.7,25.1 L75.4,26.4 L76.2,27.8M33.1,56.3 L31.4,57.6 L29.8,58.9M60.6,0.0 L60.3,1.7 L59.9,3.3 L59.3,4.9 L58.5,6.5" stroke="#444" stroke-width="1.4" stroke-opacity="0.85"/>
<path d="M26.2,25.3 L25.0,26.5 L23.7,27.6 L22.4,28.5 L20.9,29.3M59.6,60.2 L61.2,61.0 L62.7,61.9M30.2,46.3 L32.0,46.4 L33.7,46.5M3.1,29.5 L4.7,29.9 L6.3,30.5 L7.8,31.2M15.1,7.4 L14.7,9.0 L14.3,10.6M24.2,64.3 L25.7,65.2 L27.2,66.1M1.1,18.6 L2.8,18.9 L4.5,19.0 L6.2,19.0M66.5,13.5 L67.9,14.4 L69.2,15.2 L70.6,16.0 L72.1,16.8M38.4,1.6 L37.8,3.3 L37.4,5.0 L37.0,6.7 L36.8,8.4M58.3,71.4 L59.7,72.3 L61.1,73.1 L62.6,73.9M26.6,69.9 L26.7,71.5 L26.7,73.1M54.1,29.8 L54.8,31.2 L55.3,32.7 L55.7,34.2 L55.9,35.8" stroke="#707070" stroke-width="1.15" stroke-opacity="0.765"/>
<path d="M42.5,0.8 L44.0,0.9 L45.6,0.9 L47.1,0.7M50.3,10.4 L50.8,12.0 L51.5,13.5 L52.3,15.0M41.9,62.9 L41.1,64.3 L40.4,65.8 L39.9,67.4M4.8,39.4 L5.8,40.7 L6.7,42.0 L7.6,43.4M19.9,74.7 L19.3,76.2 L18.9,77.8 L18.5,79.4 L18.3,81.0M32.7,66.5 L34.5,67.4 L36.3,68.1 L38.2,68.5" stroke="#8a8a8a" stroke-width="1.15" stroke-opacity="0.68"/>
</g></g>
<clipPath id="c25"><rect x="338.78" y="368.80" width="80.22" height="81.40"/></clipPath>
<g clip-path="url(#c25)">
<rect x="338.78" y="368.80" width="80.22" height="81.40" fill="#d4d4d4" filter="url(#nzl)"/>
<g transform="translate(338.78,368.80)" fill="none" stroke-linecap="round" stroke-linejoin="round" filter="url(#bl)">
<path d="M35.8,75.9 L34.9,77.2 L33.9,78.5 L33.0,79.8 L32.1,81.1M77.4,1.1 L77.2,2.7 L77.1,4.3 L77.2,5.8 L77.3,7.4 L77.5,9.0M47.5,10.0 L48.1,11.9 L48.5,13.7 L48.9,15.6M69.0,39.5 L67.3,40.0 L65.6,40.4 L63.8,40.7M31.0,47.0 L32.6,47.0 L34.1,47.0 L35.7,46.8 L37.2,46.5 L38.7,46.1M68.8,70.0 L67.7,71.0 L66.6,72.1 L65.7,73.3 L65.0,74.6M62.0,49.4 L61.4,51.3 L60.8,53.2 L60.2,55.0M60.0,74.1 L58.5,75.6 L56.9,77.0M12.8,64.7 L14.2,65.8 L15.6,67.1 L16.9,68.3 L18.2,69.7M5.0,70.6 L3.2,71.0 L1.5,71.7 L-0.2,72.6M39.2,49.2 L39.1,50.8 L39.0,52.3 L38.7,53.8 L38.3,55.3 L37.9,56.8M31.3,29.7 L32.8,29.9 L34.4,30.1 L36.0,30.3 L37.6,30.7 L39.1,31.1M64.9,76.0 L64.3,78.1 L63.5,80.2M39.8,35.7 L41.4,36.2 L43.0,36.5 L44.7,36.7 L46.4,36.8M11.8,29.7 L10.1,30.3 L8.4,31.0 L6.8,31.6" stroke="#444" stroke-width="1.4" stroke-opacity="0.85"/>
<path d="M59.0,56.1 L57.4,57.0 L55.9,57.9 L54.4,58.9 L52.9,60.0M63.3,49.9 L63.2,51.7 L63.1,53.5 L62.9,55.3 L62.5,57.0M43.0,75.2 L44.3,76.8 L45.3,78.4 L46.2,80.2M43.7,21.4 L44.9,22.4 L46.1,23.4 L47.2,24.4 L48.2,25.5M56.9,67.0 L57.3,68.6 L57.7,70.2 L58.0,71.8M21.3,47.6 L21.7,49.2 L22.2,50.8 L22.5,52.4M6.7,24.8 L8.7,25.7 L10.6,26.7M38.3,58.0 L39.8,58.0 L41.3,57.9 L42.8,57.6M35.2,17.4 L35.3,18.9 L35.2,20.4 L35.1,21.9M59.0,9.7 L59.2,11.5 L59.7,13.2 L60.3,14.9M50.5,55.2 L52.1,55.2 L53.7,55.0 L55.3,54.6 L56.8,54.0M24.0,26.6 L22.6,27.1 L21.1,27.5 L19.6,27.9 L18.2,28.3 L16.7,28.7M46.5,78.5 L48.2,78.8 L49.9,79.3 L51.5,80.0M36.1,43.4 L36.0,44.9 L35.7,46.4 L35.3,47.9" stroke="#707070" stroke-width="1.15" stroke-opacity="0.765"/>
<path d="M64.0,25.8 L65.7,26.3 L67.4,26.6 L69.1,26.8M3.0,9.4 L2.8,10.9 L2.6,12.4 L2.4,14.0 L2.2,15.5 L1.9,17.0M15.9,9.2 L18.0,9.9 L20.0,10.9M63.0,79.7 L61.3,79.7 L59.6,79.6 L58.0,79.3 L56.3,78.9M48.3,70.2 L50.0,71.3 L51.7,72.3M50.8,65.8 L50.2,67.7 L49.8,69.6 L49.5,71.5M67.8,53.4 L69.1,54.2 L70.5,54.9 L72.0,55.5 L73.4,56.0 L74.9,56.4" stroke="#8a8a8a" stroke-width="1.15" stroke-opacity="0.68"/>
</g></g>
<rect x="18.70" y="369.60" width="399.50" height="79.80" fill="none" stroke="#000" stroke-width="1.6"/>
<line x1="98.12" y1="370.30" x2="98.12" y2="448.70" stroke="#505050" stroke-width="0.9"/>
<line x1="178.34" y1="370.30" x2="178.34" y2="448.70" stroke="#505050" stroke-width="0.9"/>
<line x1="258.56" y1="370.30" x2="258.56" y2="448.70" stroke="#505050" stroke-width="0.9"/>
<line x1="338.78" y1="370.30" x2="338.78" y2="448.70" stroke="#505050" stroke-width="0.9"/>
<clipPath id="c26"><rect x="17.90" y="452.00" width="80.22" height="81.40"/></clipPath>
<g clip-path="url(#c26)">
<rect x="17.90" y="452.00" width="80.22" height="81.40" fill="#e0e0e0" filter="url(#nz)"/>
<g transform="translate(17.90,452.00)" fill="none" stroke-linecap="round" stroke-linejoin="round" filter="url(#bl)">
<path d="M52.8,68.8 L54.2,69.2M73.4,80.3 L70.9,80.1M76.5,8.0 L74.6,8.4M8.3,0.7 L10.4,1.6M18.4,38.4 L20.9,39.6M58.1,6.0 L56.4,7.2M12.9,34.9 L14.7,36.6M14.7,35.3 L17.1,35.7M16.1,50.0 L13.8,51.0M43.3,51.0 L43.6,52.0M20.9,65.8 L19.5,66.1M4.0,70.5 L5.2,72.8" stroke="#444" stroke-width="1.55" stroke-opacity="0.7"/>
<path d="M41.2,39.7 L40.8,42.6M73.8,2.2 L73.1,4.2M1.9,4.3 L3.9,5.2M20.7,17.2 L18.8,18.4M56.9,41.8 L55.1,42.4M36.8,32.8 L37.4,33.8M37.5,62.0 L39.2,62.4M4.4,69.9 L5.8,70.2M75.9,66.8 L78.6,67.5M25.8,43.1 L26.0,44.6M43.7,51.5 L45.3,52.4" stroke="#505050" stroke-width="1.3" stroke-opacity="0.63"/>
<path d="M43.1,23.1 L45.3,24.2M44.7,19.3 L46.4,20.4M37.6,35.9 L40.3,36.4M35.6,49.9 L36.2,52.1M58.4,39.6 L57.4,40.1" stroke="#8a8a8a" stroke-width="1.3" stroke-opacity="0.5599999999999999"/>
</g></g>
<clipPath id="c27"><rect x="98.12" y="452.00" width="80.22" height="81.40"/></clipPath>
<g clip-path="url(#c27)">
<rect x="98.12" y="452.00" width="80.22" height="81.40" fill="#e2e2e2" filter="url(#nz)"/>
<g transform="translate(98.12,452.00)" fill="none" stroke-linecap="round" stroke-linejoin="round" filter="url(#bl)">
<path d="M29.4,1.6 L29.6,3.5 L29.7,5.3M54.5,6.4 L55.7,7.6 L56.7,9.0 L57.6,10.4 L58.4,11.9M2.6,35.8 L4.0,36.7 L5.4,37.5M61.7,17.6 L62.9,19.3 L64.1,21.1M64.6,55.4 L63.9,57.3 L63.4,59.4M70.0,59.8 L69.6,61.4 L69.2,63.0 L68.5,64.5M64.6,39.4 L62.9,39.7 L61.3,40.1 L59.6,40.7 L58.1,41.3M45.9,69.2 L46.8,70.4 L47.7,71.6 L48.7,72.8M24.0,34.8 L25.5,35.7 L26.8,36.8M52.3,30.5 L52.3,32.3 L52.4,34.0 L52.7,35.7 L53.0,37.4M35.4,39.3 L35.7,41.1 L36.1,42.9M73.5,10.6 L75.4,11.1 L77.2,11.5 L79.1,12.0M10.2,37.6 L11.2,38.9 L12.2,40.1 L13.3,41.3M14.3,34.4 L13.1,35.4 L12.0,36.5 L10.8,37.6 L9.7,38.7M49.7,41.4 L48.1,41.6 L46.6,41.7 L45.0,41.6M48.0,47.6 L50.2,47.9 L52.4,48.0M76.0,6.9 L77.0,8.7 L77.8,10.6M13.6,1.2 L12.0,1.4 L10.4,1.6 L8.8,1.9 L7.3,2.3M69.1,21.0 L69.7,22.4 L70.6,23.8 L71.6,25.0 L72.7,26.2M65.0,39.3 L64.2,40.8 L63.2,42.1 L62.1,43.4" stroke="#1a1a1a" stroke-width="1.7" stroke-opacity="0.9"/>
<path d="M60.7,30.2 L62.5,30.7 L64.2,31.1 L66.0,31.4M23.1,14.7 L21.6,15.5 L20.1,16.3 L18.6,17.1M24.4,35.5 L25.8,36.2 L27.0,37.0 L28.2,37.9 L29.3,39.0M12.2,10.3 L12.9,11.8 L13.5,13.3 L13.8,14.9 L14.0,16.6M58.1,14.0 L56.8,15.6 L55.5,17.1M64.4,51.3 L65.2,52.7 L66.0,54.2 L66.8,55.6 L67.7,57.0M35.4,64.8 L35.6,66.5 L35.6,68.2M16.6,0.3 L18.2,1.3 L19.8,2.2M60.7,4.1 L59.7,5.3 L58.6,6.6 L57.6,7.8M64.9,21.4 L63.4,22.6 L62.0,23.8 L60.4,24.9M32.2,46.0 L33.8,46.3 L35.4,46.6 L37.0,47.1M3.7,13.4 L5.4,14.0 L7.1,14.5M59.9,50.2 L61.5,50.9 L63.0,51.4M18.0,26.9 L19.2,28.2 L20.5,29.3 L21.9,30.2 L23.4,31.1M45.3,24.3 L46.5,25.3 L47.8,26.2 L49.1,26.9 L50.6,27.6M70.3,28.8 L69.0,29.9 L67.7,30.9 L66.3,31.8M40.4,57.3 L42.0,57.6 L43.6,57.7 L45.1,57.8 L46.7,57.8M25.4,30.3 L27.0,31.0 L28.7,31.5 L30.4,32.0M22.4,48.6 L20.5,49.3 L18.8,50.2 L17.2,51.2M65.6,14.2 L67.1,14.6 L68.6,15.1 L70.1,15.6 L71.6,16.2" stroke="#505050" stroke-width="1.45" stroke-opacity="0.81"/>
<path d="M66.0,40.6 L66.0,42.6 L66.1,44.5 L66.4,46.4M14.2,41.9 L15.7,43.2 L17.1,44.6M3.3,77.1 L3.8,78.8 L4.2,80.5 L4.7,82.2M48.1,30.0 L49.2,31.4 L50.4,32.7 L51.8,33.8M45.0,65.4 L46.8,66.0 L48.7,66.7 L50.5,67.5M0.2,9.2 L1.9,10.6 L3.8,11.7M51.7,11.7 L53.6,12.2 L55.6,12.5 L57.5,12.8M26.5,23.0 L26.6,24.8 L26.7,26.6 L26.7,28.5M38.6,12.6 L37.5,13.9 L36.5,15.3 L35.5,16.6 L34.4,18.0M57.2,59.1 L58.6,60.0 L59.9,61.0 L61.1,62.0 L62.4,63.0" stroke="#8a8a8a" stroke-width="1.45" stroke-opacity="0.7200000000000001"/>
</g></g>
<clipPath id="c28"><rect x="178.34" y="452.00" width="80.22" height="81.40"/></clipPath>
<g clip-path="url(#c28)">
<rect x="178.34" y="452.00" width="80.22" height="81.40" fill="#e0e0e0" filter="url(#nz)"/>
<g transform="translate(178.34,452.00)" fill="none" stroke-linecap="round" stroke-linejoin="round" filter="url(#bl)">
<path d="M25.0,12.3 L26.6,12.3 L28.3,12.3 L30.0,12.1M62.1,79.6 L60.4,79.7 L58.8,79.6 L57.1,79.4 L55.5,79.0 L54.0,78.5M5.3,62.1 L6.8,63.0 L8.2,64.1 L9.6,65.2 L10.9,66.4M29.4,9.7 L31.0,10.5 L32.7,11.2 L34.4,11.8M37.4,24.5 L36.5,26.2 L35.5,27.9 L34.6,29.6M39.3,22.1 L40.6,23.2 L42.0,24.3 L43.4,25.3 L45.0,26.2 L46.6,26.9M12.3,1.4 L13.6,2.3 L14.8,3.1 L16.0,4.0M14.0,37.9 L15.7,38.1 L17.5,38.3 L19.2,38.7 L20.9,39.2 L22.6,39.7M63.3,62.6 L64.9,63.5 L66.4,64.4 L68.0,65.4M15.7,68.6 L14.9,70.1 L14.1,71.6 L13.5,73.2 L13.0,74.8 L12.7,76.5M49.4,74.0 L50.9,74.9 L52.3,75.7 L53.9,76.4 L55.5,76.9 L57.1,77.4M67.9,17.9 L69.0,19.2 L70.0,20.6 L70.9,22.1 L71.7,23.6 L72.3,25.2M8.2,13.4 L9.7,13.5 L11.2,13.5 L12.7,13.3 L14.3,13.1 L15.7,12.7M35.7,35.3 L35.1,37.4 L34.4,39.6M65.3,42.2 L66.8,42.9 L68.3,43.6 L69.8,44.3M72.2,39.0 L72.2,40.7 L72.3,42.4 L72.5,44.1M59.6,2.2 L58.2,2.7 L56.8,3.3 L55.5,4.0 L54.2,4.8 L53.0,5.7M50.0,56.2 L48.8,57.5 L47.5,58.7 L46.0,59.7 L44.4,60.5 L42.8,61.2M66.9,51.6 L65.7,53.2 L64.6,54.9M2.3,18.5 L3.3,19.8 L4.2,21.2 L5.0,22.7 L5.6,24.3 L6.1,25.9M33.3,47.3 L31.8,47.7 L30.3,48.3 L28.8,49.1 L27.5,50.0M61.1,11.9 L59.4,12.3 L57.7,12.6 L56.0,12.8 L54.4,13.0 L52.6,13.2M72.3,77.0 L73.3,78.4 L74.5,79.8 L75.8,81.0 L77.2,82.0M2.3,30.0 L1.6,31.8 L0.7,33.5 L-0.3,35.1M5.6,10.7 L5.5,12.4 L5.3,14.1 L5.0,15.7 L4.5,17.3M46.6,58.4 L46.8,60.0 L47.1,61.7 L47.4,63.3 L47.7,65.0 L48.0,66.6M36.5,60.0 L37.0,61.6 L37.6,63.2 L38.4,64.7 L39.4,66.1M55.9,5.1 L55.0,6.4 L54.0,7.7 L53.1,8.9 L52.1,10.2 L51.1,11.4" stroke="#1e1e1e" stroke-width="1.65" stroke-opacity="0.9"/>
<path d="M35.3,73.0 L33.7,73.4 L32.1,73.5 L30.5,73.6 L28.9,73.4M19.8,72.1 L18.4,73.1 L17.0,74.1 L15.6,75.0 L14.0,75.7 L12.5,76.4M57.7,67.3 L55.7,67.9 L53.7,68.5M18.0,70.1 L18.3,71.6 L18.8,73.0 L19.4,74.4 L20.1,75.7M65.5,65.9 L66.5,67.2 L67.6,68.5 L68.7,69.8 L69.9,71.0M36.0,61.6 L37.6,62.3 L39.3,62.7 L41.1,63.0 L42.8,63.1 L44.6,63.0M18.2,40.2 L18.2,41.8 L18.2,43.5 L18.0,45.2 L17.8,46.8M42.2,14.2 L41.7,15.7 L41.3,17.3 L41.0,18.9 L40.8,20.4 L40.6,22.0M58.8,13.8 L58.9,15.6 L59.0,17.3 L59.2,19.0 L59.4,20.7 L59.7,22.4M11.8,37.3 L10.4,37.7 L8.9,38.3 L7.6,38.9 L6.2,39.6 L4.9,40.4M3.1,26.6 L2.0,28.2 L0.9,29.7 L-0.3,31.2M49.1,35.7 L50.0,37.2 L50.9,38.6 L51.8,40.1 L52.8,41.5M61.5,63.2 L63.3,63.3 L65.2,63.3 L67.0,63.2M48.3,47.3 L47.7,49.0 L47.0,50.7 L46.1,52.3M39.7,27.4 L39.0,28.8 L38.2,30.2 L37.2,31.5M40.6,66.5 L40.3,68.3 L39.9,70.0 L39.3,71.6 L38.6,73.2M63.2,47.2 L62.1,48.3 L60.9,49.3 L59.6,50.1 L58.3,50.8 L56.9,51.4M25.0,77.9 L26.5,78.7 L28.0,79.5 L29.5,80.2 L31.0,80.9 L32.5,81.7M56.7,60.8 L55.6,62.1 L54.4,63.2 L53.0,64.2 L51.6,65.1 L50.0,65.8M36.8,5.3 L36.2,6.9 L35.8,8.5 L35.4,10.2 L35.1,11.9M21.0,30.4 L21.2,32.2 L21.3,34.0 L21.2,35.8 L21.0,37.6 L20.7,39.3M51.0,56.4 L52.4,57.6 L53.9,58.8 L55.3,60.0M1.0,30.8 L2.8,31.5 L4.5,32.1 L6.2,32.8M72.0,15.0 L71.2,17.0 L70.5,19.2M32.5,44.1 L34.6,44.1 L36.7,43.9M50.6,6.0 L50.6,7.5 L50.6,9.0 L50.9,10.5 L51.2,11.9M66.0,1.2 L67.5,2.2 L69.0,3.2 L70.5,4.2M6.5,10.6 L7.8,11.3 L9.1,12.1 L10.4,13.0 L11.6,13.9 L12.8,14.9" stroke="#505050" stroke-width="1.4" stroke-opacity="0.81"/>
<path d="M45.3,7.5 L45.2,9.2 L45.2,11.0 L45.3,12.8 L45.5,14.6M43.8,51.5 L43.8,53.4 L43.8,55.3 L43.8,57.2M42.6,3.7 L41.8,5.3 L40.9,6.8 L40.0,8.2 L39.0,9.7M78.1,53.6 L78.5,55.3 L78.9,57.0 L79.3,58.6 L79.7,60.3M58.4,42.9 L58.7,44.7 L58.9,46.4 L59.0,48.2 L59.0,50.0 L58.8,51.7M2.1,57.9 L2.4,59.5 L2.7,61.1 L2.9,62.7 L3.1,64.3M80.5,58.4 L79.7,59.9 L78.9,61.4 L78.1,62.8 L77.2,64.3M7.2,26.5 L6.5,27.8 L5.7,29.1 L4.7,30.2 L3.7,31.3 L2.5,32.3M74.9,55.0 L76.4,55.5 L77.8,55.9 L79.4,56.1 L80.9,56.2 L82.5,56.2M11.7,7.3 L11.3,9.4 L10.9,11.5M62.0,23.5 L63.2,24.3 L64.5,25.1 L65.7,25.9 L67.1,26.7M56.6,15.9 L58.3,16.1 L60.0,16.3 L61.6,16.6 L63.3,17.0M67.6,18.7 L66.4,20.0 L65.3,21.2 L64.3,22.5 L63.2,23.8M51.7,44.2 L52.7,45.4 L53.6,46.7 L54.5,48.1 L55.2,49.5 L55.8,51.0" stroke="#8a8a8a" stroke-width="1.4" stroke-opacity="0.7200000000000001"/>
</g></g>
<clipPath id="c29"><rect x="258.56" y="452.00" width="80.22" height="81.40"/></clipPath>
<g clip-path="url(#c29)">
<rect x="258.56" y="452.00" width="80.22" height="81.40" fill="#e0e0e0" filter="url(#nz)"/>
<g transform="translate(258.56,452.00)" fill="none" stroke-linecap="round" stroke-linejoin="round" filter="url(#bl)">
<path d="M74.6,58.6 L73.4,59.8 L72.1,60.9 L70.7,61.8 L69.3,62.7 L67.8,63.5M56.9,31.3 L55.2,31.7 L53.5,32.1 L51.8,32.5 L50.1,33.0M21.6,57.1 L21.4,58.8 L21.2,60.5 L21.1,62.3M34.0,10.2 L34.3,11.7 L34.6,13.3 L34.9,14.8 L35.1,16.4 L35.2,18.0M34.0,61.1 L32.5,61.8 L31.0,62.5 L29.5,63.1 L28.0,63.8 L26.5,64.4M25.2,71.1 L23.4,71.5 L21.7,72.0 L19.9,72.5 L18.1,73.0M0.5,40.7 L1.4,42.0 L2.4,43.3 L3.4,44.5 L4.4,45.8 L5.5,47.0 L6.6,48.1M47.3,2.1 L46.5,3.5 L45.6,4.9 L44.5,6.1 L43.3,7.2 L42.0,8.2 L40.6,9.0M9.1,38.4 L10.7,38.7 L12.3,38.9 L13.8,38.9 L15.4,38.9 L17.0,38.7M82.2,28.6 L80.8,29.3 L79.4,30.0 L78.0,30.7 L76.6,31.3 L75.3,32.0 L73.9,32.7M62.3,35.1 L60.7,35.4 L59.2,35.8 L57.7,36.3 L56.2,36.9 L54.8,37.7M67.7,-2.4 L66.8,-0.9 L65.8,0.5 L64.8,2.0 L63.7,3.4 L62.6,4.8M47.7,74.5 L46.2,75.0 L44.8,75.4 L43.3,75.8 L41.8,76.3 L40.4,76.7 L38.9,77.2M12.9,59.3 L13.7,60.7 L14.3,62.1 L14.8,63.5 L15.1,65.0 L15.3,66.6M78.1,-2.6 L78.4,-1.0 L78.8,0.6 L79.4,2.0 L80.2,3.4 L81.2,4.7M37.5,64.9 L37.6,66.6 L37.5,68.2 L37.3,69.8 L37.0,71.4 L36.6,73.0 L36.0,74.5M57.9,45.0 L56.4,45.9 L55.1,46.9 L53.8,48.1M59.3,3.0 L58.4,4.5 L57.6,6.0 L56.9,7.5 L56.3,9.1 L55.7,10.7M37.8,6.1 L35.9,6.6 L34.0,7.2 L32.1,7.8M44.2,2.1 L45.8,2.6 L47.4,3.0 L49.0,3.3 L50.6,3.5 L52.2,3.6M59.1,51.3 L57.3,51.4 L55.4,51.4 L53.6,51.4 L51.8,51.5M12.3,73.6 L10.8,73.9 L9.3,74.3 L7.8,74.6 L6.3,74.9 L4.7,75.3 L3.2,75.6M28.2,1.2 L27.3,2.5 L26.5,3.9 L25.8,5.3 L25.3,6.8 L24.9,8.4M34.5,66.0 L33.7,67.4 L32.8,68.8 L31.8,70.0 L30.7,71.2 L29.5,72.3M14.7,31.9 L14.5,33.4 L14.2,34.9 L14.1,36.4 L13.9,37.9M65.7,70.1 L67.3,70.8 L68.9,71.4 L70.5,71.9 L72.1,72.4 L73.7,72.7M46.5,6.8 L45.8,8.3 L45.3,9.8 L45.0,11.4 L44.7,13.0M29.9,67.3 L31.6,67.9 L33.3,68.3 L35.0,68.5 L36.8,68.5 L38.5,68.4M13.8,14.4 L13.1,15.8 L12.5,17.2 L11.9,18.7 L11.4,20.2M62.4,16.1 L61.0,17.2 L59.7,18.5 L58.5,19.8 L57.3,21.2M56.4,25.7 L55.0,26.7 L53.5,27.7 L52.0,28.5 L50.3,29.1M48.3,3.0 L47.7,4.5 L46.9,6.0 L46.0,7.5 L45.0,8.8 L43.9,10.0" stroke="#1e1e1e" stroke-width="1.65" stroke-opacity="0.9"/>
<path d="M16.3,20.6 L17.9,21.0 L19.5,21.3 L21.1,21.6 L22.7,21.9 L24.3,22.2M50.2,67.8 L49.3,69.2 L48.5,70.5 L47.7,71.9 L46.9,73.3M75.8,22.0 L74.7,23.1 L73.7,24.2 L72.7,25.4 L71.8,26.6M74.0,66.7 L75.4,67.3 L76.7,68.0 L78.0,68.8 L79.2,69.8 L80.2,70.8 L81.2,72.0M59.1,52.4 L60.2,53.5 L61.4,54.6 L62.8,55.5 L64.2,56.2M10.5,20.6 L12.2,21.6 L13.7,22.8 L15.1,24.2M2.8,33.9 L2.7,35.4 L2.5,37.0 L2.1,38.5 L1.6,40.1M32.6,13.6 L33.3,15.3 L34.0,16.9 L34.8,18.4 L35.7,20.0 L36.6,21.5M12.5,39.5 L12.1,41.3 L11.7,43.1 L11.4,45.0 L11.2,46.8M47.2,45.2 L48.4,46.3 L49.5,47.4 L50.7,48.5 L51.9,49.5 L53.1,50.5M13.9,15.4 L15.3,16.0 L16.8,16.5 L18.4,16.7 L19.9,16.8 L21.5,16.7M75.2,34.8 L73.6,35.3 L72.1,36.0 L70.7,36.7 L69.2,37.5 L67.9,38.4 L66.6,39.4M51.6,25.5 L49.9,25.9 L48.3,26.2 L46.6,26.4 L44.9,26.4 L43.2,26.4M56.0,52.7 L57.4,53.4 L58.7,54.2 L60.0,55.0 L61.2,55.9M42.6,8.2 L42.0,9.6 L41.4,11.0 L40.9,12.4 L40.3,13.8 L39.8,15.2M72.5,74.1 L74.0,74.7 L75.4,75.3 L76.8,76.0 L78.3,76.6 L79.7,77.3M29.1,15.4 L28.1,16.6 L27.1,18.0 L26.3,19.3 L25.6,20.8M37.7,33.2 L38.6,34.5 L39.5,35.7 L40.5,36.8 L41.6,37.9 L42.7,38.9M54.6,22.1 L54.2,23.9 L53.6,25.6 L52.9,27.4M19.4,42.8 L21.1,43.0 L22.8,43.3 L24.5,43.7 L26.1,44.2 L27.7,44.8M10.1,51.5 L9.3,53.0 L8.5,54.6 L7.7,56.1 L7.0,57.7 L6.4,59.4M9.9,44.0 L8.6,45.1 L7.3,46.0 L5.9,46.9 L4.5,47.7 L3.0,48.4M71.4,40.4 L71.6,42.0 L72.0,43.5 L72.6,45.0 L73.3,46.4M26.1,57.0 L27.6,57.1 L29.2,57.2 L30.7,57.3 L32.3,57.3M23.4,63.1 L21.9,63.6 L20.5,64.2 L19.0,64.8 L17.6,65.4 L16.2,66.0M23.7,56.2 L25.3,56.7 L26.9,57.3 L28.6,57.8 L30.2,58.4 L31.9,58.9M27.5,74.3 L26.4,75.4 L25.5,76.6 L24.6,77.9 L24.0,79.3M50.1,55.7 L49.9,57.4 L49.8,59.1 L49.6,60.8 L49.6,62.5M33.4,33.1 L32.6,34.8 L31.7,36.5 L30.7,38.0 L29.5,39.5M8.0,14.5 L9.4,15.4 L10.8,16.5 L12.0,17.7 L13.1,19.0M24.5,42.2 L24.9,43.7 L25.2,45.2 L25.3,46.7 L25.4,48.2" stroke="#505050" stroke-width="1.4" stroke-opacity="0.81"/>
<path d="M79.0,23.2 L78.0,24.5 L77.0,25.8 L76.2,27.2 L75.5,28.7 L74.9,30.2 L74.4,31.7M38.4,36.4 L39.6,37.7 L40.9,39.0 L42.3,40.1M26.2,70.3 L24.6,70.8 L23.0,71.4 L21.5,72.0 L20.0,72.8 L18.6,73.7M34.2,63.3 L35.8,64.0 L37.5,64.4 L39.2,64.7M36.7,30.6 L36.7,32.1 L36.8,33.6 L37.1,35.1 L37.6,36.5 L38.2,37.9M11.9,38.5 L11.8,40.1 L11.6,41.8 L11.4,43.5 L11.2,45.1 L10.8,46.8M50.4,23.5 L51.5,24.6 L52.5,25.7 L53.6,26.8 L54.6,28.0M5.5,20.1 L5.7,21.6 L5.8,23.2 L6.0,24.7 L6.1,26.3 L6.3,27.9M55.4,47.8 L54.8,49.2 L54.1,50.7 L53.3,52.1 L52.5,53.5 L51.6,54.8M36.5,64.5 L35.3,65.5 L33.9,66.5 L32.6,67.3 L31.2,68.1 L29.7,68.8 L28.2,69.4M72.9,65.2 L72.2,66.7 L71.5,68.2 L70.9,69.7 L70.4,71.3 L70.0,72.9M11.1,41.3 L10.1,42.6 L9.1,43.8 L7.9,44.9 L6.6,45.8 L5.2,46.5 L3.7,47.1M66.3,20.4 L65.9,21.9 L65.5,23.4 L65.1,24.9 L64.7,26.4M66.7,7.1 L65.4,8.0 L63.9,8.8 L62.4,9.5 L60.8,10.0M8.5,54.6 L10.0,55.4 L11.6,56.4 L13.0,57.5 L14.4,58.6 L15.7,59.9" stroke="#8a8a8a" stroke-width="1.4" stroke-opacity="0.7200000000000001"/>
</g></g>
<clipPath id="c30"><rect x="338.78" y="452.00" width="80.22" height="81.40"/></clipPath>
<g clip-path="url(#c30)">
<rect x="338.78" y="452.00" width="80.22" height="81.40" fill="#e0e0e0" filter="url(#nz)"/>
<g transform="translate(338.78,452.00)" fill="none" stroke-linecap="round" stroke-linejoin="round" filter="url(#bl)">
<path d="M40.8,17.5 L40.9,19.2 L40.9,20.9 L40.7,22.6M31.4,34.3 L29.7,34.4 L28.0,34.2 L26.3,34.0M73.9,50.6 L75.6,50.8 L77.4,51.1 L79.2,51.5 L80.9,52.0 L82.6,52.6M4.2,45.6 L3.0,46.9 L1.9,48.2 L1.0,49.7M31.9,73.0 L31.6,74.5 L31.4,76.1 L31.4,77.6 L31.5,79.2 L31.7,80.8M69.9,74.4 L68.8,75.7 L67.7,77.1 L66.8,78.6 L66.0,80.2 L65.4,81.9M12.0,39.9 L12.8,41.2 L13.7,42.4 L14.7,43.5 L15.9,44.5 L17.2,45.3M22.5,18.8 L23.2,20.3 L23.8,21.9 L24.2,23.5 L24.6,25.1 L24.9,26.7M40.2,52.2 L41.7,52.0 L43.3,51.7 L44.7,51.2 L46.1,50.6M14.7,57.0 L14.4,58.8 L13.8,60.5 L13.2,62.2M56.5,21.0 L55.9,22.4 L55.1,23.8 L54.4,25.2 L53.6,26.5M30.4,62.2 L29.3,63.9 L28.5,65.6 L27.9,67.4M46.0,12.9 L44.6,13.8 L43.0,14.5 L41.4,15.0 L39.7,15.3 L38.0,15.4M42.9,25.8 L41.9,27.1 L41.0,28.4 L40.4,29.9 L39.9,31.4 L39.6,33.0 L39.5,34.6M57.0,28.1 L55.7,29.2 L54.5,30.3 L53.2,31.3 L51.9,32.4M15.5,30.7 L14.1,31.7 L12.6,32.6 L11.1,33.5 L9.6,34.3 L8.0,35.0 L6.4,35.7M75.0,64.5 L75.9,65.7 L76.9,66.8 L77.8,68.0 L78.7,69.2 L79.6,70.4M46.8,35.2 L47.9,36.4 L48.9,37.6 L49.9,38.9 L50.8,40.3 L51.6,41.7M68.3,10.8 L68.7,12.4 L69.3,14.0 L69.9,15.6 L70.8,17.1 L71.7,18.5M21.7,3.0 L22.4,4.6 L23.0,6.1 L23.6,7.8 L24.1,9.4 L24.6,11.0M36.2,33.2 L38.0,33.8 L39.9,34.2 L41.8,34.5M49.2,18.8 L47.7,18.8 L46.1,18.6 L44.6,18.3 L43.2,17.8 L41.8,17.1 L40.4,16.3 L39.2,15.4M30.5,31.5 L31.6,32.5 L32.7,33.5 L34.0,34.3 L35.4,35.0 L36.8,35.5 L38.3,35.9M41.5,77.0 L39.8,77.4 L38.1,77.7 L36.3,78.0M23.6,70.7 L25.2,70.7 L26.8,70.7 L28.5,70.6 L30.1,70.6 L31.7,70.5 L33.3,70.3M21.7,15.4 L22.5,16.7 L23.2,18.1 L24.0,19.5 L24.7,20.9 L25.3,22.3M5.6,52.0 L6.9,52.8 L8.3,53.6 L9.7,54.4 L11.0,55.3 L12.3,56.1 L13.7,57.0M55.5,12.2 L56.4,13.5 L57.2,14.8 L58.0,16.2 L58.7,17.5 L59.4,19.0 L59.9,20.4 L60.5,21.9M-0.2,30.7 L0.3,32.2 L1.0,33.8 L1.7,35.3 L2.4,36.8 L3.2,38.3M33.8,11.9 L32.5,12.9 L31.3,14.0 L30.0,15.1 L28.8,16.2 L27.6,17.4 L26.5,18.5M7.2,48.6 L7.0,50.1 L7.0,51.7 L7.0,53.2 L7.1,54.7 L7.4,56.2 L7.7,57.7M66.7,1.0 L66.3,2.5 L66.0,4.1 L65.7,5.7 L65.6,7.4M81.1,68.2 L79.6,68.8 L78.1,69.4 L76.7,70.1 L75.2,71.0 L73.9,71.9M60.1,69.2 L59.8,71.0 L59.5,72.7 L59.1,74.5 L58.7,76.2 L58.3,77.9" stroke="#1e1e1e" stroke-width="1.65" stroke-opacity="0.9"/>
<path d="M50.6,5.6 L49.3,6.7 L48.0,7.8 L46.6,8.7 L45.1,9.6 L43.7,10.5 L42.1,11.2M14.4,41.7 L16.1,42.2 L17.8,42.8 L19.5,43.4M4.2,36.0 L5.9,36.0 L7.5,35.9 L9.2,35.7 L10.8,35.5 L12.4,35.3M17.6,29.2 L18.8,30.2 L19.9,31.2 L21.0,32.3 L22.1,33.4M8.4,13.0 L10.2,13.2 L12.0,13.5 L13.7,13.9 L15.4,14.4 L17.1,15.1M24.6,5.7 L24.0,7.3 L23.3,8.7 L22.4,10.1 L21.3,11.3 L20.2,12.5M35.6,21.2 L35.1,22.6 L34.7,24.1 L34.5,25.7 L34.4,27.2 L34.4,28.7M11.1,7.9 L9.6,8.6 L8.2,9.3 L6.7,9.8 L5.2,10.3 L3.7,10.8 L2.1,11.2M74.3,66.6 L75.5,67.9 L76.6,69.2 L77.7,70.7 L78.6,72.1 L79.5,73.6 L80.3,75.2M18.5,5.3 L16.8,5.2 L15.2,5.0 L13.5,4.5 L11.9,3.8 L10.5,3.0M15.2,40.7 L13.3,41.2 L11.6,42.0 L9.9,42.9M27.5,22.8 L29.0,22.6 L30.5,22.4 L31.9,22.0 L33.3,21.4 L34.7,20.7 L35.9,19.9 L37.1,18.9M56.2,33.8 L57.6,34.4 L59.0,35.0 L60.5,35.5 L62.0,35.9M13.6,34.2 L13.0,35.6 L12.4,37.0 L11.7,38.4 L11.1,39.9M38.6,44.2 L38.0,45.7 L37.6,47.2 L37.3,48.8 L37.3,50.4 L37.4,51.9M12.0,50.8 L13.1,52.1 L14.2,53.4 L15.3,54.7 L16.4,56.0 L17.5,57.4M11.8,-4.0 L12.0,-2.4 L12.3,-0.7 L12.7,0.9 L13.2,2.6 L13.7,4.1 L14.4,5.7M18.6,68.3 L19.4,69.9 L20.1,71.5 L20.7,73.2 L21.2,75.0M54.7,67.8 L56.3,68.3 L58.0,68.7 L59.7,69.0 L61.4,69.2 L63.1,69.3 L64.8,69.3M46.3,11.2 L45.7,12.7 L45.3,14.3 L45.1,15.9 L45.0,17.5 L45.0,19.1M47.5,29.0 L48.8,29.8 L50.2,30.5 L51.5,31.2 L53.0,31.8 L54.4,32.3 L55.9,32.7M35.7,65.9 L34.5,67.1 L33.2,68.2 L31.9,69.2 L30.4,70.1 L28.9,70.9 L27.3,71.6M69.9,11.8 L68.2,12.4 L66.6,13.1 L65.0,13.9 L63.4,14.8 L62.0,15.8M34.1,47.7 L33.7,49.2 L33.2,50.6 L32.6,52.0 L31.9,53.4 L31.0,54.7M25.8,22.7 L24.3,24.0 L22.7,25.2 L21.0,26.2M69.6,22.9 L68.3,23.8 L67.1,24.7 L65.8,25.7 L64.6,26.6 L63.4,27.6 L62.1,28.6M22.6,7.3 L22.4,9.0 L22.5,10.7 L22.7,12.4 L23.1,14.1 L23.7,15.7 L24.5,17.3M56.2,6.7 L55.4,8.0 L54.6,9.4 L53.7,10.7 L52.9,12.0 L52.0,13.3 L51.2,14.6M20.7,8.1 L21.4,9.6 L22.2,11.2 L22.8,12.7 L23.4,14.3 L23.9,16.0 L24.3,17.6M29.2,27.5 L27.7,28.1 L26.1,28.5 L24.5,28.7 L22.8,28.8 L21.2,28.7M30.3,16.7 L28.8,17.5 L27.2,18.2 L25.5,18.7 L23.8,19.1 L22.1,19.3M10.8,2.2 L9.5,3.1 L8.3,4.1 L7.2,5.1 L6.1,6.2M27.2,48.2 L25.6,48.8 L23.9,49.3 L22.2,49.6 L20.5,49.8 L18.8,49.8M56.9,46.5 L57.2,48.0 L57.4,49.6 L57.5,51.2 L57.6,52.8 L57.7,54.4" stroke="#505050" stroke-width="1.4" stroke-opacity="0.81"/>
<path d="M18.5,72.0 L19.6,73.4 L20.6,74.9 L21.6,76.3M75.7,44.9 L74.8,46.1 L73.8,47.3 L72.8,48.3 L71.6,49.3 L70.3,50.2M16.6,42.8 L15.7,44.0 L14.8,45.3 L14.1,46.6 L13.4,47.9 L12.8,49.3M11.8,58.8 L12.8,59.9 L13.7,61.2 L14.5,62.4 L15.3,63.8 L16.1,65.1 L16.7,66.5M73.2,50.8 L73.0,52.4 L72.8,54.0 L72.8,55.7 L72.8,57.3 L72.9,58.9 L73.0,60.5M83.4,24.4 L82.0,24.9 L80.5,25.2 L79.0,25.4 L77.5,25.4 L76.0,25.4 L74.5,25.2 L73.1,24.9M69.1,17.2 L70.6,17.6 L72.1,17.8 L73.7,17.9 L75.2,17.9 L76.8,17.7M72.2,-2.6 L71.9,-0.9 L71.3,0.8 L70.6,2.4 L69.8,3.9 L68.7,5.4M71.1,26.8 L71.2,28.4 L71.4,29.9 L71.8,31.4 L72.3,32.9M18.5,14.5 L18.3,16.2 L18.0,17.9 L17.5,19.7M77.1,25.1 L75.4,25.5 L73.8,26.0 L72.3,26.7 L70.8,27.5 L69.4,28.5 L68.1,29.5M2.3,58.0 L3.9,58.3 L5.4,58.5 L7.0,58.5 L8.6,58.3 L10.1,58.0 L11.6,57.5M77.2,69.1 L77.9,70.7 L78.5,72.3 L79.0,74.0 L79.4,75.6M65.0,57.2 L64.9,58.9 L64.8,60.7 L64.7,62.4 L64.6,64.2M10.4,66.8 L11.9,67.4 L13.5,68.1 L15.0,68.7 L16.5,69.3 L18.1,69.9 L19.6,70.4M69.0,31.9 L70.5,32.5 L72.0,33.3 L73.4,34.1 L74.8,35.0 L76.1,36.0 L77.3,37.0M25.1,28.9 L26.6,29.6 L28.0,30.5 L29.3,31.5 L30.5,32.7 L31.6,34.0 L32.5,35.3" stroke="#8a8a8a" stroke-width="1.4" stroke-opacity="0.7200000000000001"/>
</g></g>
<rect x="18.70" y="452.80" width="399.50" height="79.80" fill="none" stroke="#000" stroke-width="1.6"/>
<line x1="98.12" y1="453.50" x2="98.12" y2="531.90" stroke="#505050" stroke-width="0.9"/>
<line x1="178.34" y1="453.50" x2="178.34" y2="531.90" stroke="#505050" stroke-width="0.9"/>
<line x1="258.56" y1="453.50" x2="258.56" y2="531.90" stroke="#505050" stroke-width="0.9"/>
<line x1="338.78" y1="453.50" x2="338.78" y2="531.90" stroke="#505050" stroke-width="0.9"/>
<clipPath id="c31"><rect x="17.90" y="535.10" width="80.22" height="81.40"/></clipPath>
<g clip-path="url(#c31)">
<rect x="17.90" y="535.10" width="80.22" height="81.40" fill="#e0e0e0" filter="url(#nz)"/>
<g transform="translate(17.90,535.10)" fill="none" stroke-linecap="round" stroke-linejoin="round" filter="url(#bl)">
<path d="M8.9,37.1 L10.7,38.4M69.0,64.1 L70.5,65.3 L71.9,66.5M76.9,44.6 L77.6,45.9M49.4,18.2 L47.9,18.8 L46.4,19.5M41.7,4.4 L40.5,6.3M5.2,53.5 L5.0,55.4 L4.6,57.2M47.2,29.0 L49.0,30.8M68.6,44.0 L70.1,44.4M71.2,58.5 L71.1,60.1 L70.8,61.8M44.4,32.8 L42.9,33.3 L41.4,34.0M31.3,70.4 L30.5,71.2M28.6,9.3 L27.4,10.7 L26.3,12.1" stroke="#333" stroke-width="1.55" stroke-opacity="0.8"/>
<path d="M33.4,36.2 L32.7,37.1M49.7,14.9 L47.7,15.0 L45.7,15.0M42.7,52.5 L40.5,53.4M38.7,4.3 L39.4,5.2M56.6,26.8 L58.2,27.4 L59.7,28.2M61.2,9.0 L61.9,10.5M47.4,10.4 L46.3,11.4M20.4,33.0 L21.9,33.8 L23.4,34.4M4.5,39.4 L2.7,40.2 L0.9,40.9M17.7,46.8 L16.3,48.6M71.7,24.4 L70.8,25.5M71.4,20.1 L72.3,20.9" stroke="#505050" stroke-width="1.3" stroke-opacity="0.7200000000000001"/>
<path d="M49.1,0.4 L51.0,1.4M8.8,28.8 L10.7,29.3M29.5,35.2 L29.6,36.7M0.8,39.4 L2.2,40.7 L3.6,42.0M18.6,43.9 L20.3,45.1M36.5,29.6 L37.5,30.8 L38.7,32.0" stroke="#8a8a8a" stroke-width="1.3" stroke-opacity="0.6400000000000001"/>
</g></g>
<clipPath id="c32"><rect x="98.12" y="535.10" width="80.22" height="81.40"/></clipPath>
<g clip-path="url(#c32)">
<rect x="98.12" y="535.10" width="80.22" height="81.40" fill="#dedede" filter="url(#nz)"/>
<g transform="translate(98.12,535.10)" fill="none" stroke-linecap="round" stroke-linejoin="round" filter="url(#bl)">
<path d="M41.1,13.7 L42.6,15.1 L44.1,16.6M39.2,77.0 L37.7,77.4 L36.2,77.9 L34.8,78.6 L33.4,79.5 L32.2,80.4M4.0,72.0 L2.7,73.2 L1.4,74.5M61.2,17.6 L60.2,18.7 L59.2,19.9 L58.3,21.1 L57.4,22.3 L56.5,23.6M34.5,67.5 L33.0,67.8 L31.4,68.2M68.0,5.5 L70.0,5.6 L72.1,5.5M8.1,44.3 L6.5,44.5 L4.8,44.6 L3.2,44.7 L1.5,44.7M63.0,-0.9 L62.3,0.5 L61.7,2.0 L61.1,3.6M26.3,50.7 L26.8,52.4 L27.4,54.0 L28.2,55.6 L29.1,57.1M74.1,12.8 L73.4,14.2 L72.6,15.6M56.9,36.4 L58.7,36.3 L60.4,35.9 L62.1,35.4M25.0,19.8 L25.9,21.1 L26.7,22.3 L27.4,23.7M20.1,24.0 L18.7,24.8 L17.4,25.6M66.1,57.4 L65.4,58.8 L64.7,60.2 L64.0,61.6 L63.3,63.1 L62.6,64.5M63.9,12.1 L63.3,14.0 L63.0,15.9 L62.8,17.9M70.3,9.8 L68.7,10.0 L67.1,10.1 L65.5,10.0 L64.0,9.8 L62.4,9.4M26.9,5.0 L25.4,6.0 L23.9,7.1M36.1,32.5 L34.7,33.6 L33.3,34.7M44.3,21.0 L42.7,21.8 L41.1,22.5 L39.4,23.0 L37.6,23.4M48.9,6.5 L48.9,8.3 L49.0,10.1 L49.2,11.9 L49.6,13.7M65.5,56.8 L67.4,57.1 L69.3,57.2M79.1,72.2 L77.5,72.5 L75.8,72.7 L74.2,73.1M62.8,34.4 L61.4,34.9 L59.9,35.4 L58.5,35.9 L57.0,36.3M22.3,2.3 L20.7,3.2 L19.0,4.1M36.2,20.6 L36.6,22.3 L37.1,23.9 L37.6,25.5M57.1,2.1 L56.7,3.6 L56.3,5.2 L56.1,6.7 L55.9,8.3 L55.8,9.9M78.6,66.9 L76.9,68.1 L75.1,69.1M18.6,62.3 L17.0,63.1 L15.5,64.1 L14.1,65.1 L12.7,66.3M67.3,48.5 L68.3,49.7 L69.4,50.8 L70.5,51.9 L71.7,52.9M17.4,24.4 L18.3,25.9 L19.3,27.4 L20.3,28.8M62.2,63.3 L62.7,65.1 L63.1,66.8 L63.5,68.5M24.1,24.8 L23.0,25.9 L22.0,27.1 L21.1,28.3 L20.3,29.6M33.9,4.4 L32.1,5.1 L30.1,5.8M6.0,3.3 L6.7,4.8 L7.4,6.3" stroke="#1e1e1e" stroke-width="1.6" stroke-opacity="0.9"/>
<path d="M30.4,57.8 L31.9,58.0 L33.4,58.2 L34.9,58.4 L36.3,58.7 L37.8,59.1M72.5,56.7 L74.0,56.7 L75.6,56.8 L77.1,56.8 L78.7,56.8 L80.2,56.8M39.4,73.4 L40.9,73.4 L42.5,73.3 L44.0,73.1 L45.5,72.8 L47.0,72.4M2.9,49.1 L4.2,50.0 L5.5,50.9 L6.8,51.8M19.2,39.7 L21.1,39.8 L23.0,40.0 L24.8,40.3M55.6,67.0 L54.2,67.7 L52.7,68.4 L51.2,69.0M67.7,20.2 L69.2,20.3 L70.7,20.2M70.5,38.7 L69.0,39.4 L67.5,40.1 L66.0,40.7M13.2,68.9 L13.6,70.4 L14.1,71.9 L14.7,73.3 L15.4,74.7M22.6,18.9 L23.8,19.9 L25.0,20.9 L26.2,21.8 L27.4,22.8 L28.6,23.7M47.7,61.6 L48.6,62.9 L49.6,64.2M33.0,47.7 L32.1,49.4 L31.3,51.1 L30.7,52.9M30.3,25.0 L29.4,26.3 L28.5,27.5 L27.5,28.7 L26.4,29.9M19.7,42.8 L18.3,44.2 L17.1,45.7 L16.1,47.4M41.6,8.4 L42.4,9.8 L43.3,11.1M32.4,2.9 L33.4,4.1 L34.4,5.2 L35.4,6.3 L36.5,7.4 L37.6,8.4M28.8,78.9 L30.3,79.2 L31.8,79.4M16.6,47.7 L18.2,48.1 L19.7,48.5 L21.2,48.8M6.5,29.7 L7.5,31.0 L8.6,32.3 L9.8,33.4 L11.1,34.3M46.1,41.7 L48.1,42.2 L50.2,42.4M16.6,66.4 L15.4,68.2 L14.3,70.1M65.6,66.5 L65.8,68.7 L66.0,70.9M10.1,11.9 L11.2,13.0 L12.3,14.1M56.5,78.4 L54.9,78.4 L53.3,78.2 L51.7,77.9 L50.2,77.4M21.0,2.6 L19.5,3.5 L18.0,4.2 L16.4,4.9M79.2,71.9 L78.6,73.5 L77.8,75.1M70.4,39.0 L71.8,39.8 L73.3,40.5 L74.7,41.2 L76.2,41.8M21.2,7.7 L20.9,9.4 L20.8,11.2 L20.8,13.0M80.5,44.7 L79.3,45.7 L78.1,46.8 L77.1,48.0 L76.3,49.3 L75.5,50.7M46.1,63.7 L44.7,64.8 L43.4,65.8 L41.9,66.7 L40.4,67.6M28.5,21.8 L28.6,23.4 L28.9,24.9 L29.2,26.5 L29.6,28.0 L30.0,29.5M75.8,49.6 L77.5,49.6 L79.1,49.5M8.5,56.1 L8.7,58.0 L9.0,59.8 L9.4,61.7M34.1,10.4 L32.3,10.6 L30.5,10.6 L28.7,10.5 L26.9,10.2" stroke="#505050" stroke-width="1.35" stroke-opacity="0.81"/>
<path d="M28.9,70.6 L30.6,70.6 L32.2,70.4 L33.9,70.1M7.3,31.0 L6.3,32.8 L5.4,34.5M6.1,64.7 L7.9,65.3 L9.7,65.8 L11.5,66.3M62.9,8.5 L64.2,9.6 L65.4,10.7 L66.6,11.7 L67.9,12.8M10.9,35.3 L10.8,37.1 L10.9,39.0M26.9,61.1 L28.1,62.1 L29.3,63.0M74.6,18.2 L75.1,19.6 L75.8,21.0 L76.6,22.3 L77.5,23.5 L78.5,24.7M43.8,15.1 L42.4,16.1 L41.1,17.2 L39.9,18.5 L38.7,19.8M5.1,52.1 L5.8,54.1 L6.2,56.2M70.1,25.8 L70.0,27.3 L70.0,28.8 L70.2,30.3M46.5,17.7 L47.4,19.0 L48.4,20.4 L49.3,21.7M62.7,11.3 L63.4,13.0 L64.0,14.7 L64.4,16.4 L64.8,18.1M9.0,9.6 L11.0,10.2 L13.0,10.7M14.9,35.9 L15.4,37.7 L16.0,39.4M54.4,27.6 L55.0,29.0 L55.5,30.4 L55.9,31.9 L56.2,33.4 L56.5,34.8M37.8,49.4 L39.2,50.3 L40.6,51.1 L42.0,52.0M11.0,23.6 L12.3,24.3 L13.7,25.0 L15.0,25.8 L16.3,26.6 L17.6,27.4" stroke="#8a8a8a" stroke-width="1.35" stroke-opacity="0.7200000000000001"/>
</g></g>
<clipPath id="c33"><rect x="178.34" y="535.10" width="80.22" height="81.40"/></clipPath>
<g clip-path="url(#c33)">
<rect x="178.34" y="535.10" width="80.22" height="81.40" fill="#dcdcdc" filter="url(#nz)"/>
<g transform="translate(178.34,535.10)" fill="none" stroke-linecap="round" stroke-linejoin="round" filter="url(#bl)">
<path d="M13.9,73.2 L12.6,74.0 L11.3,74.8 L10.0,75.6 L8.7,76.4M38.9,25.4 L38.5,27.1 L38.3,28.9 L38.2,30.7 L38.4,32.5M47.1,4.9 L47.1,6.4 L47.0,7.9 L46.9,9.4 L46.6,10.9 L46.3,12.4M31.5,27.5 L31.5,29.2 L31.4,30.9 L31.2,32.6 L31.0,34.3M73.4,31.5 L74.7,32.7 L75.9,33.9 L77.1,35.2 L78.2,36.5 L79.3,37.8M16.6,33.0 L16.8,35.0 L17.0,37.0M24.6,13.2 L23.4,14.3 L22.2,15.5 L21.0,16.8 L19.9,18.1 L18.8,19.4M5.8,46.9 L6.4,48.3 L7.1,49.7 L7.7,51.1 L8.4,52.5 L9.0,53.9 L9.6,55.4M37.2,61.9 L35.6,62.1 L34.0,62.1 L32.5,62.0 L30.9,61.8M64.5,14.5 L64.6,16.6 L64.5,18.7M64.9,0.6 L66.3,1.5 L67.8,2.3 L69.4,3.1 L71.0,3.7 L72.7,4.2M42.5,32.8 L44.5,33.4 L46.6,33.9M68.6,41.3 L68.8,43.1 L69.0,44.9 L68.9,46.7M56.0,47.4 L54.9,48.6 L53.9,50.0 L53.1,51.4 L52.4,52.9 L51.9,54.5M52.6,9.1 L53.9,10.6 L55.2,12.0 L56.4,13.4M67.2,26.9 L65.7,27.4 L64.2,27.8 L62.6,28.1 L61.1,28.4 L59.5,28.5 L57.9,28.6M39.1,20.8 L40.2,22.0 L41.4,23.0 L42.8,23.9 L44.2,24.6 L45.7,25.2 L47.3,25.6M8.3,62.4 L7.6,64.0 L6.9,65.6 L6.3,67.2 L5.7,68.8M34.2,1.6 L35.6,2.4 L36.9,3.3 L38.1,4.4 L39.2,5.6 L40.2,6.8M19.3,40.8 L18.0,42.5 L16.6,44.2M28.1,67.6 L26.8,68.5 L25.5,69.4 L24.2,70.2 L22.7,70.9M12.3,34.6 L12.4,36.4 L12.3,38.1 L12.1,39.9 L11.8,41.6 L11.3,43.3M49.3,55.1 L50.5,56.0 L51.9,56.8 L53.3,57.4 L54.7,57.9 L56.2,58.2 L57.7,58.4M9.0,65.5 L8.7,67.0 L8.3,68.6 L7.7,70.1 L6.9,71.5 L6.0,72.9M35.8,1.2 L37.0,2.4 L38.2,3.6 L39.5,4.6 L40.9,5.6M2.4,17.8 L3.8,18.4 L5.2,18.9 L6.7,19.2M32.5,78.4 L34.3,78.4 L36.0,78.4 L37.8,78.3 L39.6,78.0M47.6,76.9 L45.9,77.5 L44.3,78.2 L42.7,79.0 L41.2,80.0M12.2,17.2 L10.9,18.5 L9.7,19.9 L8.6,21.4 L7.6,22.9M5.1,56.2 L6.7,56.4 L8.4,56.6 L10.1,56.8 L11.7,56.8 L13.4,56.8M68.8,64.3 L68.2,65.8 L67.6,67.2 L66.9,68.5 L66.1,69.9 L65.3,71.2M45.0,71.0 L46.6,71.5 L48.1,71.9 L49.6,72.4M28.8,8.4 L28.5,9.9 L28.1,11.3 L27.6,12.8 L26.9,14.1 L26.0,15.4M27.7,16.8 L27.0,18.2 L26.2,19.7 L25.3,21.0 L24.4,22.3 L23.4,23.6 L22.3,24.8M47.0,51.2 L45.5,52.1 L44.1,53.1 L42.8,54.3M17.3,39.5 L15.7,39.9 L14.2,40.3 L12.6,40.7 L11.1,41.2 L9.5,41.6M47.9,61.2 L46.2,61.6 L44.4,61.8 L42.6,61.9 L40.8,61.8 L39.1,61.6M78.0,33.4 L78.2,35.1 L78.4,36.8 L78.7,38.5 L79.0,40.2 L79.4,41.8M57.3,31.6 L55.6,32.7 L53.9,34.0M71.2,36.8 L72.7,37.2 L74.3,37.6 L75.8,37.9 L77.4,38.1 L79.0,38.3 L80.6,38.4M40.6,10.4 L39.2,11.2 L37.7,12.1 L36.3,12.9 L35.0,13.8 L33.6,14.7 L32.2,15.6M74.8,68.3 L73.2,69.3 L71.6,70.3 L69.9,71.3M59.1,51.5 L59.2,53.4 L59.5,55.3 L60.1,57.1M36.9,7.2 L36.9,8.8 L36.7,10.4 L36.5,11.9 L36.3,13.5 L35.9,15.0 L35.5,16.5" stroke="#1e1e1e" stroke-width="1.6" stroke-opacity="0.9"/>
<path d="M20.7,54.8 L21.4,56.1 L22.2,57.4 L23.2,58.6 L24.2,59.7 L25.3,60.7 L26.5,61.6M19.9,7.0 L18.7,8.2 L17.5,9.4 L16.2,10.5 L14.9,11.6 L13.6,12.6M-0.4,52.7 L1.2,52.7 L2.8,52.5 L4.4,52.3M32.0,11.1 L31.7,12.8 L31.6,14.6 L31.6,16.3 L31.8,18.0 L32.1,19.8M23.1,23.3 L24.3,24.5 L25.3,25.8 L26.2,27.1 L27.0,28.6 L27.6,30.1M29.7,56.6 L28.2,56.7 L26.6,56.6 L25.0,56.4M69.1,2.2 L70.6,2.8 L72.1,3.4 L73.5,4.1 L75.0,4.8 L76.4,5.4 L77.9,6.2M32.3,11.0 L30.6,11.1 L29.0,11.0 L27.4,11.0 L25.7,11.0 L24.1,10.9M67.2,45.1 L65.6,45.1 L64.1,45.0 L62.6,44.7 L61.1,44.3 L59.7,43.7 L58.3,43.0M48.1,41.2 L49.1,42.3 L50.1,43.4 L51.2,44.5 L52.2,45.6M25.0,70.3 L23.4,70.7 L21.8,70.9 L20.2,71.1 L18.5,71.2M57.4,56.7 L59.1,57.0 L60.8,57.1 L62.4,57.0M78.0,43.5 L76.5,43.8 L75.0,43.8 L73.4,43.7 L71.9,43.4 L70.4,42.9M23.3,48.0 L24.3,49.3 L25.5,50.4 L26.8,51.4 L28.2,52.3 L29.6,53.0 L31.2,53.5M29.7,23.0 L30.3,24.4 L30.8,25.9 L31.3,27.5 L31.7,29.0 L32.0,30.5M12.7,32.2 L12.0,33.7 L11.3,35.2 L10.5,36.6 L9.7,38.0 L8.7,39.3M63.7,36.2 L61.9,36.1 L60.2,35.8 L58.4,35.3 L56.8,34.6M9.3,40.6 L10.7,42.2 L12.0,43.9M33.4,9.4 L31.9,10.4 L30.3,11.4 L28.7,12.4 L27.1,13.3M11.0,45.2 L12.2,46.5 L13.3,47.7 L14.5,48.8M62.2,41.9 L60.5,42.5 L58.9,43.1 L57.2,43.6 L55.5,44.1M54.0,33.4 L52.4,33.5 L50.7,33.7 L49.0,33.7 L47.4,33.8 L45.7,33.8 L44.1,33.8M28.6,77.4 L30.2,77.9 L31.8,78.5 L33.3,79.2 L34.8,80.0M44.0,60.2 L44.7,61.6 L45.3,63.1 L45.9,64.6 L46.3,66.1 L46.7,67.7M20.0,73.1 L21.5,74.2 L23.0,75.4 L24.4,76.7M40.3,18.7 L40.2,20.3 L40.2,21.9 L40.4,23.5 L40.7,25.1 L41.1,26.6M21.3,55.4 L22.6,56.1 L24.1,56.6 L25.5,56.9M59.6,68.6 L59.3,70.2 L58.9,71.7 L58.6,73.3M11.0,38.5 L12.3,39.9 L13.6,41.2 L14.9,42.5M0.8,52.6 L0.9,54.4 L0.9,56.1 L0.7,57.8 L0.3,59.5M0.6,36.0 L0.8,37.6 L1.0,39.2 L1.2,40.8M34.4,31.3 L33.1,32.2 L31.8,33.1 L30.6,34.0 L29.4,35.0M26.8,0.9 L28.3,1.7 L29.9,2.4 L31.5,2.8 L33.1,3.1 L34.8,3.2M61.4,11.3 L63.0,11.5 L64.5,11.9 L66.1,12.4 L67.6,13.0 L69.0,13.7 L70.4,14.5M18.4,72.5 L19.7,73.3 L21.0,74.2 L22.2,75.1 L23.4,76.1 L24.5,77.1 L25.6,78.2M0.3,62.9 L1.9,63.7 L3.6,64.5 L5.2,65.2M15.5,71.5 L16.7,72.8 L17.8,74.1 L19.0,75.4 L20.2,76.6 L21.3,77.9M37.1,56.2 L35.8,57.2 L34.4,58.1 L33.1,59.1 L31.7,60.0 L30.4,61.0M11.9,60.9 L10.3,61.5 L8.7,62.0 L7.0,62.4 L5.3,62.8 L3.6,63.0M3.2,63.3 L4.1,64.7 L5.0,66.0 L6.0,67.4M68.8,0.7 L68.6,2.4 L68.5,4.1 L68.5,5.8 L68.5,7.5 L68.5,9.2M45.1,19.6 L46.6,20.4 L48.1,21.2 L49.6,21.9M23.5,57.1 L25.0,57.9 L26.6,58.8 L28.1,59.7 L29.6,60.6 L31.1,61.5M45.0,55.0 L43.4,55.3 L41.8,55.6 L40.2,56.0 L38.6,56.5 L37.0,57.0 L35.5,57.6" stroke="#505050" stroke-width="1.35" stroke-opacity="0.81"/>
<path d="M16.1,21.6 L15.3,23.1 L14.6,24.5 L13.7,25.8 L12.8,27.2 L11.8,28.5 L10.8,29.7M20.0,14.5 L18.4,14.7 L16.8,15.0 L15.2,15.3M80.2,51.5 L78.7,51.6 L77.2,51.6 L75.6,51.5 L74.1,51.3 L72.6,51.1 L71.1,50.7M21.2,1.3 L20.1,3.1 L18.9,4.8M15.5,13.3 L17.5,13.7 L19.5,14.0M56.8,40.5 L56.3,42.3 L55.9,44.0 L55.6,45.7 L55.3,47.5M77.6,77.2 L76.8,78.6 L76.0,79.9 L75.1,81.3 L74.2,82.7M12.5,22.0 L11.5,23.5 L10.5,25.1 L9.7,26.7M46.7,20.3 L44.8,20.5 L42.9,20.7 L41.0,21.0M62.1,64.7 L63.6,64.8 L65.1,64.8 L66.7,64.7 L68.2,64.6M30.7,69.8 L31.8,71.1 L32.9,72.3 L34.1,73.4 L35.3,74.4 L36.7,75.3M61.8,14.5 L63.1,15.8 L64.6,16.9 L66.1,17.8M55.4,57.8 L55.3,59.6 L55.1,61.3 L54.6,63.1 L54.0,64.8 L53.3,66.4M48.9,50.6 L48.1,51.9 L47.2,53.1 L46.3,54.3 L45.4,55.4 L44.3,56.5 L43.2,57.6M37.8,12.3 L39.5,12.5 L41.2,12.6 L42.9,12.7 L44.7,12.8 L46.4,12.9M26.4,0.2 L28.0,0.4 L29.7,0.6 L31.4,0.7 L33.0,0.6 L34.7,0.4M26.7,43.7 L26.7,45.2 L26.8,46.7 L27.1,48.3M39.5,76.7 L38.4,77.9 L37.2,79.1 L36.0,80.3 L34.8,81.4 L33.6,82.6M61.8,15.4 L63.6,16.8 L65.3,18.3M16.1,35.6 L14.2,36.3 L12.2,36.8M33.5,14.9 L32.1,15.8 L30.6,16.4 L29.0,16.9M7.6,23.2 L6.2,24.8 L4.8,26.4" stroke="#8a8a8a" stroke-width="1.35" stroke-opacity="0.7200000000000001"/>
</g></g>
<clipPath id="c34"><rect x="258.56" y="535.10" width="80.22" height="81.40"/></clipPath>
<g clip-path="url(#c34)">
<rect x="258.56" y="535.10" width="80.22" height="81.40" fill="#dadada" filter="url(#nz)"/>
<g transform="translate(258.56,535.10)" fill="none" stroke-linecap="round" stroke-linejoin="round" filter="url(#bl)">
<path d="M37.6,30.6 L38.2,32.1 L38.8,33.6 L39.6,35.0 L40.6,36.3 L41.6,37.6 L42.7,38.7 L44.0,39.8 L45.3,40.7M41.5,9.2 L40.0,9.4 L38.5,9.6 L37.0,9.8 L35.5,10.0 L34.0,10.1 L32.5,10.3 L31.0,10.4 L29.5,10.4M59.9,59.6 L61.4,60.2 L62.9,60.8 L64.4,61.4 L65.9,61.9 L67.4,62.5 L68.9,63.0 L70.4,63.6 L71.9,64.1M49.3,59.7 L48.5,61.2 L47.7,62.8 L46.8,64.4 L46.0,65.9 L45.1,67.5M44.1,76.5 L42.7,77.2 L41.2,77.8 L39.7,78.2 L38.2,78.6 L36.7,78.7 L35.1,78.8 L33.5,78.7M21.9,71.0 L22.8,72.4 L23.7,73.7 L24.7,75.0 L25.8,76.2 L26.9,77.4 L28.2,78.4 L29.5,79.4M6.2,-1.5 L6.6,0.1 L7.2,1.7 L7.8,3.3 L8.5,4.9 L9.3,6.4 L10.1,7.8 L11.1,9.3M34.5,21.1 L33.0,21.7 L31.5,22.2 L29.9,22.6 L28.4,23.0M68.6,74.5 L69.9,75.5 L71.0,76.5 L72.1,77.6 L73.2,78.8M51.3,54.5 L52.1,55.8 L53.0,57.0 L53.9,58.1 L55.0,59.2 L56.1,60.2 L57.3,61.1 L58.6,61.9M38.7,29.1 L38.8,30.7 L38.9,32.3 L38.8,33.9 L38.6,35.6 L38.4,37.2 L37.9,38.7 L37.4,40.3M59.6,73.1 L58.5,74.3 L57.4,75.4 L56.2,76.6 L55.1,77.7 L53.9,78.9M27.4,29.4 L26.0,29.9 L24.5,30.4 L23.0,31.0 L21.6,31.6 L20.2,32.2M67.2,61.1 L67.1,62.8 L67.0,64.4 L66.7,66.0 L66.3,67.6 L65.7,69.2M46.7,26.6 L45.9,28.1 L45.2,29.6 L44.3,31.1 L43.4,32.5 L42.4,33.9 L41.3,35.2 L40.2,36.5M70.2,54.5 L71.8,55.0 L73.3,55.5 L74.9,56.0 L76.5,56.4 L78.1,56.9 L79.7,57.2M12.7,33.6 L12.4,35.1 L11.9,36.6 L11.4,38.1 L10.7,39.5 L9.9,40.8 L9.1,42.1 L8.1,43.4M15.3,35.2 L13.8,35.8 L12.3,36.4 L10.8,37.1 L9.4,37.8 L8.0,38.6 L6.6,39.4 L5.2,40.3M51.6,1.9 L53.1,2.6 L54.7,3.3 L56.3,3.8 L57.9,4.3 L59.6,4.7 L61.3,5.1M11.0,58.5 L11.3,60.2 L11.6,61.8 L12.0,63.5 L12.3,65.1M61.7,41.0 L63.3,41.1 L64.8,41.3 L66.4,41.6 L67.9,42.0 L69.4,42.5 L70.8,43.1 L72.2,43.7 L73.6,44.5M27.3,5.2 L28.5,6.2 L29.6,7.3 L30.7,8.4 L31.8,9.5 L32.8,10.7 L33.8,11.9 L34.7,13.2 L35.5,14.5M5.0,49.0 L6.0,50.3 L7.0,51.6 L8.2,52.7 L9.4,53.8 L10.7,54.8 L12.1,55.7 L13.5,56.4M70.7,45.7 L71.0,47.1 L71.4,48.6 L71.7,50.1 L72.0,51.5M24.8,32.7 L25.2,34.1 L25.5,35.6 L25.8,37.0 L26.1,38.5 L26.3,40.0 L26.4,41.5 L26.5,43.0 L26.6,44.5M45.7,31.0 L44.6,32.2 L43.6,33.4 L42.6,34.6 L41.6,35.8 L40.6,36.9 L39.6,38.2M51.6,71.5 L52.9,72.7 L54.2,73.8 L55.5,74.9 L56.9,75.9 L58.3,76.8 L59.8,77.8 L61.2,78.6M46.7,26.8 L47.5,28.1 L48.3,29.4 L49.1,30.7 L50.0,32.0 L50.8,33.3M72.6,29.1 L73.3,30.5 L74.0,32.0 L74.7,33.5 L75.5,35.0 L76.3,36.4 L77.1,37.8 L77.9,39.3M38.1,23.6 L38.6,25.2 L39.1,26.8 L39.7,28.3 L40.4,29.9 L41.1,31.4 L41.8,32.9M42.0,29.0 L43.5,29.3 L45.0,29.4 L46.6,29.5 L48.1,29.5 L49.7,29.4 L51.2,29.3 L52.7,29.0M73.1,41.8 L74.6,42.4 L76.2,43.0 L77.7,43.6 L79.2,44.1 L80.8,44.6 L82.4,45.0 L84.0,45.4M25.8,53.3 L26.0,54.8 L26.2,56.3 L26.5,57.8 L26.8,59.3 L27.0,60.8 L27.3,62.2 L27.6,63.7M71.2,11.4 L72.7,12.1 L74.1,12.8 L75.4,13.7 L76.7,14.6 L77.9,15.6 L79.1,16.7 L80.2,17.9M55.8,43.7 L55.7,45.3 L55.6,46.8 L55.4,48.4 L55.1,49.9 L54.7,51.4M48.9,3.8 L48.5,5.2 L47.9,6.6 L47.3,8.0 L46.7,9.3 L45.9,10.7 L45.1,11.9 L44.2,13.1M41.9,64.0 L40.7,65.0 L39.5,65.9 L38.2,66.7 L36.8,67.5 L35.4,68.1 L33.9,68.7 L32.4,69.1M7.3,35.7 L5.7,36.1 L4.1,36.4 L2.5,36.8 L0.8,37.0 L-0.8,37.3 L-2.4,37.5M84.3,37.0 L82.8,37.6 L81.2,38.4 L79.8,39.2 L78.3,40.2 L77.0,41.2 L75.7,42.2 L74.4,43.4M10.6,37.9 L12.3,38.1 L14.0,38.4 L15.7,38.9 L17.3,39.4 L19.0,39.9 L20.6,40.6M39.2,-0.1 L38.5,1.3 L37.9,2.6 L37.2,4.0 L36.6,5.4 L36.0,6.8 L35.4,8.2 L34.8,9.6 L34.3,11.1M0.2,35.5 L1.6,36.2 L3.0,37.0 L4.4,37.6 L5.8,38.2M11.6,37.3 L9.9,37.7 L8.3,38.0 L6.6,38.1 L4.9,38.2 L3.2,38.1 L1.5,37.8 L-0.2,37.5M50.3,20.6 L50.8,22.0 L51.2,23.5 L51.4,25.0 L51.5,26.5 L51.5,28.1 L51.3,29.6 L51.0,31.1 L50.6,32.5M45.2,27.0 L46.0,28.4 L46.7,29.8 L47.4,31.2 L48.1,32.6 L48.7,34.1 L49.3,35.5M31.9,2.8 L32.0,4.3 L32.1,5.8 L32.2,7.4 L32.2,8.9 L32.1,10.5M17.4,57.3 L16.2,58.3 L15.0,59.3 L13.9,60.4 L12.8,61.6 L11.9,62.8 L11.0,64.1 L10.2,65.5M25.5,-0.5 L24.9,0.9 L24.4,2.4 L23.9,3.9 L23.4,5.4 L23.1,6.9M9.6,43.4 L8.1,43.5 L6.5,43.6 L4.9,43.8 L3.4,44.0 L1.8,44.3M8.1,15.2 L9.7,15.4 L11.4,15.6 L13.0,15.7 L14.7,15.9 L16.3,15.9 L18.0,15.9M18.8,20.1 L19.9,21.4 L21.0,22.8 L21.9,24.2 L22.9,25.6 L23.7,27.1 L24.6,28.6M58.8,67.2 L58.7,68.7 L58.6,70.2 L58.4,71.7 L58.1,73.2 L57.7,74.7 L57.3,76.2 L56.7,77.6M68.4,69.0 L68.3,70.6 L68.3,72.1 L68.4,73.7 L68.7,75.2 L69.1,76.7M42.7,7.0 L44.0,7.7 L45.4,8.4 L46.8,9.2 L48.2,9.9 L49.5,10.7M19.6,59.4 L20.5,60.8 L21.3,62.2 L22.1,63.6 L22.7,65.1 L23.3,66.6 L23.8,68.2 L24.2,69.7M55.5,62.2 L54.1,62.9 L52.8,63.8 L51.5,64.7 L50.3,65.7" stroke="#1a1a1a" stroke-width="1.55" stroke-opacity="0.9"/>
<path d="M10.1,79.6 L8.5,79.8 L6.9,80.0 L5.4,80.1 L3.8,80.2 L2.2,80.2M57.7,64.3 L56.3,64.8 L54.8,65.1 L53.3,65.3 L51.8,65.4 L50.3,65.4 L48.8,65.2 L47.3,64.8 L45.8,64.4M33.8,75.5 L34.7,76.7 L35.7,77.8 L36.7,78.9 L37.8,80.0 L38.8,81.1 L39.9,82.2M45.3,17.4 L44.1,18.7 L43.0,20.1 L41.8,21.4 L40.7,22.8M28.3,14.8 L28.6,16.4 L28.9,17.9 L29.1,19.4 L29.4,20.9 L29.7,22.5 L30.0,24.0 L30.3,25.5 L30.5,27.1M41.6,55.0 L42.3,56.5 L42.8,58.0 L43.3,59.6 L43.7,61.1 L44.1,62.7 L44.3,64.3 L44.5,65.9M4.4,42.5 L5.4,43.7 L6.4,44.9 L7.3,46.1 L8.2,47.4 L9.0,48.6 L9.8,49.9 L10.6,51.2 L11.3,52.6M24.5,54.8 L26.2,54.9 L27.8,55.0 L29.5,55.0 L31.1,55.0 L32.8,54.9 L34.4,54.8 L36.1,54.7M41.9,7.9 L40.4,8.2 L38.8,8.7 L37.4,9.2 L35.9,9.9 L34.5,10.7 L33.2,11.6 L32.0,12.6M83.3,73.0 L81.5,73.3 L79.8,73.5 L78.0,73.7 L76.2,73.7 L74.4,73.7M20.3,59.5 L19.1,60.7 L18.1,62.0 L17.1,63.3 L16.3,64.8 L15.6,66.3 L15.0,67.8 L14.6,69.4M66.6,42.7 L66.7,44.3 L66.8,45.8 L66.9,47.4 L67.0,49.0 L67.1,50.6 L67.2,52.1 L67.2,53.7M35.0,61.1 L35.7,62.7 L36.5,64.2 L37.4,65.6 L38.3,67.0M18.0,51.6 L19.2,52.8 L20.3,54.0 L21.5,55.2 L22.6,56.5 L23.7,57.7 L24.7,59.0 L25.8,60.3M13.1,26.4 L12.3,27.8 L11.4,29.2 L10.5,30.5 L9.4,31.7M71.4,77.2 L72.8,78.0 L74.2,79.0 L75.5,80.0 L76.8,81.2M41.2,-0.6 L40.1,0.7 L39.0,1.9 L37.7,3.0 L36.4,4.0 L35.1,5.0M6.8,60.9 L7.1,62.4 L7.5,63.9 L8.0,65.4 L8.6,66.8 L9.2,68.2 L9.9,69.6M41.3,33.4 L42.0,34.8 L42.7,36.3 L43.3,37.8 L43.9,39.3 L44.5,40.8M34.9,26.1 L34.0,27.3 L33.1,28.6 L32.3,29.8 L31.4,31.1 L30.6,32.4 L29.8,33.8 L29.1,35.1 L28.3,36.5M1.1,60.1 L2.6,60.4 L4.1,60.6 L5.7,60.9 L7.2,61.2 L8.7,61.5 L10.2,61.9 L11.7,62.2M43.5,51.1 L44.7,52.0 L46.0,52.8 L47.2,53.7 L48.5,54.5 L49.7,55.3 L51.0,56.1 L52.3,56.9M10.4,48.6 L10.5,50.1 L10.6,51.6 L10.5,53.2 L10.3,54.7 L10.0,56.1 L9.5,57.6 L8.9,59.0M40.5,14.0 L39.4,15.1 L38.3,16.1 L37.1,17.1 L35.9,18.1M9.4,46.5 L10.9,47.2 L12.3,47.8 L13.9,48.3 L15.4,48.8 L16.9,49.3 L18.5,49.7 L20.1,50.0M16.7,64.0 L18.3,64.5 L19.9,65.0 L21.5,65.7 L23.0,66.5 L24.5,67.3 L26.0,68.2M65.9,-2.7 L66.7,-1.4 L67.6,-0.1 L68.5,1.2 L69.4,2.5 L70.4,3.7 L71.4,4.9 L72.5,6.1M73.2,14.6 L72.2,16.0 L71.4,17.5 L70.6,19.0 L69.8,20.5 L69.0,22.0 L68.3,23.6M67.5,14.7 L69.0,15.1 L70.5,15.4 L72.0,15.7 L73.5,16.0 L75.0,16.1 L76.6,16.2 L78.1,16.3M55.9,-3.7 L55.8,-2.2 L55.7,-0.6 L55.6,1.0 L55.7,2.6 L55.9,4.2 L56.1,5.7 L56.4,7.3 L56.8,8.8M59.8,3.5 L61.5,3.6 L63.3,3.6 L65.1,3.5 L66.8,3.2 L68.6,2.8M45.9,50.0 L44.4,50.2 L42.9,50.6 L41.4,51.0 L40.0,51.4 L38.5,51.9 L37.1,52.5 L35.7,53.1M29.4,1.9 L28.8,3.4 L28.2,4.9 L27.6,6.4 L27.0,7.9 L26.4,9.4 L25.8,10.9M72.8,73.9 L74.2,74.6 L75.6,75.3 L76.9,76.1 L78.2,77.0 L79.5,78.0M48.8,30.8 L49.0,32.4 L49.2,33.9 L49.5,35.5 L49.9,37.0M1.3,32.6 L2.8,33.2 L4.2,33.8 L5.5,34.4 L6.9,35.0 L8.3,35.7 L9.6,36.3 L11.0,37.0 L12.3,37.7M41.0,14.3 L42.1,15.4 L43.4,16.5 L44.8,17.4 L46.1,18.2 L47.6,18.9 L49.1,19.5 L50.7,20.0 L52.2,20.4M63.1,58.5 L61.6,58.9 L60.1,59.5 L58.6,60.1 L57.2,60.8 L55.8,61.6 L54.5,62.4 L53.2,63.3 L51.9,64.3M65.8,67.4 L64.9,69.0 L63.9,70.6 L62.8,72.2 L61.7,73.6M45.2,3.1 L44.6,4.6 L43.9,6.1 L43.2,7.5 L42.4,8.9 L41.5,10.3 L40.7,11.7M2.7,0.1 L3.7,1.2 L4.6,2.4 L5.5,3.6 L6.4,4.8 L7.2,6.1 L8.1,7.3 L8.8,8.6 L9.6,9.9M66.8,71.2 L65.6,72.4 L64.3,73.7 L63.1,74.9 L61.8,76.2 L60.6,77.4M22.7,25.3 L23.8,26.3 L24.9,27.5 L25.9,28.6 L26.8,29.9M35.9,9.3 L37.0,10.5 L38.1,11.8 L39.0,13.2 L39.9,14.6 L40.7,16.1M28.9,43.1 L28.1,44.7 L27.5,46.4 L26.9,48.1 L26.4,49.8 L26.0,51.5M59.5,3.3 L58.1,3.9 L56.6,4.5 L55.1,5.1 L53.6,5.7 L52.1,6.3 L50.6,6.8M83.4,33.8 L82.2,34.7 L81.0,35.7 L79.9,36.7 L78.7,37.6 L77.6,38.6 L76.5,39.7 L75.4,40.7M37.1,47.4 L38.3,48.4 L39.6,49.4 L40.7,50.5 L41.8,51.7 L42.9,52.9M14.8,37.2 L16.1,37.8 L17.6,38.4 L19.0,38.9 L20.4,39.3 L21.9,39.7 L23.4,39.9 L24.9,40.2 L26.4,40.3M61.7,3.4 L62.4,4.8 L63.1,6.2 L63.9,7.6 L64.8,8.9 L65.8,10.1 L66.8,11.3 L68.0,12.4 L69.2,13.5M62.9,37.3 L62.5,39.0 L62.2,40.6 L61.8,42.3 L61.4,43.9 L61.1,45.6 L60.7,47.2M82.9,35.3 L81.4,36.2 L79.8,36.9 L78.1,37.6 L76.5,38.1 L74.7,38.6M17.3,0.9 L16.7,2.4 L16.2,4.0 L15.7,5.6 L15.3,7.3 L14.9,8.9M36.2,66.6 L36.9,68.1 L37.7,69.5 L38.4,70.9 L39.2,72.2 L40.0,73.6 L40.9,74.9 L41.8,76.2 L42.7,77.6M34.5,26.1 L35.6,27.1 L36.8,28.2 L37.9,29.4 L39.0,30.5 L40.1,31.6M40.7,30.6 L42.1,31.4 L43.6,32.3 L44.9,33.3 L46.1,34.4 L47.3,35.6 L48.3,36.9" stroke="#505050" stroke-width="1.3" stroke-opacity="0.81"/>
<path d="M68.8,57.5 L68.9,59.1 L69.1,60.7 L69.2,62.3 L69.3,63.9 L69.5,65.5 L69.6,67.1 L69.7,68.7M35.2,39.9 L34.0,41.0 L32.7,42.2 L31.6,43.5 L30.4,44.8 L29.4,46.1M4.8,52.1 L6.5,52.6 L8.1,53.1 L9.7,53.7 L11.3,54.3 L12.9,54.9 L14.5,55.6M35.1,45.9 L36.7,46.0 L38.4,46.2 L40.0,46.3 L41.6,46.4 L43.2,46.6 L44.8,46.7 L46.4,46.9 L48.0,47.0M18.0,74.5 L18.5,76.3 L18.9,78.1 L19.4,79.8 L19.9,81.6M16.1,42.2 L17.7,43.0 L19.3,43.9 L20.8,44.8 L22.4,45.7 L23.9,46.7M51.9,64.9 L52.9,66.5 L53.9,68.0 L55.1,69.4 L56.3,70.7M20.3,73.4 L19.0,74.5 L17.8,75.6 L16.6,76.8 L15.5,78.0M2.4,59.5 L3.1,60.9 L3.8,62.2 L4.5,63.5 L5.2,64.8 L6.0,66.1 L6.7,67.4 L7.5,68.7M6.6,21.4 L5.8,22.8 L5.1,24.2 L4.5,25.6 L3.9,27.1M16.1,64.2 L15.0,65.3 L13.9,66.4 L12.7,67.3 L11.5,68.2 L10.2,69.0 L8.8,69.7 L7.4,70.3 L5.9,70.7M69.7,1.0 L68.9,2.4 L68.1,3.8 L67.2,5.1 L66.3,6.4 L65.4,7.7 L64.4,9.0 L63.3,10.2M13.9,66.5 L15.3,67.0 L16.8,67.3 L18.3,67.6 L19.7,67.8 L21.3,67.9 L22.8,67.9 L24.3,67.7M40.1,18.6 L38.6,19.0 L37.1,19.5 L35.6,20.0 L34.2,20.6 L32.7,21.3 L31.3,22.0M8.8,-0.6 L9.4,0.8 L10.0,2.2 L10.6,3.6 L11.2,5.0 L11.8,6.3 L12.4,7.7 L13.0,9.1 L13.6,10.5M33.9,19.9 L32.4,20.8 L31.0,21.6 L29.6,22.6 L28.2,23.5M6.9,55.3 L5.9,56.4 L4.8,57.5 L3.7,58.6 L2.5,59.5 L1.3,60.5 L0.0,61.3M67.7,-1.5 L66.8,-0.2 L65.7,0.9 L64.5,2.0 L63.2,3.0 L61.9,3.8M79.9,56.3 L79.1,57.6 L78.2,58.8 L77.3,60.1 L76.5,61.3 L75.6,62.6 L74.8,63.8 L74.0,65.1M9.8,75.3 L11.5,75.5 L13.1,75.9 L14.7,76.3 L16.2,76.7 L17.8,77.3 L19.3,77.9 L20.8,78.6M41.3,22.3 L43.0,22.7 L44.9,22.9 L46.7,22.9 L48.5,22.8M48.0,20.9 L47.6,22.6 L47.4,24.2 L47.3,25.9 L47.3,27.6M63.6,50.4 L62.5,51.5 L61.3,52.5 L60.1,53.5 L58.8,54.3 L57.4,55.0 L56.0,55.7M42.2,10.1 L43.8,10.2 L45.4,10.2 L47.0,10.2 L48.6,10.1 L50.2,10.1 L51.8,10.0 L53.4,10.0M25.3,72.7 L25.3,74.2 L25.5,75.8 L25.6,77.4 L25.8,78.9 L26.0,80.5 L26.3,82.0M6.6,16.7 L5.7,18.1 L4.7,19.3 L3.6,20.5 L2.4,21.6 L1.0,22.5 L-0.3,23.4 L-1.8,24.1M44.2,36.8 L44.1,38.4 L43.9,39.9 L43.8,41.4 L43.7,43.0 L43.6,44.5M38.7,70.7 L37.6,71.8 L36.4,72.9 L35.2,74.0 L34.0,75.0 L32.7,76.0" stroke="#8a8a8a" stroke-width="1.3" stroke-opacity="0.7200000000000001"/>
</g></g>
<clipPath id="c35"><rect x="338.78" y="535.10" width="80.22" height="81.40"/></clipPath>
<g clip-path="url(#c35)">
<rect x="338.78" y="535.10" width="80.22" height="81.40" fill="#d8d8d8" filter="url(#nz)"/>
<g transform="translate(338.78,535.10)" fill="none" stroke-linecap="round" stroke-linejoin="round" filter="url(#bl)">
<path d="M67.5,36.9 L66.1,37.6 L64.6,38.3 L63.1,38.8 L61.5,39.2 L59.9,39.6 L58.3,39.8M58.9,3.4 L59.6,4.8 L60.2,6.3 L60.7,7.8 L61.0,9.3 L61.3,10.9 L61.5,12.5M41.5,46.3 L40.2,47.2 L39.0,48.1 L37.8,49.1 L36.6,50.1 L35.4,51.1 L34.2,52.1 L33.1,53.1M67.5,12.3 L66.3,13.3 L65.1,14.3 L64.0,15.3 L62.8,16.3 L61.8,17.4 L60.7,18.5 L59.7,19.6M20.0,-2.7 L20.8,-1.3 L21.5,0.2 L22.3,1.7 L23.1,3.1 L23.8,4.6 L24.6,6.1 L25.3,7.6 L26.0,9.1M16.4,45.5 L17.7,46.3 L19.0,46.9 L20.4,47.5 L21.9,47.9 L23.4,48.2 L24.9,48.3 L26.4,48.3 L27.9,48.2 L29.4,48.0M67.8,74.8 L69.3,75.0 L70.9,75.1 L72.4,75.0 L73.9,74.8 L75.4,74.4 L76.9,73.9 L78.3,73.3M52.7,27.6 L53.9,28.8 L55.0,30.0 L56.1,31.3 L57.1,32.6 L58.1,33.9M24.5,62.5 L25.9,63.3 L27.2,64.0 L28.6,64.8 L29.9,65.6 L31.2,66.4 L32.6,67.2M70.1,16.1 L71.6,17.1 L73.1,18.1 L74.6,19.1 L76.2,20.0M34.9,35.7 L36.7,36.1 L38.4,36.3 L40.2,36.5 L41.9,36.7M7.9,4.1 L6.9,5.4 L5.9,6.8 L4.9,8.2 L3.9,9.6 L3.0,11.0 L2.1,12.4 L1.2,13.9M10.2,12.9 L10.8,14.4 L11.4,15.8 L12.1,17.1 L12.9,18.5 L13.8,19.8M26.7,13.0 L25.9,14.4 L25.1,15.7 L24.2,17.0 L23.3,18.3 L22.4,19.6 L21.3,20.8M47.6,51.9 L48.3,53.2 L49.1,54.5 L49.9,55.8 L50.8,57.0 L51.8,58.1 L52.9,59.2 L54.0,60.2M55.3,60.1 L54.9,61.5 L54.4,63.0 L54.0,64.5 L53.5,66.0 L53.1,67.5 L52.6,69.0 L52.2,70.5M28.4,54.9 L26.8,54.9 L25.3,54.8 L23.8,54.5 L22.3,54.1 L20.8,53.6 L19.4,53.0M24.4,68.8 L25.4,69.9 L26.4,71.1 L27.3,72.4 L28.1,73.8 L28.8,75.1 L29.5,76.6 L30.0,78.0M66.4,26.1 L67.1,27.4 L67.9,28.7 L68.8,29.9 L69.8,31.0 L70.9,32.1 L72.0,33.1 L73.2,34.0 L74.4,34.9M71.5,24.0 L71.4,25.7 L71.2,27.3 L70.8,28.9 L70.4,30.5 L69.7,32.1 L69.0,33.5M60.2,29.9 L59.0,31.1 L57.8,32.2 L56.5,33.3 L55.3,34.4 L54.0,35.5M0.6,74.9 L1.1,76.4 L1.5,77.9 L1.9,79.4 L2.3,80.8 L2.7,82.3M4.6,67.8 L4.6,69.6 L4.8,71.4 L5.0,73.3 L5.4,75.0M36.0,21.4 L35.3,22.9 L34.8,24.5 L34.3,26.1 L33.9,27.7 L33.6,29.4 L33.4,31.0 L33.3,32.7M74.7,4.8 L73.4,5.6 L71.9,6.3 L70.5,6.9 L69.0,7.3 L67.4,7.7M55.3,8.0 L53.8,8.5 L52.2,8.9 L50.7,9.4 L49.2,9.9 L47.7,10.4 L46.1,11.0 L44.6,11.6M45.9,27.2 L47.3,27.9 L48.7,28.7 L50.0,29.7 L51.3,30.7 L52.4,31.9 L53.4,33.1 L54.4,34.5 L55.2,35.9M41.4,8.0 L42.5,9.3 L43.6,10.5 L44.9,11.6 L46.2,12.6 L47.6,13.5 L49.1,14.3M81.1,67.3 L80.0,68.7 L78.9,70.1 L78.0,71.5 L77.2,73.1 L76.5,74.7M19.0,16.0 L17.6,16.6 L16.1,17.2 L14.6,17.7 L13.0,18.2 L11.5,18.6 L9.9,19.0 L8.4,19.3M40.4,27.3 L40.7,28.8 L40.9,30.4 L41.0,32.0 L41.0,33.5 L41.0,35.1M28.5,20.0 L29.6,21.3 L30.6,22.7 L31.6,24.1 L32.4,25.6 L33.2,27.1 L33.8,28.7 L34.4,30.3M13.3,36.5 L12.2,37.6 L11.2,38.7 L10.1,39.7 L8.9,40.7 L7.7,41.7 L6.5,42.6 L5.3,43.5 L4.0,44.3 L2.7,45.0M33.8,23.8 L32.3,24.3 L30.8,24.9 L29.3,25.4 L27.9,26.1 L26.5,26.8M71.4,73.5 L73.0,74.0 L74.5,74.6 L76.0,75.2 L77.5,75.7 L79.0,76.4 L80.5,77.0M42.1,2.9 L40.8,3.9 L39.4,4.8 L37.9,5.6 L36.4,6.2 L34.9,6.8 L33.3,7.2 L31.6,7.5 L30.0,7.7M8.3,35.1 L9.8,35.8 L11.4,36.3 L13.1,36.8 L14.7,37.1 L16.4,37.4M31.9,66.4 L32.7,67.8 L33.5,69.1 L34.4,70.5 L35.3,71.8 L36.2,73.1 L37.2,74.4 L38.2,75.6 L39.2,76.8M30.5,76.7 L32.0,77.5 L33.4,78.5 L34.6,79.6 L35.8,80.7 L36.9,82.0 L37.9,83.4 L38.7,84.9 L39.4,86.4M46.1,38.2 L46.4,39.8 L46.7,41.4 L47.0,43.1 L47.3,44.7 L47.6,46.3 L47.9,47.9M82.6,8.7 L81.1,9.1 L79.6,9.4 L78.1,9.5 L76.6,9.6 L75.1,9.5 L73.6,9.3M82.6,11.7 L81.7,13.1 L80.9,14.6 L80.2,16.1 L79.7,17.7 L79.3,19.3 L79.0,21.0 L78.9,22.6 L78.9,24.3M37.4,64.9 L36.4,66.1 L35.5,67.3 L34.4,68.5 L33.3,69.6 L32.2,70.6 L30.9,71.5 L29.7,72.4 L28.4,73.2 L27.0,73.9M22.7,47.5 L24.2,48.0 L25.8,48.4 L27.4,48.8 L29.0,49.2 L30.5,49.6 L32.1,50.0M9.7,62.0 L10.3,63.5 L11.0,65.0 L11.9,66.4 L12.8,67.7 L13.9,69.0 L15.1,70.1 L16.3,71.1M79.7,78.0 L78.2,78.2 L76.6,78.3 L75.1,78.6 L73.6,78.8 L72.1,79.1 L70.6,79.4 L69.1,79.8M28.6,45.2 L28.5,46.7 L28.5,48.3 L28.6,49.8 L28.7,51.4 L28.9,52.9 L29.2,54.5 L29.5,56.0M35.2,38.7 L36.1,40.0 L37.0,41.3 L38.0,42.6 L38.9,43.9 L39.9,45.1 L40.9,46.3 L42.0,47.5M49.6,77.2 L51.2,77.7 L52.7,78.0 L54.3,78.3 L55.9,78.4 L57.6,78.4 L59.2,78.3M26.7,31.1 L27.2,32.7 L27.8,34.2 L28.4,35.7 L29.0,37.1 L29.7,38.6 L30.5,40.0 L31.3,41.4M14.6,11.7 L15.1,13.5 L15.8,15.1 L16.7,16.8 L17.6,18.3M17.4,19.3 L17.1,20.9 L16.7,22.5 L16.4,24.2 L16.1,25.8 L15.9,27.5 L15.7,29.1M19.6,42.1 L19.2,43.7 L18.9,45.4 L18.7,47.0 L18.7,48.7 L18.8,50.3 L19.0,52.0 L19.3,53.6M17.1,24.2 L17.0,25.9 L16.9,27.6 L16.8,29.3 L16.5,31.0 L16.2,32.7M29.0,27.6 L28.3,29.0 L27.5,30.4 L26.7,31.8 L25.8,33.2 L25.0,34.5 L24.0,35.8 L23.1,37.1M33.7,2.5 L32.9,3.9 L32.2,5.3 L31.5,6.7 L31.0,8.3 L30.7,9.8 L30.4,11.4 L30.2,12.9 L30.2,14.5M31.0,31.2 L30.0,32.6 L28.9,33.9 L27.8,35.1 L26.5,36.3 L25.3,37.4 L23.9,38.4 L22.5,39.3 L21.0,40.1M28.3,58.5 L26.8,58.9 L25.3,59.5 L23.9,60.1 L22.5,60.9 L21.1,61.7M48.3,2.3 L47.6,3.8 L46.9,5.2 L46.2,6.6 L45.4,8.0 L44.6,9.4 L43.8,10.8 L43.0,12.1 L42.1,13.5M55.5,35.3 L56.9,35.8 L58.3,36.3 L59.8,36.7 L61.3,36.9 L62.8,37.1 L64.3,37.1 L65.8,37.0 L67.3,36.7M39.5,36.8 L41.1,37.5 L42.7,38.0 L44.4,38.5 L46.0,38.7 L47.8,38.9 L49.5,38.8M4.0,69.7 L3.0,71.0 L1.9,72.3 L0.8,73.4 L-0.4,74.6 L-1.6,75.6 L-2.9,76.7M75.1,47.5 L73.5,47.9 L71.9,48.2 L70.2,48.3 L68.6,48.3 L66.9,48.2 L65.3,47.9M35.4,61.7 L36.0,63.4 L36.8,64.9 L37.6,66.4 L38.6,67.8 L39.8,69.1" stroke="#1a1a1a" stroke-width="1.55" stroke-opacity="0.9"/>
<path d="M36.9,76.7 L35.3,77.2 L33.7,77.7 L32.0,78.1 L30.3,78.4 L28.6,78.7 L26.9,78.8 L25.2,78.8M62.8,5.9 L64.2,6.5 L65.7,7.2 L67.1,7.9 L68.5,8.7 L69.8,9.5 L71.2,10.4 L72.5,11.3 L73.7,12.2M10.7,14.7 L12.0,15.8 L13.3,17.0 L14.4,18.2 L15.4,19.6 L16.2,21.1 L17.0,22.6 L17.6,24.2M65.8,4.2 L65.5,6.0 L65.1,7.7 L64.7,9.3 L64.2,11.0 L63.7,12.7M66.6,38.6 L66.2,40.2 L65.8,41.8 L65.5,43.4 L65.2,45.0 L65.0,46.7 L64.8,48.3 L64.7,49.9M39.8,-0.9 L40.9,0.2 L42.1,1.3 L43.4,2.2 L44.8,3.0 L46.2,3.7M33.4,51.9 L32.6,53.4 L31.6,54.9 L30.7,56.4 L29.7,57.9M-2.4,21.3 L-1.2,22.4 L0.1,23.4 L1.4,24.3 L2.8,25.1 L4.2,25.9 L5.6,26.7 L7.1,27.3M59.0,70.7 L57.6,71.3 L56.2,71.8 L54.7,72.2 L53.3,72.6 L51.8,73.0 L50.3,73.2M21.2,18.0 L21.0,19.6 L20.8,21.2 L20.5,22.8 L20.1,24.4 L19.7,26.0M-1.9,24.3 L-0.4,25.0 L1.1,25.8 L2.5,26.6 L3.9,27.6 L5.1,28.6M57.3,55.2 L57.0,56.9 L56.7,58.6 L56.4,60.3 L56.0,61.9 L55.6,63.6 L55.2,65.3 L54.8,66.9M60.8,34.4 L62.3,35.2 L63.7,35.9 L65.1,36.7 L66.6,37.5 L68.0,38.2 L69.5,39.0M-0.8,73.4 L0.7,74.1 L2.2,74.8 L3.6,75.6 L5.0,76.4 L6.3,77.4 L7.6,78.4 L8.8,79.4M-4.2,63.0 L-2.8,63.6 L-1.4,64.2 L-0.0,64.9 L1.3,65.6 L2.7,66.4 L4.0,67.2 L5.3,68.0 L6.5,68.9M72.4,24.6 L72.8,26.2 L73.0,27.7 L73.1,29.3 L73.1,30.9 L73.0,32.5 L72.7,34.0 L72.3,35.6 L71.8,37.1M74.3,5.3 L72.9,6.0 L71.6,6.8 L70.3,7.7 L69.1,8.6 L67.9,9.6 L66.7,10.6 L65.7,11.7 L64.6,12.8 L63.7,14.1M61.3,26.7 L62.8,27.6 L64.3,28.4 L65.8,29.2 L67.3,29.9 L68.9,30.6 L70.4,31.3 L72.0,31.9M71.7,50.9 L70.1,51.6 L68.5,52.3 L67.0,53.1 L65.5,53.9 L64.0,54.7 L62.5,55.6 L61.1,56.5M74.0,21.4 L74.4,23.0 L74.9,24.5 L75.4,26.1 L76.0,27.6 L76.7,29.1 L77.4,30.5M15.9,2.6 L17.5,3.4 L19.1,4.1 L20.8,4.6 L22.6,5.1M3.0,15.8 L4.2,16.8 L5.4,17.8 L6.6,18.7 L7.8,19.6 L9.1,20.4 L10.4,21.2 L11.7,22.0 L13.1,22.7 L14.5,23.4M27.5,68.2 L27.0,69.8 L26.6,71.4 L26.2,73.0 L25.8,74.6 L25.4,76.3 L25.1,77.9 L24.8,79.6 L24.6,81.2M4.3,40.4 L5.8,40.9 L7.2,41.4 L8.5,42.0 L9.8,42.8 L11.1,43.6 L12.2,44.6 L13.3,45.6M15.9,65.0 L14.7,66.3 L13.3,67.5 L11.9,68.5 L10.5,69.5 L8.9,70.3M15.1,67.7 L16.2,68.7 L17.3,69.8 L18.3,71.0 L19.2,72.3 L20.0,73.6 L20.7,75.0 L21.3,76.4 L21.8,77.9 L22.1,79.4M71.2,64.5 L70.6,65.9 L70.0,67.2 L69.2,68.5 L68.3,69.8 L67.4,70.9M62.2,2.9 L61.2,4.1 L60.1,5.3 L58.9,6.3 L57.6,7.4 L56.3,8.3 L54.9,9.1 L53.5,9.9M81.4,57.0 L80.3,58.1 L79.0,59.1 L77.7,60.0 L76.3,60.8 L74.8,61.4 L73.3,62.0 L71.7,62.4 L70.1,62.6M79.2,46.8 L78.5,48.2 L77.7,49.5 L76.7,50.7 L75.7,51.9 L74.6,53.0 L73.5,53.9 L72.2,54.8 L70.9,55.6 L69.5,56.3M45.0,52.6 L46.6,53.3 L48.3,54.0 L49.8,54.8 L51.4,55.7M76.7,52.2 L75.6,53.5 L74.5,54.8 L73.3,56.2 L72.2,57.5 L71.1,58.8M12.5,9.5 L11.2,10.7 L9.9,11.8 L8.6,12.9 L7.1,13.8 L5.6,14.7 L4.1,15.4M40.0,56.1 L41.6,56.3 L43.3,56.6 L44.9,57.0 L46.4,57.5 L48.0,58.0 L49.5,58.7M52.7,20.0 L52.5,21.6 L52.2,23.2 L51.8,24.8 L51.3,26.4 L50.7,27.9 L50.1,29.4M47.7,39.4 L49.3,40.0 L51.0,40.6 L52.6,41.1 L54.3,41.4 L56.0,41.8 L57.8,42.0M38.4,5.3 L38.6,7.0 L38.6,8.6 L38.6,10.2 L38.4,11.8 L38.2,13.4 L37.8,15.0M26.1,18.9 L27.5,19.6 L29.0,20.2 L30.4,20.8 L31.9,21.3 L33.4,21.7M39.6,57.0 L38.1,57.2 L36.5,57.3 L35.0,57.5 L33.5,57.7 L32.0,57.9 L30.5,58.1 L29.0,58.3M13.2,19.2 L14.5,20.1 L15.8,20.9 L17.2,21.7 L18.5,22.5 L19.9,23.2 L21.3,23.9M56.7,73.4 L55.2,74.0 L53.8,74.5 L52.3,75.0 L50.8,75.5 L49.2,75.9 L47.7,76.2 L46.2,76.5M73.1,-0.3 L72.0,0.9 L70.8,2.0 L69.5,3.1 L68.1,4.0 L66.7,4.8M22.2,34.5 L22.8,35.9 L23.4,37.3 L24.1,38.7 L24.8,40.0 L25.5,41.4 L26.2,42.7 L27.0,44.0 L27.8,45.3M77.8,6.1 L76.6,7.1 L75.3,7.9 L74.0,8.7 L72.6,9.4 L71.2,9.9 L69.7,10.4 L68.2,10.7 L66.7,10.9 L65.2,11.1M31.5,46.6 L29.9,46.8 L28.4,47.1 L26.9,47.5 L25.4,48.0 L23.9,48.5M8.5,38.1 L7.3,39.1 L6.1,39.9 L4.8,40.8 L3.5,41.6 L2.2,42.3 L0.9,43.0M82.5,52.8 L81.1,53.7 L79.7,54.5 L78.3,55.4 L76.8,56.1 L75.3,56.9 L73.8,57.5 L72.3,58.1 L70.7,58.7M31.9,35.2 L30.2,35.5 L28.5,35.6 L26.7,35.5 L25.0,35.3 L23.3,35.0 L21.6,34.5M32.9,25.3 L34.0,26.3 L35.1,27.3 L36.3,28.3 L37.4,29.3 L38.6,30.3 L39.8,31.3 L41.0,32.2 L42.2,33.2 L43.4,34.1M71.2,54.6 L70.0,55.5 L68.8,56.4 L67.5,57.3 L66.3,58.1 L65.1,59.0 L63.8,59.8 L62.5,60.6M35.9,76.2 L37.0,77.4 L38.1,78.6 L39.0,80.0 L39.9,81.4 L40.6,82.9M20.0,54.9 L21.5,55.8 L23.0,56.8 L24.6,57.6 L26.1,58.4M41.0,30.7 L42.0,32.0 L43.0,33.3 L43.9,34.6 L44.7,36.0 L45.5,37.5 L46.2,39.0 L46.7,40.5M10.8,33.5 L9.3,34.0 L7.7,34.5 L6.2,35.1 L4.7,35.7 L3.2,36.3 L1.8,36.9 L0.3,37.6M4.8,70.4 L5.6,71.9 L6.3,73.4 L6.9,74.9 L7.5,76.5 L7.9,78.1 L8.1,79.7M74.1,19.9 L73.2,21.2 L72.1,22.5 L71.1,23.8 L69.9,24.9 L68.7,26.0 L67.4,27.1M0.6,16.8 L2.0,17.9 L3.4,18.9 L4.9,20.0 L6.4,20.9 L7.9,21.8M56.1,47.8 L55.1,48.9 L54.1,50.1 L53.2,51.4 L52.3,52.7 L51.5,54.1 L50.8,55.4M46.2,68.2 L47.1,69.6 L48.1,70.9 L49.1,72.1 L50.2,73.3 L51.4,74.4 L52.6,75.4 L54.0,76.3 L55.3,77.2M58.9,62.0 L59.5,63.5 L60.2,65.1 L60.8,66.6 L61.4,68.2 L62.0,69.8 L62.6,71.4M75.9,14.4 L74.3,15.2 L72.8,16.0 L71.2,16.7 L69.7,17.4 L68.1,18.1 L66.5,18.8M9.4,32.4 L11.0,33.0 L12.6,33.4 L14.2,33.8 L15.9,34.0 L17.6,34.2 L19.2,34.2 L20.9,34.1 L22.6,33.8M66.3,65.5 L67.5,66.4 L68.7,67.4 L69.9,68.2 L71.2,69.0 L72.5,69.8 L73.8,70.5 L75.2,71.1M79.6,67.5 L78.0,68.0 L76.4,68.4 L74.8,68.8 L73.1,69.2 L71.5,69.6 L69.9,70.0 L68.2,70.3 L66.6,70.6" stroke="#505050" stroke-width="1.3" stroke-opacity="0.81"/>
<path d="M22.6,78.3 L24.2,78.4 L25.8,78.3 L27.4,78.1 L29.0,77.8 L30.5,77.4 L32.0,76.8 L33.5,76.2M66.3,17.5 L67.8,18.2 L69.3,18.9 L70.9,19.6 L72.4,20.2 L74.0,20.7 L75.6,21.2 L77.2,21.7 L78.8,22.1M34.5,17.5 L33.2,18.4 L31.8,19.3 L30.4,20.0 L28.9,20.7 L27.5,21.4 L26.0,21.9 L24.4,22.4 L22.9,22.8M25.1,11.0 L26.6,11.5 L28.1,11.9 L29.6,12.3 L31.1,12.7 L32.7,13.0 L34.2,13.2 L35.7,13.4M15.9,35.9 L16.8,37.4 L17.7,38.9 L18.6,40.4 L19.5,41.9 L20.4,43.4M30.1,70.2 L29.2,71.7 L28.5,73.2 L27.8,74.8 L27.3,76.4 L26.9,78.1M61.4,68.4 L59.7,69.0 L58.0,69.7 L56.3,70.4 L54.7,71.1M77.7,47.6 L76.7,48.8 L75.8,50.2 L75.1,51.6 L74.4,53.0 L73.9,54.5M13.3,43.5 L12.5,44.7 L11.5,45.9 L10.4,47.0 L9.2,48.0 L8.0,48.9 L6.7,49.7 L5.3,50.4 L3.9,50.9 L2.4,51.4M35.2,25.2 L34.3,26.5 L33.4,27.8 L32.4,29.0 L31.4,30.1 L30.3,31.2 L29.2,32.3M27.1,61.0 L27.7,62.5 L28.3,63.9 L28.9,65.4 L29.6,66.8 L30.3,68.2 L31.1,69.6M13.3,15.8 L15.0,16.1 L16.6,16.4 L18.2,16.8 L19.8,17.3 L21.4,17.7 L23.0,18.3 L24.5,18.8 L26.1,19.4M21.8,66.4 L23.1,67.2 L24.4,68.1 L25.6,69.1 L26.7,70.2 L27.8,71.3 L28.7,72.5 L29.6,73.8 L30.4,75.2M60.5,75.5 L58.8,76.0 L57.2,76.5 L55.6,77.2 L54.1,78.0 L52.7,78.9 L51.3,79.9M34.7,27.4 L33.1,28.0 L31.6,28.5 L30.0,29.0 L28.5,29.5 L26.9,29.9 L25.3,30.3 L23.7,30.7 L22.1,31.0M18.6,28.5 L20.0,29.1 L21.4,29.9 L22.8,30.7 L24.1,31.6 L25.4,32.5 L26.6,33.5M38.8,50.4 L37.8,51.8 L36.7,53.1 L35.5,54.3 L34.3,55.4 L33.0,56.5 L31.6,57.5M68.7,60.9 L70.4,61.0 L72.0,61.1 L73.6,61.3 L75.2,61.6 L76.9,61.9 L78.5,62.3 L80.0,62.8 L81.6,63.3M13.0,72.0 L11.3,72.0 L9.7,72.0 L8.1,72.0 L6.4,72.0 L4.8,72.0 L3.1,71.9 L1.5,71.8M80.4,66.2 L79.6,67.5 L78.8,68.8 L77.9,70.0 L76.8,71.1 L75.8,72.1 L74.6,73.1 L73.4,74.0 L72.1,74.8 L70.7,75.5M45.4,57.4 L46.8,57.9 L48.2,58.5 L49.6,59.2 L50.9,60.0 L52.1,60.8 L53.4,61.7 L54.5,62.7 L55.6,63.8M26.1,53.9 L24.4,54.3 L22.6,54.7 L20.9,55.1 L19.2,55.6M59.1,50.0 L59.9,51.2 L60.7,52.5 L61.4,53.9 L62.0,55.2 L62.5,56.7 L63.0,58.1 L63.3,59.5M65.7,21.0 L66.4,22.6 L66.9,24.2 L67.3,25.9 L67.6,27.6 L67.7,29.3 L67.7,31.0 L67.6,32.7M53.1,4.0 L54.0,5.3 L55.0,6.6 L56.0,7.7 L57.2,8.8 L58.5,9.7 L59.8,10.6M47.9,11.7 L46.6,12.5 L45.3,13.2 L43.9,13.8 L42.4,14.4 L41.0,14.8 L39.5,15.1 L37.9,15.3 L36.4,15.3 L34.9,15.3M55.3,32.6 L55.3,34.3 L55.1,35.9 L54.8,37.5 L54.4,39.1 L53.9,40.6 L53.2,42.1 L52.4,43.5 L51.5,44.9M14.5,41.2 L14.1,42.7 L13.5,44.1 L12.9,45.5 L12.2,46.9 L11.5,48.3 L10.7,49.6 L9.8,50.9 L8.9,52.1 L7.9,53.3M28.5,61.2 L28.8,62.8 L29.2,64.3 L29.7,65.9 L30.3,67.3 L31.0,68.8 L31.8,70.2 L32.6,71.5 L33.6,72.8M37.9,57.6 L36.7,58.7 L35.7,60.0 L34.7,61.3 L33.8,62.6 L33.0,64.0 L32.3,65.5M64.0,-0.3 L65.5,0.3 L67.1,0.7 L68.7,1.1 L70.3,1.4 L71.9,1.7 L73.5,1.9M39.7,2.2 L39.2,3.7 L38.8,5.2 L38.4,6.8 L38.0,8.3 L37.6,9.9 L37.2,11.4 L36.9,12.9" stroke="#8a8a8a" stroke-width="1.3" stroke-opacity="0.7200000000000001"/>
</g></g>
<rect x="18.70" y="535.90" width="399.50" height="79.80" fill="none" stroke="#000" stroke-width="1.6"/>
<line x1="98.12" y1="536.60" x2="98.12" y2="615.00" stroke="#505050" stroke-width="0.9"/>
<line x1="178.34" y1="536.60" x2="178.34" y2="615.00" stroke="#505050" stroke-width="0.9"/>
<line x1="258.56" y1="536.60" x2="258.56" y2="615.00" stroke="#505050" stroke-width="0.9"/>
<line x1="338.78" y1="536.60" x2="338.78" y2="615.00" stroke="#505050" stroke-width="0.9"/>
<clipPath id="c36"><rect x="17.90" y="618.10" width="80.22" height="81.40"/></clipPath>
<g clip-path="url(#c36)">
<rect x="17.90" y="618.10" width="80.22" height="81.40" fill="#d6d6d6" filter="url(#nzl)"/>
<g transform="translate(17.90,618.10)" fill="none" stroke-linecap="round" stroke-linejoin="round" filter="url(#bl)">
<path d="M76.5,33.7 L75.5,35.9M76.3,75.3 L74.1,76.1" stroke="#888" stroke-width="1.25" stroke-opacity="0.5"/>
</g></g>
<clipPath id="c37"><rect x="98.12" y="618.10" width="80.22" height="81.40"/></clipPath>
<g clip-path="url(#c37)">
<rect x="98.12" y="618.10" width="80.22" height="81.40" fill="#d8d8d8" filter="url(#nzl)"/>
<g transform="translate(98.12,618.10)" fill="none" stroke-linecap="round" stroke-linejoin="round" filter="url(#bl)">
<path d="M58.4,43.4 L56.7,44.4 L55.1,45.4 L53.5,46.6M47.1,3.0 L48.8,3.7 L50.4,4.3M57.8,20.4 L58.0,21.9 L58.1,23.4 L58.2,25.0M6.4,64.1 L4.7,65.3 L3.0,66.5M36.8,55.4 L37.7,57.3 L38.5,59.2M11.4,44.0 L12.6,45.2 L13.9,46.3 L15.2,47.3" stroke="#606060" stroke-width="1.4" stroke-opacity="0.8"/>
<path d="M59.5,36.6 L61.4,37.2 L63.3,37.9 L65.0,38.8M17.7,46.6 L15.9,47.9 L14.3,49.3M15.9,74.6 L15.4,76.3 L14.8,78.0M78.3,19.1 L79.2,20.8 L80.0,22.6" stroke="#707070" stroke-width="1.15" stroke-opacity="0.7200000000000001"/>
<path d="M6.1,57.2 L4.4,57.4 L2.6,57.5 L0.9,57.5M25.1,63.2 L26.4,64.2 L27.7,65.2" stroke="#8a8a8a" stroke-width="1.15" stroke-opacity="0.6400000000000001"/>
</g></g>
<clipPath id="c38"><rect x="178.34" y="618.10" width="80.22" height="81.40"/></clipPath>
<g clip-path="url(#c38)">
<rect x="178.34" y="618.10" width="80.22" height="81.40" fill="#d8d8d8" filter="url(#nzl)"/>
<g transform="translate(178.34,618.10)" fill="none" stroke-linecap="round" stroke-linejoin="round" filter="url(#bl)">
<path d="M29.8,41.7 L30.5,43.1 L31.3,44.4 L32.1,45.7 L32.9,47.0M14.0,66.7 L12.4,67.6 L10.8,68.3 L9.2,69.0M40.1,27.5 L39.3,28.8 L38.3,30.1 L37.1,31.2M55.9,0.5 L56.1,2.5 L56.2,4.5M45.6,57.6 L45.4,59.1 L45.1,60.7 L44.7,62.2M55.3,4.1 L57.1,5.3 L59.0,6.4M53.5,34.7 L52.7,36.2 L52.0,37.7 L51.6,39.3 L51.3,41.0M29.2,7.8 L29.9,9.3 L30.4,10.7 L30.8,12.3 L31.1,13.8M60.2,38.8 L60.5,40.6 L61.0,42.4M50.0,39.7 L48.7,40.5 L47.5,41.4 L46.2,42.4" stroke="#555" stroke-width="1.4" stroke-opacity="0.8"/>
<path d="M7.7,29.9 L9.4,30.2 L11.1,30.6 L12.7,31.2 L14.3,32.0M51.3,3.4 L51.9,5.1 L52.5,6.9 L53.1,8.6M68.2,16.6 L68.6,18.4 L68.9,20.2M63.1,28.7 L64.7,29.0 L66.4,29.3 L68.1,29.5M44.3,64.2 L45.7,65.6 L47.2,67.0M17.6,55.8 L17.1,57.6 L16.6,59.4M38.8,12.7 L39.1,14.3 L39.2,15.9M13.5,46.6 L12.2,47.8 L11.0,49.1 L9.9,50.4 L9.0,51.9" stroke="#707070" stroke-width="1.15" stroke-opacity="0.7200000000000001"/>
<path d="M34.9,61.4 L34.8,63.3 L34.8,65.3M74.6,58.4 L76.2,59.5 L77.7,60.8M34.8,21.5 L33.5,22.6 L32.1,23.7 L30.7,24.7 L29.2,25.6M23.5,67.0 L24.6,68.6 L25.8,70.2" stroke="#8a8a8a" stroke-width="1.15" stroke-opacity="0.6400000000000001"/>
</g></g>
<clipPath id="c39"><rect x="258.56" y="618.10" width="80.22" height="81.40"/></clipPath>
<g clip-path="url(#c39)">
<rect x="258.56" y="618.10" width="80.22" height="81.40" fill="#d8d8d8" filter="url(#nzl)"/>
<g transform="translate(258.56,618.10)" fill="none" stroke-linecap="round" stroke-linejoin="round" filter="url(#bl)">
<path d="M77.9,17.0 L76.1,17.8 L74.3,18.8M42.1,37.4 L44.1,37.8 L46.1,38.4M48.8,19.8 L49.7,21.4 L50.7,22.9M19.0,13.8 L19.2,15.8 L19.5,17.7M51.3,31.6 L50.6,33.2 L50.1,34.9 L49.7,36.6M52.4,32.8 L51.2,34.3 L49.9,35.7 L48.5,37.0M6.2,55.2 L7.0,57.0 L7.9,58.8M24.1,55.3 L23.1,56.7 L22.1,58.1 L21.2,59.5M72.4,44.3 L73.7,45.3 L75.0,46.2 L76.3,47.1 L77.7,47.9M71.8,11.3 L72.8,12.7 L73.7,14.0M64.1,30.3 L63.8,32.3 L63.7,34.2M24.1,40.0 L24.6,41.5 L25.2,43.1" stroke="#505050" stroke-width="1.4" stroke-opacity="0.8"/>
<path d="M64.9,11.3 L64.3,12.7 L63.8,14.2 L63.4,15.8 L63.2,17.4M47.0,5.5 L48.8,5.7 L50.6,6.1 L52.4,6.5M65.9,0.7 L64.3,2.0 L62.8,3.4M50.3,47.7 L51.9,48.2 L53.5,48.8M18.3,60.4 L18.2,62.2 L18.3,64.0 L18.3,65.8M73.9,22.6 L72.0,23.4 L70.0,24.2M38.2,5.9 L38.5,7.5 L39.1,9.1 L39.8,10.6M26.7,45.1 L27.8,46.3 L29.0,47.5 L30.3,48.6 L31.6,49.7M69.1,44.2 L70.8,45.2 L72.4,46.3 L73.9,47.6M56.0,11.5 L55.1,12.7 L54.2,13.9 L53.3,15.2 L52.4,16.4M54.0,14.7 L53.3,16.3 L52.4,17.7 L51.3,19.1" stroke="#707070" stroke-width="1.15" stroke-opacity="0.7200000000000001"/>
<path d="M30.5,74.7 L31.5,76.6 L32.2,78.5M60.7,13.6 L61.0,15.7 L61.2,17.9M33.6,2.4 L33.2,4.3 L32.7,6.2M79.2,37.4 L79.0,39.0 L78.6,40.6 L78.0,42.1M67.6,43.2 L68.0,44.7 L68.3,46.2 L68.5,47.7" stroke="#8a8a8a" stroke-width="1.15" stroke-opacity="0.6400000000000001"/>
</g></g>
<clipPath id="c40"><rect x="338.78" y="618.10" width="80.22" height="81.40"/></clipPath>
<g clip-path="url(#c40)">
<rect x="338.78" y="618.10" width="80.22" height="81.40" fill="#d8d8d8" filter="url(#nzl)"/>
<g transform="translate(338.78,618.10)" fill="none" stroke-linecap="round" stroke-linejoin="round" filter="url(#bl)">
<path d="M64.8,49.6 L65.5,51.1 L66.3,52.7M75.1,69.7 L76.7,69.8 L78.2,70.1 L79.7,70.5M45.2,28.3 L44.5,29.7 L43.8,31.2 L43.3,32.7 L43.0,34.2 L42.8,35.8M30.3,74.4 L31.6,75.3 L32.8,76.2 L34.0,77.2 L35.2,78.2 L36.3,79.2M57.8,50.7 L56.3,50.9 L54.8,51.1 L53.3,51.4 L51.8,51.7 L50.3,52.1M74.9,14.1 L73.6,15.1 L72.1,15.9 L70.6,16.5M1.7,59.0 L2.9,60.2 L4.2,61.2 L5.6,62.0 L7.1,62.7M51.7,49.6 L51.5,51.6 L51.3,53.7M29.7,78.3 L30.9,79.9 L32.1,81.4M45.5,47.6 L46.9,48.5 L48.3,49.5 L49.6,50.5 L50.9,51.7M54.0,30.8 L55.7,31.1 L57.4,31.5 L59.0,31.9 L60.7,32.3M72.0,42.0 L72.8,43.6 L73.6,45.1M0.5,38.0 L1.9,38.9 L3.4,39.7M8.1,39.1 L6.3,39.0 L4.5,38.8M63.7,15.8 L65.6,16.1 L67.4,16.2 L69.2,16.2" stroke="#4a4a4a" stroke-width="1.4" stroke-opacity="0.85"/>
<path d="M23.0,35.3 L23.4,37.3 L24.0,39.3M10.4,47.7 L9.3,48.8 L8.2,49.8 L7.1,50.8 L5.9,51.7M31.3,47.6 L30.6,48.9 L29.8,50.2 L29.0,51.4 L28.0,52.6 L27.0,53.7M73.2,55.2 L75.0,55.9 L76.9,56.3M29.4,43.2 L28.9,44.7 L28.4,46.1 L28.0,47.6 L27.8,49.2 L27.6,50.7M11.1,63.5 L9.5,63.6 L7.8,63.9 L6.2,64.1M0.9,74.1 L1.2,75.8 L1.4,77.5 L1.4,79.2 L1.4,80.9M11.7,19.5 L10.1,20.1 L8.5,20.7M72.7,54.6 L74.4,54.8 L76.1,55.3 L77.7,55.9M66.0,61.9 L67.0,63.1 L68.1,64.1 L69.2,65.1 L70.5,65.9M26.7,63.6 L28.0,64.5 L29.3,65.5 L30.6,66.5 L31.8,67.4 L33.1,68.3M23.8,9.9 L23.2,11.3 L22.4,12.6 L21.6,13.9 L20.6,15.0 L19.5,16.0M70.8,26.3 L70.8,28.0 L70.6,29.8 L70.3,31.5M63.4,60.5 L61.8,60.5 L60.1,60.4" stroke="#707070" stroke-width="1.15" stroke-opacity="0.765"/>
<path d="M28.4,70.1 L30.0,70.2 L31.6,70.3 L33.2,70.6M60.1,-0.4 L58.7,0.3 L57.4,1.1 L56.1,2.1 L54.9,3.1 L53.8,4.2M21.7,3.7 L23.4,4.1 L25.1,4.3 L26.8,4.5 L28.6,4.5M71.1,14.5 L71.9,16.3 L72.6,18.1M71.8,11.2 L70.6,12.4 L69.5,13.5 L68.5,14.7 L67.4,15.9M48.7,60.2 L48.2,62.0 L47.6,63.8 L47.0,65.5 L46.3,67.3M1.6,2.1 L3.1,2.7 L4.5,3.4 L5.8,4.4" stroke="#8a8a8a" stroke-width="1.15" stroke-opacity="0.68"/>
</g></g>
<rect x="18.70" y="618.90" width="399.50" height="79.80" fill="none" stroke="#000" stroke-width="1.6"/>
<line x1="98.12" y1="619.60" x2="98.12" y2="698.00" stroke="#505050" stroke-width="0.9"/>
<line x1="178.34" y1="619.60" x2="178.34" y2="698.00" stroke="#505050" stroke-width="0.9"/>
<line x1="258.56" y1="619.60" x2="258.56" y2="698.00" stroke="#505050" stroke-width="0.9"/>
<line x1="338.78" y1="619.60" x2="338.78" y2="698.00" stroke="#505050" stroke-width="0.9"/>
<text x="58.1" y="366.6" font-size="10" text-anchor="middle" fill="#000">0</text>
<text x="141.1" y="366.6" font-size="10" text-anchor="middle" fill="#000">150</text>
<text x="220.8" y="366.6" font-size="10" text-anchor="middle" fill="#000">300</text>
<text x="298.1" y="366.6" font-size="10" text-anchor="middle" fill="#000">450</text>
<text x="376.5" y="366.6" font-size="10" text-anchor="middle" fill="#000">600</text>
<text x="417.6" y="366.6" font-size="9.4" text-anchor="start" fill="#000">s</text>
<text x="2.8" y="367.4" font-size="9.0" text-anchor="start" fill="#000">d</text>
<rect x="398" y="693.5" width="12" height="1.6" fill="#000"/>
<text x="16.3" y="416.0" font-size="10" text-anchor="middle" fill="#000" textLength="42.7" lengthAdjust="spacingAndGlyphs" transform="rotate(-90 16.3 416.0)">ADP-actin</text>
<text x="14.2" y="498.8" font-size="10" text-anchor="middle" fill="#000" textLength="59.6" lengthAdjust="spacingAndGlyphs" transform="rotate(-90 14.2 498.8)">+ Spa2(1-535)</text>
<text x="14.2" y="577.7" font-size="10" text-anchor="middle" fill="#000" textLength="64.0" lengthAdjust="spacingAndGlyphs" transform="rotate(-90 14.2 577.7)">+Spa2(281-535)</text>
<text x="14.2" y="662.4" font-size="10" text-anchor="middle" fill="#000" textLength="60.7" lengthAdjust="spacingAndGlyphs" transform="rotate(-90 14.2 662.4)">+ Spa2(1-281)</text>
<rect x="626.3" y="542.9" width="52.7" height="1.6" fill="#000"/>
<text x="651.0" y="540.8" font-size="9.4" text-anchor="middle" fill="#000">5 min</text>
<rect x="683.5" y="678.6" width="1.5" height="23.2" fill="#000"/>
<clipPath id="c41"><rect x="627.0" y="548.2" width="52.0" height="36.19999999999993"/></clipPath>
<g clip-path="url(#c41)">
<g filter="url(#kn0)"><rect x="627.0" y="548.2" width="52.0" height="36.19999999999993" fill="#000"/>
<polygon points="627.3,580.0 632.5,573.0 639.5,567.8 646.5,561.6 652.6,558.1 661.4,555.5 670.2,553.8 679.0,552.9 679.0,577.0 665.8,577.4 652.6,578.3 639.5,580.0 627.3,583.5" fill="#e0e0e0"/>
<polyline points="630,579 640,574 652,570 665,568 679,567" fill="none" stroke="#555" stroke-width="2.2"/>
</g>
</g>
<clipPath id="c42"><rect x="627.0" y="587.2" width="52.0" height="36.69999999999993"/></clipPath>
<g clip-path="url(#c42)">
<g filter="url(#kn1)"><rect x="627.0" y="587.2" width="52.0" height="36.69999999999993" fill="#000"/>
<polygon points="627.0,612.0 632.5,608.5 639.5,605.0 648.3,600.6 657.0,597.1 665.8,594.5 674.5,591.0 679.0,588.8 679.0,623.0 627.0,623.0" fill="#d8d8d8"/>
<line x1="647.8" y1="591" x2="647.8" y2="619" stroke="#fff" stroke-width="0.9"/>
</g>
</g>
<clipPath id="c43"><rect x="627.0" y="626.9" width="52.0" height="36.60000000000002"/></clipPath>
<g clip-path="url(#c43)">
<g filter="url(#kn2)"><rect x="627.0" y="626.9" width="52.0" height="36.60000000000002" fill="#000"/>
<polygon points="627.0,648.5 635.1,645.9 643.9,641.5 652.6,637.1 657.0,633.6 665.8,631.0 674.5,629.3 679.0,627.5 679.0,662.5 627.0,662.5" fill="#d0d0d0"/>
<line x1="656.4" y1="626.9" x2="656.4" y2="663" stroke="#fff" stroke-width="1.0"/>
<line x1="627" y1="661" x2="679" y2="661" stroke="#eee" stroke-width="1.4"/>
</g>
</g>
<clipPath id="c44"><rect x="627.0" y="666.6" width="52.0" height="35.89999999999998"/></clipPath>
<g clip-path="url(#c44)">
<g filter="url(#kn3)"><rect x="627.0" y="666.6" width="52.0" height="35.89999999999998" fill="#000"/>
<polygon points="627.0,689.3 632.5,685.8 639.5,684.0 648.3,682.3 652.6,680.1 661.4,679.2 670.2,679.2 679.0,678.3 679.0,695.4 652.0,696.7 639.5,697.2 627.0,696.3" fill="#e4e4e4"/>
</g>
<rect x="668.6" y="674.2" width="0.8" height="0.8" fill="#bbb"/>
<rect x="639.5" y="685.8" width="0.8" height="0.8" fill="#bbb"/>
<rect x="633.0" y="677.7" width="0.8" height="0.8" fill="#bbb"/>
<rect x="656.0" y="680.9" width="0.8" height="0.8" fill="#bbb"/>
<rect x="634.6" y="681.4" width="0.8" height="0.8" fill="#bbb"/>
<rect x="653.0" y="686.5" width="0.8" height="0.8" fill="#bbb"/>
<rect x="628.5" y="689.0" width="0.8" height="0.8" fill="#bbb"/>
<rect x="636.0" y="685.6" width="0.8" height="0.8" fill="#bbb"/>
<rect x="653.4" y="686.2" width="0.8" height="0.8" fill="#bbb"/>
<rect x="636.5" y="674.1" width="0.8" height="0.8" fill="#bbb"/>
<rect x="631.5" y="684.8" width="0.8" height="0.8" fill="#bbb"/>
<rect x="654.8" y="671.4" width="0.8" height="0.8" fill="#bbb"/>
<rect x="637.0" y="668.5" width="0.8" height="0.8" fill="#bbb"/>
<rect x="637.4" y="679.7" width="0.8" height="0.8" fill="#bbb"/>
<rect x="649.8" y="683.1" width="0.8" height="0.8" fill="#bbb"/>
<rect x="631.0" y="686.2" width="0.8" height="0.8" fill="#bbb"/>
<rect x="678.1" y="683.9" width="0.8" height="0.8" fill="#bbb"/>
<rect x="665.6" y="686.5" width="0.8" height="0.8" fill="#bbb"/>
<rect x="631.9" y="677.4" width="0.8" height="0.8" fill="#bbb"/>
<rect x="631.1" y="684.9" width="0.8" height="0.8" fill="#bbb"/>
<rect x="655.0" y="669.1" width="0.8" height="0.8" fill="#bbb"/>
<rect x="650.1" y="684.8" width="0.8" height="0.8" fill="#bbb"/>
<rect x="655.7" y="669.4" width="0.8" height="0.8" fill="#bbb"/>
<rect x="675.7" y="667.9" width="0.8" height="0.8" fill="#bbb"/>
<rect x="670.8" y="689.4" width="0.8" height="0.8" fill="#bbb"/>
<rect x="666.1" y="688.7" width="0.8" height="0.8" fill="#bbb"/>
<rect x="654.6" y="671.7" width="0.8" height="0.8" fill="#bbb"/>
<rect x="651.6" y="683.9" width="0.8" height="0.8" fill="#bbb"/>
<rect x="667.0" y="675.6" width="0.8" height="0.8" fill="#bbb"/>
<rect x="676.3" y="667.4" width="0.8" height="0.8" fill="#bbb"/>
<rect x="652.8" y="667.5" width="0.8" height="0.8" fill="#bbb"/>
<rect x="645.6" y="689.7" width="0.8" height="0.8" fill="#bbb"/>
<rect x="633.1" y="689.7" width="0.8" height="0.8" fill="#bbb"/>
<rect x="674.1" y="682.7" width="0.8" height="0.8" fill="#bbb"/>
<rect x="629.9" y="677.6" width="0.8" height="0.8" fill="#bbb"/>
<rect x="663.0" y="668.8" width="0.8" height="0.8" fill="#bbb"/>
<rect x="642.5" y="668.7" width="0.8" height="0.8" fill="#bbb"/>
<rect x="670.9" y="688.0" width="0.8" height="0.8" fill="#bbb"/>
<rect x="675.0" y="684.2" width="0.8" height="0.8" fill="#bbb"/>
<rect x="656.9" y="668.1" width="0.8" height="0.8" fill="#bbb"/>
</g>
<text x="624.4" y="570.6" font-size="10" text-anchor="middle" fill="#000" textLength="42.3" lengthAdjust="spacingAndGlyphs" transform="rotate(-90 624.4 570.6)">ADP-actin</text>
<text x="611.5" y="612.0" font-size="10" text-anchor="middle" fill="#000" textLength="27.8" lengthAdjust="spacingAndGlyphs" transform="rotate(-90 611.5 612.0)">+Spa2</text>
<text x="624.4" y="612.0" font-size="10" text-anchor="middle" fill="#000" textLength="31.5" lengthAdjust="spacingAndGlyphs" transform="rotate(-90 624.4 612.0)">(1-535)</text>
<text x="611.5" y="651.0" font-size="10" text-anchor="middle" fill="#000" textLength="27.8" lengthAdjust="spacingAndGlyphs" transform="rotate(-90 611.5 651.0)">+Spa2</text>
<text x="624.4" y="651.0" font-size="10" text-anchor="middle" fill="#000" textLength="39.3" lengthAdjust="spacingAndGlyphs" transform="rotate(-90 624.4 651.0)">(281-535)</text>
<text x="611.5" y="688.0" font-size="10" text-anchor="middle" fill="#000" textLength="27.8" lengthAdjust="spacingAndGlyphs" transform="rotate(-90 611.5 688.0)">+Spa2</text>
<text x="624.4" y="688.0" font-size="10" text-anchor="middle" fill="#000" textLength="31.5" lengthAdjust="spacingAndGlyphs" transform="rotate(-90 624.4 688.0)">(1-281)</text>
</svg></body></html>
